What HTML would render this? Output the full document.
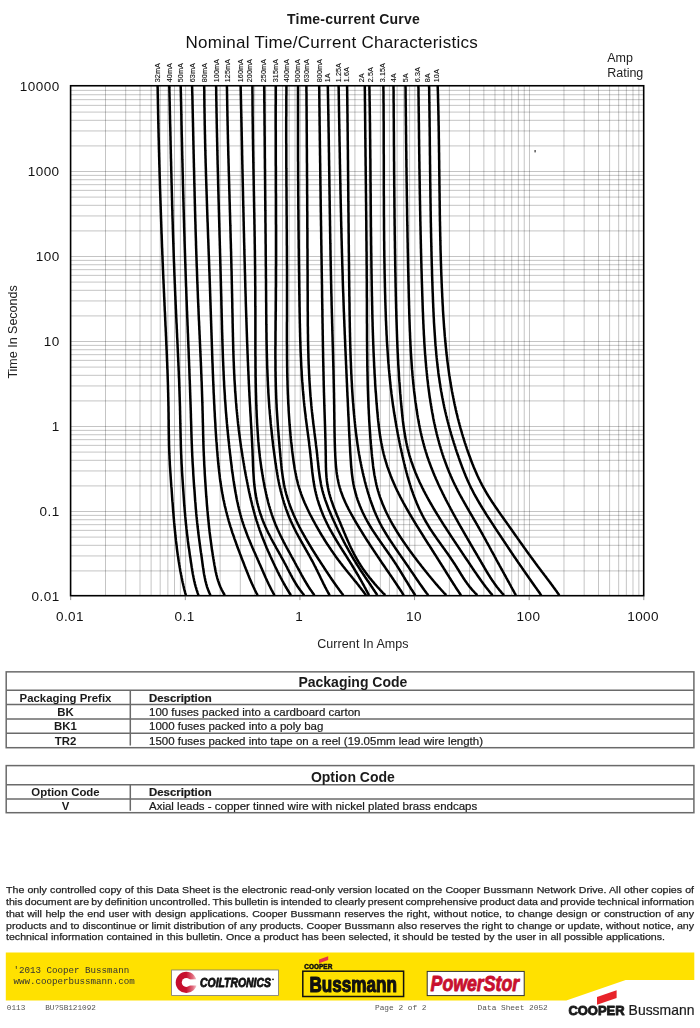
<!DOCTYPE html>
<html><head><meta charset="utf-8"><title>Time-current Curve</title>
<style>
html,body{margin:0;padding:0;background:#fff;}
body{width:700px;height:1028px;position:relative;overflow:hidden;font-family:"Liberation Sans",sans-serif;color:#231f20;}
.abs{position:absolute;}
.tbl{position:absolute;left:5.45px;width:689.3px;border:1.5px solid transparent;box-sizing:border-box;}
.tbl .row{position:absolute;left:0;right:0;border-top:1.5px solid #6e6969;}
.tbl .vd{position:absolute;left:122.5px;width:1.4px;background:#6e6969;}
.tt{position:absolute;left:5.6px;right:0;text-align:center;font-weight:bold;font-size:14px;line-height:16px;white-space:nowrap;color:#231815;}
.c1{position:absolute;left:-1.5px;width:121px;text-align:center;font-weight:bold;font-size:10.5px;line-height:12px;white-space:nowrap;transform:scaleX(1.085);transform-origin:50% 50%;color:#231815;}
.c2{position:absolute;left:142.9px;font-size:10.7px;line-height:12px;white-space:nowrap;transform:scaleX(1.075);transform-origin:0 50%;color:#231815;-webkit-text-stroke:0.2px #231815;}
.c2b{font-weight:bold;font-size:10.5px;transform:scaleX(1.085);}
.para{position:absolute;left:5.9px;width:640px;top:884px;font-size:9.8px;line-height:11.84px;color:#231f20;transform:scaleX(1.083);transform-origin:0 0;-webkit-text-stroke:0.25px #231f20;}
.para div{white-space:nowrap;}
.mono{font-family:"Liberation Mono",monospace;white-space:nowrap;position:absolute;}
.gs{filter:grayscale(1);}

</style></head><body>
<div style="filter:grayscale(1)">
<svg width="700" height="660" viewBox="0 0 700 660" style="position:absolute;left:0;top:0">
<path d="M105.50,85.75V595.7 M125.69,85.75V595.7 M140.01,85.75V595.7 M151.12,85.75V595.7 M160.19,85.75V595.7 M167.87,85.75V595.7 M174.51,85.75V595.7 M180.38,85.75V595.7 M185.62,85.75V595.7 M220.12,85.75V595.7 M240.31,85.75V595.7 M254.63,85.75V595.7 M265.74,85.75V595.7 M274.81,85.75V595.7 M282.49,85.75V595.7 M289.13,85.75V595.7 M295.00,85.75V595.7 M300.24,85.75V595.7 M334.74,85.75V595.7 M354.93,85.75V595.7 M369.25,85.75V595.7 M380.36,85.75V595.7 M389.43,85.75V595.7 M397.11,85.75V595.7 M403.75,85.75V595.7 M409.62,85.75V595.7 M414.86,85.75V595.7 M449.36,85.75V595.7 M469.55,85.75V595.7 M483.87,85.75V595.7 M494.98,85.75V595.7 M504.05,85.75V595.7 M511.73,85.75V595.7 M518.37,85.75V595.7 M524.24,85.75V595.7 M529.48,85.75V595.7 M563.98,85.75V595.7 M584.17,85.75V595.7 M598.49,85.75V595.7 M609.60,85.75V595.7 M618.67,85.75V595.7 M626.35,85.75V595.7 M632.99,85.75V595.7 M638.86,85.75V595.7 M70.6,570.91H643.7 M70.6,555.94H643.7 M70.6,545.32H643.7 M70.6,537.09H643.7 M70.6,530.36H643.7 M70.6,524.67H643.7 M70.6,519.74H643.7 M70.6,515.39H643.7 M70.6,511.50H643.7 M70.6,485.91H643.7 M70.6,470.94H643.7 M70.6,460.32H643.7 M70.6,452.09H643.7 M70.6,445.36H643.7 M70.6,439.67H643.7 M70.6,434.74H643.7 M70.6,430.39H643.7 M70.6,426.50H643.7 M70.6,400.91H643.7 M70.6,385.94H643.7 M70.6,375.32H643.7 M70.6,367.09H643.7 M70.6,360.36H643.7 M70.6,354.67H643.7 M70.6,349.74H643.7 M70.6,345.39H643.7 M70.6,341.50H643.7 M70.6,315.91H643.7 M70.6,300.94H643.7 M70.6,290.32H643.7 M70.6,282.09H643.7 M70.6,275.36H643.7 M70.6,269.67H643.7 M70.6,264.74H643.7 M70.6,260.39H643.7 M70.6,256.50H643.7 M70.6,230.91H643.7 M70.6,215.94H643.7 M70.6,205.32H643.7 M70.6,197.09H643.7 M70.6,190.36H643.7 M70.6,184.67H643.7 M70.6,179.74H643.7 M70.6,175.39H643.7 M70.6,171.50H643.7 M70.6,145.91H643.7 M70.6,130.94H643.7 M70.6,120.32H643.7 M70.6,112.09H643.7 M70.6,105.36H643.7 M70.6,99.67H643.7 M70.6,94.74H643.7 M70.6,90.39H643.7" stroke="#000" stroke-opacity="0.23" stroke-width="1" fill="none"/>
<path d="M70.70,596.4v3.7 M185.32,596.4v3.7 M299.94,596.4v3.7 M414.56,596.4v3.7 M529.18,596.4v3.7 M643.80,596.4v3.7" stroke="#888" stroke-width="0.9" fill="none"/>
<g stroke="#000" stroke-width="2.5" fill="none" stroke-linejoin="round">
<path d="M157.6,85.8 L157.6,87.2 L157.7,88.8 L157.7,90.2 L157.7,91.8 L157.7,93.2 L157.8,94.8 L157.8,96.2 L157.8,97.8 L157.9,99.2 L157.9,100.8 L157.9,102.2 L157.9,103.8 L158.0,105.2 L158.0,106.8 L158.0,108.2 L158.1,109.8 L158.1,111.2 L158.1,112.8 L158.1,114.2 L158.2,115.8 L158.2,117.2 L158.2,118.8 L158.3,120.2 L158.3,121.8 L158.3,123.2 L158.4,124.8 L158.4,126.2 L158.4,127.8 L158.5,129.2 L158.5,130.8 L158.5,132.2 L158.6,133.8 L158.6,135.2 L158.6,136.8 L158.7,138.2 L158.7,139.8 L158.8,141.2 L158.8,142.8 L158.8,144.2 L158.9,145.8 L158.9,147.2 L158.9,148.8 L159.0,150.2 L159.0,151.8 L159.1,153.2 L159.1,154.8 L159.1,156.2 L159.2,157.8 L159.2,159.2 L159.3,160.8 L159.3,162.2 L159.3,163.8 L159.4,165.2 L159.4,166.8 L159.5,168.2 L159.5,169.8 L159.5,171.2 L159.6,172.8 L159.6,174.2 L159.7,175.8 L159.7,177.2 L159.8,178.8 L159.8,180.2 L159.9,181.8 L159.9,183.2 L159.9,184.8 L160.0,186.2 L160.0,187.8 L160.1,189.2 L160.1,190.8 L160.2,192.2 L160.2,193.8 L160.3,195.2 L160.3,196.8 L160.4,198.2 L160.4,199.8 L160.5,201.2 L160.5,202.8 L160.6,204.2 L160.6,205.8 L160.7,207.2 L160.7,208.8 L160.8,210.2 L160.8,211.8 L160.9,213.2 L160.9,214.8 L161.0,216.2 L161.0,217.8 L161.1,219.2 L161.1,220.8 L161.2,222.2 L161.2,223.8 L161.3,225.2 L161.3,226.8 L161.4,228.2 L161.4,229.8 L161.5,231.2 L161.5,232.8 L161.6,234.2 L161.7,235.8 L161.7,237.2 L161.8,238.8 L161.8,240.2 L161.9,241.8 L161.9,243.2 L162.0,244.8 L162.0,246.2 L162.1,247.8 L162.2,249.2 L162.2,250.8 L162.3,252.2 L162.3,253.8 L162.4,255.2 L162.5,256.8 L162.5,258.2 L162.6,259.8 L162.6,261.2 L162.7,262.8 L162.8,264.2 L162.8,265.8 L162.9,267.2 L162.9,268.8 L163.0,270.2 L163.1,271.8 L163.1,273.2 L163.2,274.8 L163.3,276.2 L163.3,277.8 L163.4,279.2 L163.5,280.8 L163.5,282.2 L163.6,283.8 L163.7,285.2 L163.7,286.8 L163.8,288.2 L163.9,289.8 L163.9,291.2 L164.0,292.8 L164.1,294.2 L164.1,295.8 L164.2,297.2 L164.3,298.8 L164.3,300.2 L164.4,301.8 L164.5,303.2 L164.5,304.8 L164.6,306.2 L164.7,307.8 L164.7,309.2 L164.8,310.8 L164.9,312.2 L165.0,313.8 L165.0,315.2 L165.1,316.8 L165.2,318.2 L165.2,319.8 L165.3,321.2 L165.4,322.8 L165.4,324.2 L165.5,325.8 L165.6,327.2 L165.7,328.8 L165.7,330.2 L165.8,331.8 L165.9,333.2 L165.9,334.8 L166.0,336.2 L166.1,337.8 L166.1,339.2 L166.2,340.8 L166.3,342.2 L166.3,343.8 L166.4,345.2 L166.5,346.8 L166.5,348.2 L166.6,349.8 L166.7,351.2 L166.7,352.8 L166.8,354.2 L166.9,355.8 L166.9,357.2 L167.0,358.8 L167.0,360.2 L167.1,361.8 L167.2,363.2 L167.2,364.8 L167.3,366.2 L167.3,367.8 L167.4,369.2 L167.5,370.8 L167.5,372.2 L167.6,373.8 L167.6,375.2 L167.7,376.8 L167.7,378.2 L167.8,379.8 L167.8,381.2 L167.9,382.8 L167.9,384.2 L168.0,385.8 L168.0,387.2 L168.0,388.8 L168.1,390.2 L168.1,391.8 L168.2,393.2 L168.2,394.8 L168.2,396.2 L168.3,397.8 L168.3,399.2 L168.3,400.8 L168.4,402.2 L168.4,403.8 L168.4,405.2 L168.5,406.8 L168.5,408.2 L168.5,409.8 L168.5,411.2 L168.6,412.8 L168.6,414.2 L168.6,415.8 L168.6,417.2 L168.6,418.8 L168.7,420.2 L168.7,421.8 L168.7,423.2 L168.7,424.8 L168.7,426.2 L168.7,427.8 L168.8,429.2 L168.8,430.8 L168.8,432.2 L168.8,433.8 L168.9,435.2 L168.9,436.8 L168.9,438.2 L168.9,439.8 L169.0,441.2 L169.0,442.8 L169.0,444.2 L169.1,445.8 L169.1,447.2 L169.2,448.8 L169.2,450.2 L169.3,451.8 L169.3,453.2 L169.4,454.8 L169.5,456.2 L169.5,457.8 L169.6,459.2 L169.7,460.8 L169.8,462.2 L169.8,463.8 L169.9,465.2 L170.0,466.8 L170.1,468.2 L170.2,469.8 L170.3,471.2 L170.4,472.8 L170.5,474.2 L170.6,475.8 L170.7,477.2 L170.8,478.8 L170.9,480.2 L171.0,481.8 L171.1,483.2 L171.2,484.8 L171.3,486.2 L171.5,487.8 L171.6,489.2 L171.7,490.8 L171.8,492.2 L171.9,493.8 L172.0,495.2 L172.1,496.8 L172.2,498.2 L172.3,499.8 L172.4,501.2 L172.6,502.8 L172.7,504.2 L172.8,505.8 L172.9,507.2 L173.0,508.8 L173.1,510.2 L173.2,511.8 L173.4,513.2 L173.5,514.8 L173.6,516.2 L173.7,517.8 L173.9,519.2 L174.0,520.8 L174.1,522.2 L174.3,523.8 L174.4,525.2 L174.5,526.8 L174.7,528.2 L174.8,529.8 L175.0,531.2 L175.1,532.8 L175.3,534.2 L175.4,535.8 L175.6,537.2 L175.8,538.8 L175.9,540.2 L176.1,541.8 L176.3,543.2 L176.5,544.8 L176.7,546.2 L176.8,547.8 L177.0,549.2 L177.2,550.8 L177.4,552.2 L177.6,553.8 L177.8,555.2 L178.1,556.8 L178.3,558.2 L178.5,559.8 L178.7,561.2 L179.0,562.8 L179.2,564.2 L179.5,565.8 L179.7,567.2 L180.0,568.8 L180.2,570.2 L180.5,571.8 L180.8,573.2 L181.1,574.8 L181.4,576.2 L181.7,577.8 L182.0,579.2 L182.3,580.8 L182.6,582.2 L183.0,583.8 L183.3,585.2 L183.7,586.8 L184.0,588.2 L184.4,589.8 L184.8,591.2 L185.2,592.8 L185.6,594.2 L185.9,595.2"/>
<path d="M169.3,85.8 L169.3,87.2 L169.4,88.8 L169.4,90.2 L169.4,91.8 L169.5,93.2 L169.5,94.8 L169.5,96.2 L169.6,97.8 L169.6,99.2 L169.6,100.8 L169.7,102.2 L169.7,103.8 L169.7,105.2 L169.8,106.8 L169.8,108.2 L169.8,109.8 L169.9,111.2 L169.9,112.8 L169.9,114.2 L170.0,115.8 L170.0,117.2 L170.0,118.8 L170.1,120.2 L170.1,121.8 L170.1,123.2 L170.2,124.8 L170.2,126.2 L170.3,127.8 L170.3,129.2 L170.3,130.8 L170.4,132.2 L170.4,133.8 L170.4,135.2 L170.5,136.8 L170.5,138.2 L170.5,139.8 L170.6,141.2 L170.6,142.8 L170.6,144.2 L170.7,145.8 L170.7,147.2 L170.7,148.8 L170.8,150.2 L170.8,151.8 L170.8,153.2 L170.9,154.8 L170.9,156.2 L170.9,157.8 L171.0,159.2 L171.0,160.8 L171.1,162.2 L171.1,163.8 L171.1,165.2 L171.2,166.8 L171.2,168.2 L171.2,169.8 L171.3,171.2 L171.3,172.8 L171.4,174.2 L171.4,175.8 L171.4,177.2 L171.5,178.8 L171.5,180.2 L171.5,181.8 L171.6,183.2 L171.6,184.8 L171.7,186.2 L171.7,187.8 L171.7,189.2 L171.8,190.8 L171.8,192.2 L171.9,193.8 L171.9,195.2 L171.9,196.8 L172.0,198.2 L172.0,199.8 L172.1,201.2 L172.1,202.8 L172.1,204.2 L172.2,205.8 L172.2,207.2 L172.3,208.8 L172.3,210.2 L172.4,211.8 L172.4,213.2 L172.4,214.8 L172.5,216.2 L172.5,217.8 L172.6,219.2 L172.6,220.8 L172.7,222.2 L172.7,223.8 L172.8,225.2 L172.8,226.8 L172.8,228.2 L172.9,229.8 L172.9,231.2 L173.0,232.8 L173.0,234.2 L173.1,235.8 L173.1,237.2 L173.2,238.8 L173.2,240.2 L173.3,241.8 L173.3,243.2 L173.4,244.8 L173.4,246.2 L173.5,247.8 L173.5,249.2 L173.6,250.8 L173.6,252.2 L173.7,253.8 L173.7,255.2 L173.8,256.8 L173.8,258.2 L173.9,259.8 L173.9,261.2 L174.0,262.8 L174.1,264.2 L174.1,265.8 L174.2,267.2 L174.2,268.8 L174.3,270.2 L174.3,271.8 L174.4,273.2 L174.4,274.8 L174.5,276.2 L174.6,277.8 L174.6,279.2 L174.7,280.8 L174.7,282.2 L174.8,283.8 L174.9,285.2 L174.9,286.8 L175.0,288.2 L175.0,289.8 L175.1,291.2 L175.2,292.8 L175.2,294.2 L175.3,295.8 L175.4,297.2 L175.4,298.8 L175.5,300.2 L175.6,301.8 L175.6,303.2 L175.7,304.8 L175.8,306.2 L175.8,307.8 L175.9,309.2 L176.0,310.8 L176.0,312.2 L176.1,313.8 L176.2,315.2 L176.2,316.8 L176.3,318.2 L176.4,319.8 L176.4,321.2 L176.5,322.8 L176.6,324.2 L176.7,325.8 L176.7,327.2 L176.8,328.8 L176.9,330.2 L176.9,331.8 L177.0,333.2 L177.1,334.8 L177.1,336.2 L177.2,337.8 L177.3,339.2 L177.4,340.8 L177.4,342.2 L177.5,343.8 L177.6,345.2 L177.6,346.8 L177.7,348.2 L177.8,349.8 L177.8,351.2 L177.9,352.8 L178.0,354.2 L178.0,355.8 L178.1,357.2 L178.2,358.8 L178.2,360.2 L178.3,361.8 L178.4,363.2 L178.4,364.8 L178.5,366.2 L178.6,367.8 L178.6,369.2 L178.7,370.8 L178.8,372.2 L178.8,373.8 L178.9,375.2 L178.9,376.8 L179.0,378.2 L179.1,379.8 L179.1,381.2 L179.2,382.8 L179.2,384.2 L179.3,385.8 L179.3,387.2 L179.4,388.8 L179.4,390.2 L179.5,391.8 L179.5,393.2 L179.6,394.8 L179.6,396.2 L179.7,397.8 L179.7,399.2 L179.8,400.8 L179.8,402.2 L179.9,403.8 L179.9,405.2 L180.0,406.8 L180.0,408.2 L180.0,409.8 L180.1,411.2 L180.1,412.8 L180.1,414.2 L180.2,415.8 L180.2,417.2 L180.2,418.8 L180.3,420.2 L180.3,421.8 L180.3,423.2 L180.4,424.8 L180.4,426.2 L180.4,427.8 L180.5,429.2 L180.5,430.8 L180.5,432.2 L180.6,433.8 L180.6,435.2 L180.6,436.8 L180.7,438.2 L180.7,439.8 L180.8,441.2 L180.8,442.8 L180.8,444.2 L180.9,445.8 L180.9,447.2 L181.0,448.8 L181.0,450.2 L181.1,451.8 L181.1,453.2 L181.2,454.8 L181.3,456.2 L181.3,457.8 L181.4,459.2 L181.5,460.8 L181.5,462.2 L181.6,463.8 L181.7,465.2 L181.8,466.8 L181.9,468.2 L181.9,469.8 L182.0,471.2 L182.1,472.8 L182.2,474.2 L182.3,475.8 L182.4,477.2 L182.5,478.8 L182.6,480.2 L182.7,481.8 L182.8,483.2 L182.9,484.8 L183.0,486.2 L183.1,487.8 L183.2,489.2 L183.3,490.8 L183.4,492.2 L183.5,493.8 L183.6,495.2 L183.7,496.8 L183.8,498.2 L183.9,499.8 L184.0,501.2 L184.1,502.8 L184.2,504.2 L184.3,505.8 L184.5,507.2 L184.6,508.8 L184.7,510.2 L184.8,511.8 L185.0,513.2 L185.1,514.8 L185.2,516.2 L185.4,517.8 L185.5,519.2 L185.6,520.8 L185.8,522.2 L185.9,523.8 L186.1,525.2 L186.3,526.8 L186.4,528.2 L186.6,529.8 L186.8,531.2 L186.9,532.8 L187.1,534.2 L187.3,535.8 L187.5,537.2 L187.7,538.8 L187.8,540.2 L188.0,541.8 L188.2,543.2 L188.4,544.8 L188.6,546.2 L188.8,547.8 L189.1,549.2 L189.3,550.8 L189.5,552.2 L189.7,553.8 L189.9,555.2 L190.1,556.8 L190.4,558.2 L190.6,559.8 L190.8,561.2 L191.0,562.8 L191.3,564.2 L191.5,565.8 L191.7,567.2 L192.0,568.8 L192.2,570.2 L192.5,571.8 L192.7,573.2 L193.0,574.8 L193.3,576.2 L193.6,577.8 L193.9,579.2 L194.2,580.8 L194.6,582.2 L194.9,583.8 L195.3,585.2 L195.7,586.8 L196.2,588.2 L196.6,589.8 L197.1,591.2 L197.6,592.8 L198.1,594.2 L198.5,595.2"/>
<path d="M180.7,85.8 L180.7,87.2 L180.8,88.8 L180.8,90.2 L180.8,91.8 L180.9,93.2 L180.9,94.8 L180.9,96.2 L181.0,97.8 L181.0,99.2 L181.0,100.8 L181.1,102.2 L181.1,103.8 L181.1,105.2 L181.2,106.8 L181.2,108.2 L181.2,109.8 L181.3,111.2 L181.3,112.8 L181.3,114.2 L181.4,115.8 L181.4,117.2 L181.4,118.8 L181.4,120.2 L181.5,121.8 L181.5,123.2 L181.5,124.8 L181.6,126.2 L181.6,127.8 L181.6,129.2 L181.7,130.8 L181.7,132.2 L181.7,133.8 L181.8,135.2 L181.8,136.8 L181.9,138.2 L181.9,139.8 L181.9,141.2 L182.0,142.8 L182.0,144.2 L182.0,145.8 L182.1,147.2 L182.1,148.8 L182.1,150.2 L182.2,151.8 L182.2,153.2 L182.2,154.8 L182.3,156.2 L182.3,157.8 L182.3,159.2 L182.4,160.8 L182.4,162.2 L182.5,163.8 L182.5,165.2 L182.5,166.8 L182.6,168.2 L182.6,169.8 L182.6,171.2 L182.7,172.8 L182.7,174.2 L182.8,175.8 L182.8,177.2 L182.8,178.8 L182.9,180.2 L182.9,181.8 L182.9,183.2 L183.0,184.8 L183.0,186.2 L183.1,187.8 L183.1,189.2 L183.1,190.8 L183.2,192.2 L183.2,193.8 L183.3,195.2 L183.3,196.8 L183.3,198.2 L183.4,199.8 L183.4,201.2 L183.5,202.8 L183.5,204.2 L183.5,205.8 L183.6,207.2 L183.6,208.8 L183.7,210.2 L183.7,211.8 L183.8,213.2 L183.8,214.8 L183.8,216.2 L183.9,217.8 L183.9,219.2 L184.0,220.8 L184.0,222.2 L184.1,223.8 L184.1,225.2 L184.1,226.8 L184.2,228.2 L184.2,229.8 L184.3,231.2 L184.3,232.8 L184.4,234.2 L184.4,235.8 L184.5,237.2 L184.5,238.8 L184.5,240.2 L184.6,241.8 L184.6,243.2 L184.7,244.8 L184.7,246.2 L184.8,247.8 L184.8,249.2 L184.9,250.8 L184.9,252.2 L185.0,253.8 L185.0,255.2 L185.1,256.8 L185.1,258.2 L185.2,259.8 L185.2,261.2 L185.3,262.8 L185.3,264.2 L185.4,265.8 L185.4,267.2 L185.5,268.8 L185.5,270.2 L185.6,271.8 L185.6,273.2 L185.7,274.8 L185.7,276.2 L185.8,277.8 L185.8,279.2 L185.9,280.8 L185.9,282.2 L186.0,283.8 L186.0,285.2 L186.1,286.8 L186.2,288.2 L186.2,289.8 L186.3,291.2 L186.3,292.8 L186.4,294.2 L186.4,295.8 L186.5,297.2 L186.5,298.8 L186.6,300.2 L186.7,301.8 L186.7,303.2 L186.8,304.8 L186.8,306.2 L186.9,307.8 L186.9,309.2 L187.0,310.8 L187.1,312.2 L187.1,313.8 L187.2,315.2 L187.2,316.8 L187.3,318.2 L187.4,319.8 L187.4,321.2 L187.5,322.8 L187.5,324.2 L187.6,325.8 L187.7,327.2 L187.7,328.8 L187.8,330.2 L187.8,331.8 L187.9,333.2 L188.0,334.8 L188.0,336.2 L188.1,337.8 L188.1,339.2 L188.2,340.8 L188.3,342.2 L188.3,343.8 L188.4,345.2 L188.4,346.8 L188.5,348.2 L188.6,349.8 L188.6,351.2 L188.7,352.8 L188.7,354.2 L188.8,355.8 L188.8,357.2 L188.9,358.8 L189.0,360.2 L189.0,361.8 L189.1,363.2 L189.1,364.8 L189.2,366.2 L189.3,367.8 L189.3,369.2 L189.4,370.8 L189.4,372.2 L189.5,373.8 L189.5,375.2 L189.6,376.8 L189.6,378.2 L189.7,379.8 L189.8,381.2 L189.8,382.8 L189.9,384.2 L189.9,385.8 L190.0,387.2 L190.0,388.8 L190.1,390.2 L190.1,391.8 L190.2,393.2 L190.2,394.8 L190.3,396.2 L190.3,397.8 L190.4,399.2 L190.4,400.8 L190.5,402.2 L190.5,403.8 L190.6,405.2 L190.6,406.8 L190.7,408.2 L190.7,409.8 L190.8,411.2 L190.8,412.8 L190.9,414.2 L190.9,415.8 L190.9,417.2 L191.0,418.8 L191.0,420.2 L191.1,421.8 L191.1,423.2 L191.2,424.8 L191.2,426.2 L191.3,427.8 L191.3,429.2 L191.3,430.8 L191.4,432.2 L191.4,433.8 L191.5,435.2 L191.5,436.8 L191.6,438.2 L191.6,439.8 L191.7,441.2 L191.7,442.8 L191.8,444.2 L191.9,445.8 L191.9,447.2 L192.0,448.8 L192.0,450.2 L192.1,451.8 L192.2,453.2 L192.2,454.8 L192.3,456.2 L192.4,457.8 L192.5,459.2 L192.5,460.8 L192.6,462.2 L192.7,463.8 L192.8,465.2 L192.9,466.8 L193.0,468.2 L193.1,469.8 L193.2,471.2 L193.2,472.8 L193.3,474.2 L193.4,475.8 L193.5,477.2 L193.6,478.8 L193.7,480.2 L193.8,481.8 L193.9,483.2 L194.0,484.8 L194.1,486.2 L194.2,487.8 L194.4,489.2 L194.5,490.8 L194.6,492.2 L194.7,493.8 L194.8,495.2 L194.9,496.8 L195.0,498.2 L195.1,499.8 L195.2,501.2 L195.4,502.8 L195.5,504.2 L195.6,505.8 L195.7,507.2 L195.8,508.8 L196.0,510.2 L196.1,511.8 L196.2,513.2 L196.4,514.8 L196.5,516.2 L196.7,517.8 L196.8,519.2 L197.0,520.8 L197.1,522.2 L197.3,523.8 L197.5,525.2 L197.6,526.8 L197.8,528.2 L198.0,529.8 L198.2,531.2 L198.3,532.8 L198.5,534.2 L198.7,535.8 L198.9,537.2 L199.1,538.8 L199.3,540.2 L199.5,541.8 L199.7,543.2 L199.9,544.8 L200.1,546.2 L200.3,547.8 L200.5,549.2 L200.7,550.8 L200.9,552.2 L201.2,553.8 L201.4,555.2 L201.6,556.8 L201.8,558.2 L202.0,559.8 L202.2,561.2 L202.4,562.8 L202.6,564.2 L202.8,565.8 L203.0,567.2 L203.3,568.8 L203.5,570.2 L203.7,571.8 L203.9,573.2 L204.2,574.8 L204.5,576.2 L204.8,577.8 L205.1,579.2 L205.4,580.8 L205.8,582.2 L206.2,583.8 L206.6,585.2 L207.0,586.8 L207.5,588.2 L208.1,589.8 L208.7,591.2 L209.3,592.8 L210.0,594.2 L210.4,595.2"/>
<path d="M192.1,85.8 L192.1,87.2 L192.2,88.8 L192.2,90.2 L192.2,91.8 L192.3,93.2 L192.3,94.8 L192.4,96.2 L192.4,97.8 L192.4,99.2 L192.5,100.8 L192.5,102.2 L192.5,103.8 L192.6,105.2 L192.6,106.8 L192.6,108.2 L192.7,109.8 L192.7,111.2 L192.7,112.8 L192.8,114.2 L192.8,115.8 L192.8,117.2 L192.9,118.8 L192.9,120.2 L192.9,121.8 L193.0,123.2 L193.0,124.8 L193.0,126.2 L193.1,127.8 L193.1,129.2 L193.1,130.8 L193.2,132.2 L193.2,133.8 L193.2,135.2 L193.3,136.8 L193.3,138.2 L193.3,139.8 L193.4,141.2 L193.4,142.8 L193.4,144.2 L193.5,145.8 L193.5,147.2 L193.5,148.8 L193.6,150.2 L193.6,151.8 L193.6,153.2 L193.7,154.8 L193.7,156.2 L193.7,157.8 L193.8,159.2 L193.8,160.8 L193.8,162.2 L193.9,163.8 L193.9,165.2 L193.9,166.8 L194.0,168.2 L194.0,169.8 L194.1,171.2 L194.1,172.8 L194.1,174.2 L194.2,175.8 L194.2,177.2 L194.2,178.8 L194.3,180.2 L194.3,181.8 L194.3,183.2 L194.4,184.8 L194.4,186.2 L194.5,187.8 L194.5,189.2 L194.5,190.8 L194.6,192.2 L194.6,193.8 L194.6,195.2 L194.7,196.8 L194.7,198.2 L194.8,199.8 L194.8,201.2 L194.8,202.8 L194.9,204.2 L194.9,205.8 L195.0,207.2 L195.0,208.8 L195.0,210.2 L195.1,211.8 L195.1,213.2 L195.2,214.8 L195.2,216.2 L195.2,217.8 L195.3,219.2 L195.3,220.8 L195.4,222.2 L195.4,223.8 L195.5,225.2 L195.5,226.8 L195.5,228.2 L195.6,229.8 L195.6,231.2 L195.7,232.8 L195.7,234.2 L195.8,235.8 L195.8,237.2 L195.9,238.8 L195.9,240.2 L196.0,241.8 L196.0,243.2 L196.0,244.8 L196.1,246.2 L196.1,247.8 L196.2,249.2 L196.2,250.8 L196.3,252.2 L196.3,253.8 L196.4,255.2 L196.4,256.8 L196.5,258.2 L196.5,259.8 L196.6,261.2 L196.6,262.8 L196.7,264.2 L196.7,265.8 L196.8,267.2 L196.9,268.8 L196.9,270.2 L197.0,271.8 L197.0,273.2 L197.1,274.8 L197.1,276.2 L197.2,277.8 L197.2,279.2 L197.3,280.8 L197.3,282.2 L197.4,283.8 L197.5,285.2 L197.5,286.8 L197.6,288.2 L197.6,289.8 L197.7,291.2 L197.8,292.8 L197.8,294.2 L197.9,295.8 L197.9,297.2 L198.0,298.8 L198.1,300.2 L198.1,301.8 L198.2,303.2 L198.3,304.8 L198.3,306.2 L198.4,307.8 L198.5,309.2 L198.5,310.8 L198.6,312.2 L198.6,313.8 L198.7,315.2 L198.8,316.8 L198.8,318.2 L198.9,319.8 L199.0,321.2 L199.1,322.8 L199.1,324.2 L199.2,325.8 L199.3,327.2 L199.3,328.8 L199.4,330.2 L199.5,331.8 L199.5,333.2 L199.6,334.8 L199.7,336.2 L199.7,337.8 L199.8,339.2 L199.9,340.8 L199.9,342.2 L200.0,343.8 L200.1,345.2 L200.1,346.8 L200.2,348.2 L200.3,349.8 L200.3,351.2 L200.4,352.8 L200.5,354.2 L200.5,355.8 L200.6,357.2 L200.7,358.8 L200.7,360.2 L200.8,361.8 L200.9,363.2 L200.9,364.8 L201.0,366.2 L201.1,367.8 L201.1,369.2 L201.2,370.8 L201.2,372.2 L201.3,373.8 L201.4,375.2 L201.4,376.8 L201.5,378.2 L201.5,379.8 L201.6,381.2 L201.7,382.8 L201.7,384.2 L201.8,385.8 L201.8,387.2 L201.9,388.8 L201.9,390.2 L202.0,391.8 L202.0,393.2 L202.1,394.8 L202.1,396.2 L202.2,397.8 L202.2,399.2 L202.3,400.8 L202.3,402.2 L202.4,403.8 L202.4,405.2 L202.5,406.8 L202.5,408.2 L202.5,409.8 L202.6,411.2 L202.6,412.8 L202.7,414.2 L202.7,415.8 L202.7,417.2 L202.8,418.8 L202.8,420.2 L202.8,421.8 L202.9,423.2 L202.9,424.8 L203.0,426.2 L203.0,427.8 L203.0,429.2 L203.1,430.8 L203.1,432.2 L203.1,433.8 L203.2,435.2 L203.2,436.8 L203.3,438.2 L203.3,439.8 L203.3,441.2 L203.4,442.8 L203.4,444.2 L203.5,445.8 L203.5,447.2 L203.6,448.8 L203.6,450.2 L203.7,451.8 L203.8,453.2 L203.8,454.8 L203.9,456.2 L204.0,457.8 L204.0,459.2 L204.1,460.8 L204.2,462.2 L204.2,463.8 L204.3,465.2 L204.4,466.8 L204.5,468.2 L204.6,469.8 L204.7,471.2 L204.7,472.8 L204.8,474.2 L204.9,475.8 L205.0,477.2 L205.1,478.8 L205.2,480.2 L205.3,481.8 L205.4,483.2 L205.5,484.8 L205.6,486.2 L205.7,487.8 L205.8,489.2 L205.9,490.8 L206.0,492.2 L206.1,493.8 L206.2,495.2 L206.3,496.8 L206.5,498.2 L206.6,499.8 L206.7,501.2 L206.8,502.8 L206.9,504.2 L207.0,505.8 L207.2,507.2 L207.3,508.8 L207.4,510.2 L207.6,511.8 L207.7,513.2 L207.8,514.8 L208.0,516.2 L208.1,517.8 L208.3,519.2 L208.4,520.8 L208.6,522.2 L208.7,523.8 L208.9,525.2 L209.0,526.8 L209.2,528.2 L209.4,529.8 L209.5,531.2 L209.7,532.8 L209.9,534.2 L210.1,535.8 L210.3,537.2 L210.5,538.8 L210.7,540.2 L210.9,541.8 L211.1,543.2 L211.3,544.8 L211.5,546.2 L211.7,547.8 L211.9,549.2 L212.1,550.8 L212.4,552.2 L212.6,553.8 L212.8,555.2 L213.1,556.8 L213.3,558.2 L213.6,559.8 L213.8,561.2 L214.1,562.8 L214.3,564.2 L214.6,565.8 L214.9,567.2 L215.1,568.8 L215.4,570.2 L215.7,571.8 L216.1,573.2 L216.4,574.8 L216.8,576.2 L217.2,577.8 L217.6,579.2 L218.1,580.8 L218.6,582.2 L219.1,583.8 L219.7,585.2 L220.3,586.8 L221.0,588.2 L221.7,589.8 L222.5,591.2 L223.3,592.8 L224.2,594.2 L224.8,595.2"/>
<path d="M204.2,85.8 L204.2,87.2 L204.2,88.8 L204.3,90.2 L204.3,91.8 L204.3,93.2 L204.3,94.8 L204.3,96.2 L204.3,97.8 L204.3,99.2 L204.4,100.8 L204.4,102.2 L204.4,103.8 L204.4,105.2 L204.4,106.8 L204.5,108.2 L204.5,109.8 L204.5,111.2 L204.5,112.8 L204.6,114.2 L204.6,115.8 L204.6,117.2 L204.6,118.8 L204.7,120.2 L204.7,121.8 L204.7,123.2 L204.7,124.8 L204.8,126.2 L204.8,127.8 L204.8,129.2 L204.9,130.8 L204.9,132.2 L204.9,133.8 L205.0,135.2 L205.0,136.8 L205.0,138.2 L205.1,139.8 L205.1,141.2 L205.1,142.8 L205.2,144.2 L205.2,145.8 L205.2,147.2 L205.3,148.8 L205.3,150.2 L205.4,151.8 L205.4,153.2 L205.4,154.8 L205.5,156.2 L205.5,157.8 L205.6,159.2 L205.6,160.8 L205.6,162.2 L205.7,163.8 L205.7,165.2 L205.8,166.8 L205.8,168.2 L205.9,169.8 L205.9,171.2 L205.9,172.8 L206.0,174.2 L206.0,175.8 L206.1,177.2 L206.1,178.8 L206.2,180.2 L206.2,181.8 L206.3,183.2 L206.3,184.8 L206.4,186.2 L206.4,187.8 L206.5,189.2 L206.5,190.8 L206.6,192.2 L206.6,193.8 L206.7,195.2 L206.7,196.8 L206.8,198.2 L206.8,199.8 L206.9,201.2 L206.9,202.8 L207.0,204.2 L207.0,205.8 L207.1,207.2 L207.1,208.8 L207.2,210.2 L207.2,211.8 L207.3,213.2 L207.3,214.8 L207.4,216.2 L207.4,217.8 L207.5,219.2 L207.5,220.8 L207.6,222.2 L207.7,223.8 L207.7,225.2 L207.8,226.8 L207.8,228.2 L207.9,229.8 L207.9,231.2 L208.0,232.8 L208.0,234.2 L208.1,235.8 L208.1,237.2 L208.2,238.8 L208.3,240.2 L208.3,241.8 L208.4,243.2 L208.4,244.8 L208.5,246.2 L208.5,247.8 L208.6,249.2 L208.6,250.8 L208.7,252.2 L208.7,253.8 L208.8,255.2 L208.9,256.8 L208.9,258.2 L209.0,259.8 L209.0,261.2 L209.1,262.8 L209.1,264.2 L209.2,265.8 L209.2,267.2 L209.3,268.8 L209.3,270.2 L209.4,271.8 L209.5,273.2 L209.5,274.8 L209.6,276.2 L209.6,277.8 L209.7,279.2 L209.7,280.8 L209.8,282.2 L209.8,283.8 L209.9,285.2 L209.9,286.8 L210.0,288.2 L210.0,289.8 L210.1,291.2 L210.1,292.8 L210.2,294.2 L210.2,295.8 L210.3,297.2 L210.3,298.8 L210.4,300.2 L210.4,301.8 L210.5,303.2 L210.5,304.8 L210.6,306.2 L210.6,307.8 L210.7,309.2 L210.7,310.8 L210.8,312.2 L210.8,313.8 L210.9,315.2 L210.9,316.8 L211.0,318.2 L211.0,319.8 L211.1,321.2 L211.1,322.8 L211.2,324.2 L211.2,325.8 L211.3,327.2 L211.3,328.8 L211.4,330.2 L211.4,331.8 L211.5,333.2 L211.5,334.8 L211.6,336.2 L211.6,337.8 L211.7,339.2 L211.7,340.8 L211.8,342.2 L211.8,343.8 L211.9,345.2 L211.9,346.8 L212.0,348.2 L212.0,349.8 L212.1,351.2 L212.1,352.8 L212.2,354.2 L212.2,355.8 L212.3,357.2 L212.3,358.8 L212.4,360.2 L212.4,361.8 L212.5,363.2 L212.6,364.8 L212.6,366.2 L212.7,367.8 L212.7,369.2 L212.8,370.8 L212.8,372.2 L212.9,373.8 L213.0,375.2 L213.0,376.8 L213.1,378.2 L213.1,379.8 L213.2,381.2 L213.3,382.8 L213.3,384.2 L213.4,385.8 L213.5,387.2 L213.5,388.8 L213.6,390.2 L213.6,391.8 L213.7,393.2 L213.8,394.8 L213.9,396.2 L213.9,397.8 L214.0,399.2 L214.1,400.8 L214.1,402.2 L214.2,403.8 L214.3,405.2 L214.4,406.8 L214.4,408.2 L214.5,409.8 L214.6,411.2 L214.7,412.8 L214.8,414.2 L214.8,415.8 L214.9,417.2 L215.0,418.8 L215.1,420.2 L215.2,421.8 L215.3,423.2 L215.4,424.8 L215.4,426.2 L215.5,427.8 L215.6,429.2 L215.7,430.8 L215.8,432.2 L215.9,433.8 L216.0,435.2 L216.1,436.8 L216.2,438.2 L216.3,439.8 L216.4,441.2 L216.6,442.8 L216.7,444.2 L216.8,445.8 L216.9,447.2 L217.0,448.8 L217.1,450.2 L217.3,451.8 L217.4,453.2 L217.5,454.8 L217.6,456.2 L217.8,457.8 L217.9,459.2 L218.0,460.8 L218.2,462.2 L218.3,463.8 L218.5,465.2 L218.6,466.8 L218.8,468.2 L219.0,469.8 L219.1,471.2 L219.3,472.8 L219.5,474.2 L219.7,475.8 L219.8,477.2 L220.0,478.8 L220.2,480.2 L220.4,481.8 L220.7,483.2 L220.9,484.8 L221.1,486.2 L221.4,487.8 L221.6,489.2 L221.8,490.8 L222.1,492.2 L222.4,493.8 L222.7,495.2 L222.9,496.8 L223.2,498.2 L223.5,499.8 L223.9,501.2 L224.2,502.8 L224.5,504.2 L224.8,505.8 L225.2,507.2 L225.6,508.8 L225.9,510.2 L226.3,511.8 L226.7,513.2 L227.1,514.8 L227.5,516.2 L227.9,517.8 L228.3,519.2 L228.7,520.8 L229.1,522.2 L229.6,523.8 L230.0,525.2 L230.5,526.8 L231.0,528.2 L231.5,529.8 L231.9,531.2 L232.4,532.8 L232.9,534.2 L233.5,535.8 L234.0,537.2 L234.5,538.8 L235.0,540.2 L235.6,541.8 L236.1,543.2 L236.6,544.8 L237.2,546.2 L237.7,547.8 L238.3,549.2 L238.9,550.8 L239.4,552.2 L240.0,553.8 L240.6,555.2 L241.1,556.8 L241.7,558.2 L242.3,559.8 L242.9,561.2 L243.5,562.8 L244.0,564.2 L244.6,565.8 L245.2,567.2 L245.8,568.8 L246.4,570.2 L247.0,571.8 L247.6,573.2 L248.2,574.8 L248.8,576.2 L249.4,577.8 L250.0,579.2 L250.7,580.8 L251.3,582.2 L252.0,583.8 L252.7,585.2 L253.4,586.8 L254.1,588.2 L254.8,589.8 L255.5,591.2 L256.3,592.8 L257.1,594.2 L257.6,595.2"/>
<path d="M216.1,85.8 L216.1,87.2 L216.2,88.8 L216.2,90.2 L216.2,91.8 L216.2,93.2 L216.2,94.8 L216.3,96.2 L216.3,97.8 L216.3,99.2 L216.3,100.8 L216.4,102.2 L216.4,103.8 L216.4,105.2 L216.4,106.8 L216.5,108.2 L216.5,109.8 L216.5,111.2 L216.5,112.8 L216.6,114.2 L216.6,115.8 L216.6,117.2 L216.7,118.8 L216.7,120.2 L216.7,121.8 L216.7,123.2 L216.8,124.8 L216.8,126.2 L216.8,127.8 L216.9,129.2 L216.9,130.8 L216.9,132.2 L217.0,133.8 L217.0,135.2 L217.0,136.8 L217.1,138.2 L217.1,139.8 L217.1,141.2 L217.2,142.8 L217.2,144.2 L217.2,145.8 L217.3,147.2 L217.3,148.8 L217.3,150.2 L217.4,151.8 L217.4,153.2 L217.4,154.8 L217.5,156.2 L217.5,157.8 L217.5,159.2 L217.6,160.8 L217.6,162.2 L217.6,163.8 L217.7,165.2 L217.7,166.8 L217.8,168.2 L217.8,169.8 L217.8,171.2 L217.9,172.8 L217.9,174.2 L218.0,175.8 L218.0,177.2 L218.0,178.8 L218.1,180.2 L218.1,181.8 L218.1,183.2 L218.2,184.8 L218.2,186.2 L218.3,187.8 L218.3,189.2 L218.3,190.8 L218.4,192.2 L218.4,193.8 L218.5,195.2 L218.5,196.8 L218.5,198.2 L218.6,199.8 L218.6,201.2 L218.7,202.8 L218.7,204.2 L218.8,205.8 L218.8,207.2 L218.8,208.8 L218.9,210.2 L218.9,211.8 L219.0,213.2 L219.0,214.8 L219.0,216.2 L219.1,217.8 L219.1,219.2 L219.2,220.8 L219.2,222.2 L219.3,223.8 L219.3,225.2 L219.3,226.8 L219.4,228.2 L219.4,229.8 L219.5,231.2 L219.5,232.8 L219.5,234.2 L219.6,235.8 L219.6,237.2 L219.7,238.8 L219.7,240.2 L219.8,241.8 L219.8,243.2 L219.8,244.8 L219.9,246.2 L219.9,247.8 L220.0,249.2 L220.0,250.8 L220.0,252.2 L220.1,253.8 L220.1,255.2 L220.2,256.8 L220.2,258.2 L220.3,259.8 L220.3,261.2 L220.3,262.8 L220.4,264.2 L220.4,265.8 L220.5,267.2 L220.5,268.8 L220.5,270.2 L220.6,271.8 L220.6,273.2 L220.7,274.8 L220.7,276.2 L220.7,277.8 L220.8,279.2 L220.8,280.8 L220.9,282.2 L220.9,283.8 L220.9,285.2 L221.0,286.8 L221.0,288.2 L221.1,289.8 L221.1,291.2 L221.1,292.8 L221.2,294.2 L221.2,295.8 L221.3,297.2 L221.3,298.8 L221.3,300.2 L221.4,301.8 L221.4,303.2 L221.4,304.8 L221.5,306.2 L221.5,307.8 L221.6,309.2 L221.6,310.8 L221.6,312.2 L221.7,313.8 L221.7,315.2 L221.7,316.8 L221.8,318.2 L221.8,319.8 L221.9,321.2 L221.9,322.8 L221.9,324.2 L222.0,325.8 L222.0,327.2 L222.0,328.8 L222.1,330.2 L222.1,331.8 L222.2,333.2 L222.2,334.8 L222.3,336.2 L222.3,337.8 L222.3,339.2 L222.4,340.8 L222.4,342.2 L222.5,343.8 L222.5,345.2 L222.6,346.8 L222.6,348.2 L222.7,349.8 L222.7,351.2 L222.8,352.8 L222.8,354.2 L222.9,355.8 L222.9,357.2 L223.0,358.8 L223.0,360.2 L223.1,361.8 L223.2,363.2 L223.2,364.8 L223.3,366.2 L223.4,367.8 L223.4,369.2 L223.5,370.8 L223.6,372.2 L223.6,373.8 L223.7,375.2 L223.8,376.8 L223.8,378.2 L223.9,379.8 L224.0,381.2 L224.1,382.8 L224.1,384.2 L224.2,385.8 L224.3,387.2 L224.4,388.8 L224.5,390.2 L224.6,391.8 L224.7,393.2 L224.8,394.8 L224.9,396.2 L224.9,397.8 L225.0,399.2 L225.1,400.8 L225.3,402.2 L225.4,403.8 L225.5,405.2 L225.6,406.8 L225.7,408.2 L225.8,409.8 L225.9,411.2 L226.0,412.8 L226.2,414.2 L226.3,415.8 L226.4,417.2 L226.5,418.8 L226.7,420.2 L226.8,421.8 L226.9,423.2 L227.1,424.8 L227.2,426.2 L227.3,427.8 L227.5,429.2 L227.6,430.8 L227.8,432.2 L227.9,433.8 L228.1,435.2 L228.2,436.8 L228.4,438.2 L228.5,439.8 L228.7,441.2 L228.9,442.8 L229.0,444.2 L229.2,445.8 L229.3,447.2 L229.5,448.8 L229.7,450.2 L229.8,451.8 L230.0,453.2 L230.2,454.8 L230.4,456.2 L230.5,457.8 L230.7,459.2 L230.9,460.8 L231.1,462.2 L231.3,463.8 L231.5,465.2 L231.7,466.8 L231.8,468.2 L232.0,469.8 L232.2,471.2 L232.4,472.8 L232.7,474.2 L232.9,475.8 L233.1,477.2 L233.3,478.8 L233.5,480.2 L233.8,481.8 L234.0,483.2 L234.2,484.8 L234.5,486.2 L234.7,487.8 L235.0,489.2 L235.2,490.8 L235.5,492.2 L235.8,493.8 L236.1,495.2 L236.3,496.8 L236.6,498.2 L236.9,499.8 L237.2,501.2 L237.6,502.8 L237.9,504.2 L238.2,505.8 L238.6,507.2 L238.9,508.8 L239.3,510.2 L239.7,511.8 L240.1,513.2 L240.5,514.8 L240.9,516.2 L241.3,517.8 L241.8,519.2 L242.2,520.8 L242.7,522.2 L243.2,523.8 L243.7,525.2 L244.2,526.8 L244.7,528.2 L245.3,529.8 L245.8,531.2 L246.4,532.8 L246.9,534.2 L247.5,535.8 L248.1,537.2 L248.7,538.8 L249.4,540.2 L250.0,541.8 L250.6,543.2 L251.2,544.8 L251.9,546.2 L252.5,547.8 L253.2,549.2 L253.8,550.8 L254.5,552.2 L255.2,553.8 L255.8,555.2 L256.5,556.8 L257.2,558.2 L257.8,559.8 L258.5,561.2 L259.1,562.8 L259.8,564.2 L260.5,565.8 L261.1,567.2 L261.8,568.8 L262.4,570.2 L263.1,571.8 L263.7,573.2 L264.4,574.8 L265.0,576.2 L265.7,577.8 L266.4,579.2 L267.1,580.8 L267.8,582.2 L268.5,583.8 L269.2,585.2 L270.0,586.8 L270.7,588.2 L271.5,589.8 L272.3,591.2 L273.1,592.8 L273.9,594.2 L274.5,595.2"/>
<path d="M226.9,85.8 L226.9,87.2 L227.0,88.8 L227.0,90.2 L227.0,91.8 L227.0,93.2 L227.1,94.8 L227.1,96.2 L227.1,97.8 L227.1,99.2 L227.2,100.8 L227.2,102.2 L227.2,103.8 L227.2,105.2 L227.3,106.8 L227.3,108.2 L227.3,109.8 L227.4,111.2 L227.4,112.8 L227.4,114.2 L227.4,115.8 L227.5,117.2 L227.5,118.8 L227.5,120.2 L227.6,121.8 L227.6,123.2 L227.6,124.8 L227.7,126.2 L227.7,127.8 L227.7,129.2 L227.8,130.8 L227.8,132.2 L227.8,133.8 L227.9,135.2 L227.9,136.8 L227.9,138.2 L228.0,139.8 L228.0,141.2 L228.0,142.8 L228.1,144.2 L228.1,145.8 L228.2,147.2 L228.2,148.8 L228.2,150.2 L228.3,151.8 L228.3,153.2 L228.3,154.8 L228.4,156.2 L228.4,157.8 L228.5,159.2 L228.5,160.8 L228.5,162.2 L228.6,163.8 L228.6,165.2 L228.7,166.8 L228.7,168.2 L228.7,169.8 L228.8,171.2 L228.8,172.8 L228.9,174.2 L228.9,175.8 L229.0,177.2 L229.0,178.8 L229.0,180.2 L229.1,181.8 L229.1,183.2 L229.2,184.8 L229.2,186.2 L229.2,187.8 L229.3,189.2 L229.3,190.8 L229.4,192.2 L229.4,193.8 L229.5,195.2 L229.5,196.8 L229.5,198.2 L229.6,199.8 L229.6,201.2 L229.7,202.8 L229.7,204.2 L229.8,205.8 L229.8,207.2 L229.8,208.8 L229.9,210.2 L229.9,211.8 L230.0,213.2 L230.0,214.8 L230.1,216.2 L230.1,217.8 L230.1,219.2 L230.2,220.8 L230.2,222.2 L230.3,223.8 L230.3,225.2 L230.4,226.8 L230.4,228.2 L230.4,229.8 L230.5,231.2 L230.5,232.8 L230.6,234.2 L230.6,235.8 L230.6,237.2 L230.7,238.8 L230.7,240.2 L230.8,241.8 L230.8,243.2 L230.9,244.8 L230.9,246.2 L230.9,247.8 L231.0,249.2 L231.0,250.8 L231.1,252.2 L231.1,253.8 L231.1,255.2 L231.2,256.8 L231.2,258.2 L231.3,259.8 L231.3,261.2 L231.3,262.8 L231.4,264.2 L231.4,265.8 L231.4,267.2 L231.5,268.8 L231.5,270.2 L231.6,271.8 L231.6,273.2 L231.6,274.8 L231.7,276.2 L231.7,277.8 L231.7,279.2 L231.8,280.8 L231.8,282.2 L231.8,283.8 L231.9,285.2 L231.9,286.8 L231.9,288.2 L232.0,289.8 L232.0,291.2 L232.0,292.8 L232.1,294.2 L232.1,295.8 L232.1,297.2 L232.2,298.8 L232.2,300.2 L232.2,301.8 L232.3,303.2 L232.3,304.8 L232.3,306.2 L232.3,307.8 L232.4,309.2 L232.4,310.8 L232.4,312.2 L232.5,313.8 L232.5,315.2 L232.5,316.8 L232.6,318.2 L232.6,319.8 L232.6,321.2 L232.6,322.8 L232.7,324.2 L232.7,325.8 L232.7,327.2 L232.8,328.8 L232.8,330.2 L232.8,331.8 L232.9,333.2 L232.9,334.8 L232.9,336.2 L233.0,337.8 L233.0,339.2 L233.0,340.8 L233.1,342.2 L233.1,343.8 L233.2,345.2 L233.2,346.8 L233.2,348.2 L233.3,349.8 L233.3,351.2 L233.4,352.8 L233.4,354.2 L233.5,355.8 L233.5,357.2 L233.6,358.8 L233.6,360.2 L233.7,361.8 L233.8,363.2 L233.8,364.8 L233.9,366.2 L233.9,367.8 L234.0,369.2 L234.1,370.8 L234.1,372.2 L234.2,373.8 L234.3,375.2 L234.4,376.8 L234.4,378.2 L234.5,379.8 L234.6,381.2 L234.7,382.8 L234.8,384.2 L234.9,385.8 L235.0,387.2 L235.1,388.8 L235.1,390.2 L235.2,391.8 L235.4,393.2 L235.5,394.8 L235.6,396.2 L235.7,397.8 L235.8,399.2 L235.9,400.8 L236.0,402.2 L236.2,403.8 L236.3,405.2 L236.4,406.8 L236.5,408.2 L236.7,409.8 L236.8,411.2 L237.0,412.8 L237.1,414.2 L237.3,415.8 L237.4,417.2 L237.6,418.8 L237.7,420.2 L237.9,421.8 L238.0,423.2 L238.2,424.8 L238.4,426.2 L238.6,427.8 L238.7,429.2 L238.9,430.8 L239.1,432.2 L239.3,433.8 L239.5,435.2 L239.7,436.8 L239.9,438.2 L240.1,439.8 L240.3,441.2 L240.5,442.8 L240.7,444.2 L240.9,445.8 L241.1,447.2 L241.4,448.8 L241.6,450.2 L241.8,451.8 L242.1,453.2 L242.3,454.8 L242.5,456.2 L242.8,457.8 L243.0,459.2 L243.3,460.8 L243.5,462.2 L243.8,463.8 L244.0,465.2 L244.3,466.8 L244.5,468.2 L244.8,469.8 L245.1,471.2 L245.3,472.8 L245.6,474.2 L245.9,475.8 L246.2,477.2 L246.5,478.8 L246.8,480.2 L247.1,481.8 L247.4,483.2 L247.7,484.8 L248.0,486.2 L248.3,487.8 L248.6,489.2 L248.9,490.8 L249.2,492.2 L249.6,493.8 L249.9,495.2 L250.2,496.8 L250.6,498.2 L250.9,499.8 L251.3,501.2 L251.7,502.8 L252.0,504.2 L252.4,505.8 L252.8,507.2 L253.2,508.8 L253.6,510.2 L254.0,511.8 L254.4,513.2 L254.8,514.8 L255.2,516.2 L255.7,517.8 L256.1,519.2 L256.6,520.8 L257.1,522.2 L257.6,523.8 L258.1,525.2 L258.6,526.8 L259.1,528.2 L259.6,529.8 L260.1,531.2 L260.7,532.8 L261.2,534.2 L261.8,535.8 L262.4,537.2 L263.0,538.8 L263.6,540.2 L264.2,541.8 L264.8,543.2 L265.4,544.8 L266.0,546.2 L266.6,547.8 L267.3,549.2 L267.9,550.8 L268.6,552.2 L269.3,553.8 L269.9,555.2 L270.6,556.8 L271.3,558.2 L272.0,559.8 L272.7,561.2 L273.4,562.8 L274.1,564.2 L274.8,565.8 L275.5,567.2 L276.3,568.8 L277.0,570.2 L277.7,571.8 L278.5,573.2 L279.2,574.8 L280.0,576.2 L280.8,577.8 L281.6,579.2 L282.4,580.8 L283.2,582.2 L284.0,583.8 L284.9,585.2 L285.7,586.8 L286.6,588.2 L287.5,589.8 L288.4,591.2 L289.3,592.8 L290.3,594.2 L290.9,595.2"/>
<path d="M240.6,85.8 L240.7,87.2 L240.7,88.8 L240.7,90.2 L240.8,91.8 L240.8,93.2 L240.8,94.8 L240.9,96.2 L240.9,97.8 L240.9,99.2 L241.0,100.8 L241.0,102.2 L241.0,103.8 L241.1,105.2 L241.1,106.8 L241.1,108.2 L241.2,109.8 L241.2,111.2 L241.2,112.8 L241.3,114.2 L241.3,115.8 L241.3,117.2 L241.4,118.8 L241.4,120.2 L241.4,121.8 L241.5,123.2 L241.5,124.8 L241.5,126.2 L241.6,127.8 L241.6,129.2 L241.6,130.8 L241.7,132.2 L241.7,133.8 L241.7,135.2 L241.8,136.8 L241.8,138.2 L241.8,139.8 L241.9,141.2 L241.9,142.8 L241.9,144.2 L242.0,145.8 L242.0,147.2 L242.0,148.8 L242.1,150.2 L242.1,151.8 L242.1,153.2 L242.1,154.8 L242.2,156.2 L242.2,157.8 L242.2,159.2 L242.3,160.8 L242.3,162.2 L242.3,163.8 L242.4,165.2 L242.4,166.8 L242.4,168.2 L242.5,169.8 L242.5,171.2 L242.5,172.8 L242.6,174.2 L242.6,175.8 L242.6,177.2 L242.7,178.8 L242.7,180.2 L242.7,181.8 L242.8,183.2 L242.8,184.8 L242.8,186.2 L242.9,187.8 L242.9,189.2 L242.9,190.8 L243.0,192.2 L243.0,193.8 L243.0,195.2 L243.1,196.8 L243.1,198.2 L243.1,199.8 L243.2,201.2 L243.2,202.8 L243.2,204.2 L243.3,205.8 L243.3,207.2 L243.4,208.8 L243.4,210.2 L243.4,211.8 L243.5,213.2 L243.5,214.8 L243.5,216.2 L243.6,217.8 L243.6,219.2 L243.6,220.8 L243.7,222.2 L243.7,223.8 L243.7,225.2 L243.8,226.8 L243.8,228.2 L243.8,229.8 L243.9,231.2 L243.9,232.8 L244.0,234.2 L244.0,235.8 L244.0,237.2 L244.1,238.8 L244.1,240.2 L244.1,241.8 L244.2,243.2 L244.2,244.8 L244.3,246.2 L244.3,247.8 L244.3,249.2 L244.4,250.8 L244.4,252.2 L244.4,253.8 L244.5,255.2 L244.5,256.8 L244.6,258.2 L244.6,259.8 L244.6,261.2 L244.7,262.8 L244.7,264.2 L244.8,265.8 L244.8,267.2 L244.8,268.8 L244.9,270.2 L244.9,271.8 L245.0,273.2 L245.0,274.8 L245.1,276.2 L245.1,277.8 L245.1,279.2 L245.2,280.8 L245.2,282.2 L245.3,283.8 L245.3,285.2 L245.3,286.8 L245.4,288.2 L245.4,289.8 L245.5,291.2 L245.5,292.8 L245.6,294.2 L245.6,295.8 L245.7,297.2 L245.7,298.8 L245.7,300.2 L245.8,301.8 L245.8,303.2 L245.9,304.8 L245.9,306.2 L246.0,307.8 L246.0,309.2 L246.1,310.8 L246.1,312.2 L246.2,313.8 L246.2,315.2 L246.3,316.8 L246.3,318.2 L246.4,319.8 L246.4,321.2 L246.5,322.8 L246.5,324.2 L246.6,325.8 L246.6,327.2 L246.7,328.8 L246.7,330.2 L246.8,331.8 L246.8,333.2 L246.9,334.8 L246.9,336.2 L247.0,337.8 L247.0,339.2 L247.1,340.8 L247.1,342.2 L247.2,343.8 L247.3,345.2 L247.3,346.8 L247.4,348.2 L247.4,349.8 L247.5,351.2 L247.5,352.8 L247.6,354.2 L247.7,355.8 L247.7,357.2 L247.8,358.8 L247.8,360.2 L247.9,361.8 L248.0,363.2 L248.0,364.8 L248.1,366.2 L248.2,367.8 L248.2,369.2 L248.3,370.8 L248.4,372.2 L248.4,373.8 L248.5,375.2 L248.6,376.8 L248.6,378.2 L248.7,379.8 L248.8,381.2 L248.8,382.8 L248.9,384.2 L249.0,385.8 L249.1,387.2 L249.1,388.8 L249.2,390.2 L249.3,391.8 L249.4,393.2 L249.4,394.8 L249.5,396.2 L249.6,397.8 L249.7,399.2 L249.7,400.8 L249.8,402.2 L249.9,403.8 L250.0,405.2 L250.1,406.8 L250.2,408.2 L250.2,409.8 L250.3,411.2 L250.4,412.8 L250.5,414.2 L250.6,415.8 L250.7,417.2 L250.8,418.8 L250.8,420.2 L250.9,421.8 L251.0,423.2 L251.1,424.8 L251.2,426.2 L251.3,427.8 L251.4,429.2 L251.5,430.8 L251.5,432.2 L251.6,433.8 L251.7,435.2 L251.8,436.8 L251.9,438.2 L251.9,439.8 L252.0,441.2 L252.1,442.8 L252.2,444.2 L252.2,445.8 L252.3,447.2 L252.4,448.8 L252.5,450.2 L252.5,451.8 L252.6,453.2 L252.6,454.8 L252.7,456.2 L252.8,457.8 L252.8,459.2 L252.9,460.8 L252.9,462.2 L253.0,463.8 L253.0,465.2 L253.1,466.8 L253.2,468.2 L253.2,469.8 L253.3,471.2 L253.4,472.8 L253.5,474.2 L253.6,475.8 L253.7,477.2 L253.8,478.8 L253.9,480.2 L254.0,481.8 L254.2,483.2 L254.3,484.8 L254.5,486.2 L254.7,487.8 L254.9,489.2 L255.1,490.8 L255.3,492.2 L255.5,493.8 L255.8,495.2 L256.1,496.8 L256.4,498.2 L256.7,499.8 L257.0,501.2 L257.3,502.8 L257.7,504.2 L258.1,505.8 L258.5,507.2 L258.9,508.8 L259.3,510.2 L259.8,511.8 L260.2,513.2 L260.7,514.8 L261.3,516.2 L261.8,517.8 L262.3,519.2 L262.9,520.8 L263.5,522.2 L264.1,523.8 L264.8,525.2 L265.4,526.8 L266.1,528.2 L266.8,529.8 L267.5,531.2 L268.2,532.8 L269.0,534.2 L269.8,535.8 L270.5,537.2 L271.3,538.8 L272.1,540.2 L272.9,541.8 L273.7,543.2 L274.6,544.8 L275.4,546.2 L276.2,547.8 L277.0,549.2 L277.9,550.8 L278.7,552.2 L279.6,553.8 L280.4,555.2 L281.2,556.8 L282.0,558.2 L282.9,559.8 L283.7,561.2 L284.5,562.8 L285.3,564.2 L286.1,565.8 L286.9,567.2 L287.6,568.8 L288.4,570.2 L289.2,571.8 L290.0,573.2 L290.8,574.8 L291.6,576.2 L292.4,577.8 L293.2,579.2 L294.1,580.8 L295.0,582.2 L295.9,583.8 L296.8,585.2 L297.8,586.8 L298.8,588.2 L299.9,589.8 L301.0,591.2 L302.2,592.8 L303.4,594.2 L304.2,595.2"/>
<path d="M252.4,85.8 L252.4,87.2 L252.4,88.8 L252.4,90.2 L252.4,91.8 L252.4,93.2 L252.5,94.8 L252.5,96.2 L252.5,97.8 L252.5,99.2 L252.5,100.8 L252.5,102.2 L252.5,103.8 L252.5,105.2 L252.6,106.8 L252.6,108.2 L252.6,109.8 L252.6,111.2 L252.6,112.8 L252.6,114.2 L252.6,115.8 L252.7,117.2 L252.7,118.8 L252.7,120.2 L252.7,121.8 L252.7,123.2 L252.8,124.8 L252.8,126.2 L252.8,127.8 L252.8,129.2 L252.8,130.8 L252.9,132.2 L252.9,133.8 L252.9,135.2 L252.9,136.8 L252.9,138.2 L253.0,139.8 L253.0,141.2 L253.0,142.8 L253.0,144.2 L253.1,145.8 L253.1,147.2 L253.1,148.8 L253.1,150.2 L253.2,151.8 L253.2,153.2 L253.2,154.8 L253.2,156.2 L253.3,157.8 L253.3,159.2 L253.3,160.8 L253.3,162.2 L253.4,163.8 L253.4,165.2 L253.4,166.8 L253.4,168.2 L253.5,169.8 L253.5,171.2 L253.5,172.8 L253.5,174.2 L253.6,175.8 L253.6,177.2 L253.6,178.8 L253.7,180.2 L253.7,181.8 L253.7,183.2 L253.7,184.8 L253.8,186.2 L253.8,187.8 L253.8,189.2 L253.8,190.8 L253.9,192.2 L253.9,193.8 L253.9,195.2 L254.0,196.8 L254.0,198.2 L254.0,199.8 L254.0,201.2 L254.1,202.8 L254.1,204.2 L254.1,205.8 L254.1,207.2 L254.2,208.8 L254.2,210.2 L254.2,211.8 L254.3,213.2 L254.3,214.8 L254.3,216.2 L254.3,217.8 L254.4,219.2 L254.4,220.8 L254.4,222.2 L254.4,223.8 L254.5,225.2 L254.5,226.8 L254.5,228.2 L254.5,229.8 L254.6,231.2 L254.6,232.8 L254.6,234.2 L254.6,235.8 L254.7,237.2 L254.7,238.8 L254.7,240.2 L254.7,241.8 L254.7,243.2 L254.8,244.8 L254.8,246.2 L254.8,247.8 L254.8,249.2 L254.9,250.8 L254.9,252.2 L254.9,253.8 L254.9,255.2 L254.9,256.8 L255.0,258.2 L255.0,259.8 L255.0,261.2 L255.0,262.8 L255.0,264.2 L255.1,265.8 L255.1,267.2 L255.1,268.8 L255.1,270.2 L255.1,271.8 L255.1,273.2 L255.1,274.8 L255.2,276.2 L255.2,277.8 L255.2,279.2 L255.2,280.8 L255.2,282.2 L255.2,283.8 L255.2,285.2 L255.3,286.8 L255.3,288.2 L255.3,289.8 L255.3,291.2 L255.3,292.8 L255.3,294.2 L255.3,295.8 L255.3,297.2 L255.3,298.8 L255.3,300.2 L255.3,301.8 L255.3,303.2 L255.3,304.8 L255.3,306.2 L255.4,307.8 L255.4,309.2 L255.4,310.8 L255.4,312.2 L255.4,313.8 L255.4,315.2 L255.4,316.8 L255.4,318.2 L255.4,319.8 L255.4,321.2 L255.4,322.8 L255.4,324.2 L255.4,325.8 L255.4,327.2 L255.4,328.8 L255.4,330.2 L255.4,331.8 L255.4,333.2 L255.4,334.8 L255.4,336.2 L255.4,337.8 L255.4,339.2 L255.4,340.8 L255.4,342.2 L255.4,343.8 L255.4,345.2 L255.4,346.8 L255.4,348.2 L255.4,349.8 L255.4,351.2 L255.4,352.8 L255.4,354.2 L255.4,355.8 L255.5,357.2 L255.5,358.8 L255.5,360.2 L255.5,361.8 L255.5,363.2 L255.5,364.8 L255.5,366.2 L255.5,367.8 L255.6,369.2 L255.6,370.8 L255.6,372.2 L255.6,373.8 L255.6,375.2 L255.6,376.8 L255.7,378.2 L255.7,379.8 L255.7,381.2 L255.7,382.8 L255.8,384.2 L255.8,385.8 L255.8,387.2 L255.9,388.8 L255.9,390.2 L255.9,391.8 L256.0,393.2 L256.0,394.8 L256.1,396.2 L256.1,397.8 L256.1,399.2 L256.2,400.8 L256.2,402.2 L256.3,403.8 L256.3,405.2 L256.4,406.8 L256.4,408.2 L256.5,409.8 L256.6,411.2 L256.6,412.8 L256.7,414.2 L256.7,415.8 L256.8,417.2 L256.9,418.8 L257.0,420.2 L257.0,421.8 L257.1,423.2 L257.2,424.8 L257.3,426.2 L257.4,427.8 L257.5,429.2 L257.6,430.8 L257.7,432.2 L257.8,433.8 L257.9,435.2 L258.0,436.8 L258.1,438.2 L258.2,439.8 L258.3,441.2 L258.5,442.8 L258.6,444.2 L258.7,445.8 L258.9,447.2 L259.0,448.8 L259.2,450.2 L259.3,451.8 L259.5,453.2 L259.7,454.8 L259.8,456.2 L260.0,457.8 L260.2,459.2 L260.4,460.8 L260.6,462.2 L260.8,463.8 L261.0,465.2 L261.2,466.8 L261.4,468.2 L261.6,469.8 L261.9,471.2 L262.1,472.8 L262.4,474.2 L262.6,475.8 L262.9,477.2 L263.1,478.8 L263.4,480.2 L263.7,481.8 L264.0,483.2 L264.2,484.8 L264.5,486.2 L264.8,487.8 L265.2,489.2 L265.5,490.8 L265.8,492.2 L266.1,493.8 L266.5,495.2 L266.8,496.8 L267.2,498.2 L267.6,499.8 L267.9,501.2 L268.3,502.8 L268.7,504.2 L269.1,505.8 L269.6,507.2 L270.0,508.8 L270.5,510.2 L270.9,511.8 L271.4,513.2 L271.9,514.8 L272.4,516.2 L272.9,517.8 L273.5,519.2 L274.1,520.8 L274.6,522.2 L275.2,523.8 L275.8,525.2 L276.5,526.8 L277.1,528.2 L277.8,529.8 L278.5,531.2 L279.2,532.8 L279.9,534.2 L280.6,535.8 L281.4,537.2 L282.1,538.8 L282.9,540.2 L283.6,541.8 L284.4,543.2 L285.2,544.8 L286.0,546.2 L286.8,547.8 L287.6,549.2 L288.4,550.8 L289.3,552.2 L290.1,553.8 L290.9,555.2 L291.7,556.8 L292.5,558.2 L293.4,559.8 L294.2,561.2 L295.0,562.8 L295.8,564.2 L296.6,565.8 L297.4,567.2 L298.2,568.8 L299.1,570.2 L299.9,571.8 L300.7,573.2 L301.5,574.8 L302.3,576.2 L303.2,577.8 L304.0,579.2 L304.9,580.8 L305.8,582.2 L306.7,583.8 L307.6,585.2 L308.6,586.8 L309.5,588.2 L310.5,589.8 L311.6,591.2 L312.6,592.8 L313.7,594.2 L314.4,595.2"/>
<path d="M264.2,85.8 L264.2,87.2 L264.2,88.8 L264.2,90.2 L264.3,91.8 L264.3,93.2 L264.3,94.8 L264.3,96.2 L264.3,97.8 L264.3,99.2 L264.3,100.8 L264.3,102.2 L264.4,103.8 L264.4,105.2 L264.4,106.8 L264.4,108.2 L264.4,109.8 L264.4,111.2 L264.4,112.8 L264.5,114.2 L264.5,115.8 L264.5,117.2 L264.5,118.8 L264.5,120.2 L264.5,121.8 L264.5,123.2 L264.5,124.8 L264.6,126.2 L264.6,127.8 L264.6,129.2 L264.6,130.8 L264.6,132.2 L264.6,133.8 L264.6,135.2 L264.7,136.8 L264.7,138.2 L264.7,139.8 L264.7,141.2 L264.7,142.8 L264.7,144.2 L264.7,145.8 L264.8,147.2 L264.8,148.8 L264.8,150.2 L264.8,151.8 L264.8,153.2 L264.8,154.8 L264.8,156.2 L264.8,157.8 L264.9,159.2 L264.9,160.8 L264.9,162.2 L264.9,163.8 L264.9,165.2 L264.9,166.8 L264.9,168.2 L265.0,169.8 L265.0,171.2 L265.0,172.8 L265.0,174.2 L265.0,175.8 L265.0,177.2 L265.0,178.8 L265.1,180.2 L265.1,181.8 L265.1,183.2 L265.1,184.8 L265.1,186.2 L265.1,187.8 L265.1,189.2 L265.2,190.8 L265.2,192.2 L265.2,193.8 L265.2,195.2 L265.2,196.8 L265.2,198.2 L265.2,199.8 L265.3,201.2 L265.3,202.8 L265.3,204.2 L265.3,205.8 L265.3,207.2 L265.3,208.8 L265.3,210.2 L265.4,211.8 L265.4,213.2 L265.4,214.8 L265.4,216.2 L265.4,217.8 L265.4,219.2 L265.4,220.8 L265.4,222.2 L265.5,223.8 L265.5,225.2 L265.5,226.8 L265.5,228.2 L265.5,229.8 L265.5,231.2 L265.5,232.8 L265.6,234.2 L265.6,235.8 L265.6,237.2 L265.6,238.8 L265.6,240.2 L265.6,241.8 L265.6,243.2 L265.7,244.8 L265.7,246.2 L265.7,247.8 L265.7,249.2 L265.7,250.8 L265.7,252.2 L265.7,253.8 L265.7,255.2 L265.8,256.8 L265.8,258.2 L265.8,259.8 L265.8,261.2 L265.8,262.8 L265.8,264.2 L265.8,265.8 L265.9,267.2 L265.9,268.8 L265.9,270.2 L265.9,271.8 L265.9,273.2 L265.9,274.8 L265.9,276.2 L265.9,277.8 L266.0,279.2 L266.0,280.8 L266.0,282.2 L266.0,283.8 L266.0,285.2 L266.0,286.8 L266.0,288.2 L266.0,289.8 L266.1,291.2 L266.1,292.8 L266.1,294.2 L266.1,295.8 L266.1,297.2 L266.1,298.8 L266.1,300.2 L266.1,301.8 L266.2,303.2 L266.2,304.8 L266.2,306.2 L266.2,307.8 L266.2,309.2 L266.2,310.8 L266.2,312.2 L266.2,313.8 L266.3,315.2 L266.3,316.8 L266.3,318.2 L266.3,319.8 L266.3,321.2 L266.3,322.8 L266.3,324.2 L266.4,325.8 L266.4,327.2 L266.4,328.8 L266.4,330.2 L266.4,331.8 L266.5,333.2 L266.5,334.8 L266.5,336.2 L266.5,337.8 L266.5,339.2 L266.6,340.8 L266.6,342.2 L266.6,343.8 L266.7,345.2 L266.7,346.8 L266.7,348.2 L266.7,349.8 L266.8,351.2 L266.8,352.8 L266.9,354.2 L266.9,355.8 L266.9,357.2 L267.0,358.8 L267.0,360.2 L267.1,361.8 L267.1,363.2 L267.1,364.8 L267.2,366.2 L267.2,367.8 L267.3,369.2 L267.4,370.8 L267.4,372.2 L267.5,373.8 L267.5,375.2 L267.6,376.8 L267.7,378.2 L267.7,379.8 L267.8,381.2 L267.9,382.8 L267.9,384.2 L268.0,385.8 L268.1,387.2 L268.2,388.8 L268.3,390.2 L268.3,391.8 L268.4,393.2 L268.5,394.8 L268.6,396.2 L268.7,397.8 L268.8,399.2 L268.9,400.8 L269.0,402.2 L269.1,403.8 L269.2,405.2 L269.3,406.8 L269.4,408.2 L269.6,409.8 L269.7,411.2 L269.8,412.8 L269.9,414.2 L270.1,415.8 L270.2,417.2 L270.3,418.8 L270.5,420.2 L270.6,421.8 L270.7,423.2 L270.9,424.8 L271.0,426.2 L271.2,427.8 L271.4,429.2 L271.5,430.8 L271.7,432.2 L271.8,433.8 L272.0,435.2 L272.2,436.8 L272.3,438.2 L272.5,439.8 L272.7,441.2 L272.9,442.8 L273.0,444.2 L273.2,445.8 L273.4,447.2 L273.6,448.8 L273.8,450.2 L274.0,451.8 L274.2,453.2 L274.4,454.8 L274.6,456.2 L274.8,457.8 L275.0,459.2 L275.2,460.8 L275.4,462.2 L275.6,463.8 L275.9,465.2 L276.1,466.8 L276.3,468.2 L276.6,469.8 L276.8,471.2 L277.1,472.8 L277.3,474.2 L277.6,475.8 L277.8,477.2 L278.1,478.8 L278.4,480.2 L278.7,481.8 L279.0,483.2 L279.3,484.8 L279.7,486.2 L280.0,487.8 L280.4,489.2 L280.7,490.8 L281.1,492.2 L281.5,493.8 L281.9,495.2 L282.3,496.8 L282.7,498.2 L283.1,499.8 L283.6,501.2 L284.0,502.8 L284.5,504.2 L285.0,505.8 L285.5,507.2 L286.0,508.8 L286.5,510.2 L287.1,511.8 L287.6,513.2 L288.2,514.8 L288.8,516.2 L289.4,517.8 L290.1,519.2 L290.7,520.8 L291.4,522.2 L292.1,523.8 L292.8,525.2 L293.5,526.8 L294.2,528.2 L295.0,529.8 L295.7,531.2 L296.5,532.8 L297.3,534.2 L298.1,535.8 L298.9,537.2 L299.8,538.8 L300.6,540.2 L301.4,541.8 L302.3,543.2 L303.1,544.8 L304.0,546.2 L304.8,547.8 L305.7,549.2 L306.5,550.8 L307.4,552.2 L308.2,553.8 L309.1,555.2 L309.9,556.8 L310.7,558.2 L311.5,559.8 L312.4,561.2 L313.2,562.8 L313.9,564.2 L314.7,565.8 L315.5,567.2 L316.2,568.8 L317.0,570.2 L317.7,571.8 L318.4,573.2 L319.2,574.8 L319.9,576.2 L320.6,577.8 L321.3,579.2 L322.1,580.8 L322.8,582.2 L323.5,583.8 L324.3,585.2 L325.0,586.8 L325.8,588.2 L326.6,589.8 L327.4,591.2 L328.2,592.8 L329.1,594.2 L329.6,595.2"/>
<path d="M275.8,85.8 L275.8,87.2 L275.8,88.8 L275.8,90.2 L275.8,91.8 L275.8,93.2 L275.8,94.8 L275.8,96.2 L275.8,97.8 L275.8,99.2 L275.8,100.8 L275.8,102.2 L275.8,103.8 L275.7,105.2 L275.7,106.8 L275.7,108.2 L275.7,109.8 L275.7,111.2 L275.7,112.8 L275.7,114.2 L275.7,115.8 L275.7,117.2 L275.7,118.8 L275.7,120.2 L275.7,121.8 L275.7,123.2 L275.7,124.8 L275.7,126.2 L275.7,127.8 L275.7,129.2 L275.8,130.8 L275.8,132.2 L275.8,133.8 L275.8,135.2 L275.8,136.8 L275.8,138.2 L275.8,139.8 L275.8,141.2 L275.8,142.8 L275.8,144.2 L275.8,145.8 L275.8,147.2 L275.8,148.8 L275.8,150.2 L275.8,151.8 L275.8,153.2 L275.8,154.8 L275.8,156.2 L275.8,157.8 L275.8,159.2 L275.8,160.8 L275.8,162.2 L275.8,163.8 L275.8,165.2 L275.9,166.8 L275.9,168.2 L275.9,169.8 L275.9,171.2 L275.9,172.8 L275.9,174.2 L275.9,175.8 L275.9,177.2 L275.9,178.8 L275.9,180.2 L275.9,181.8 L275.9,183.2 L275.9,184.8 L275.9,186.2 L275.9,187.8 L275.9,189.2 L275.9,190.8 L275.9,192.2 L276.0,193.8 L276.0,195.2 L276.0,196.8 L276.0,198.2 L276.0,199.8 L276.0,201.2 L276.0,202.8 L276.0,204.2 L276.0,205.8 L276.0,207.2 L276.0,208.8 L276.0,210.2 L276.0,211.8 L276.0,213.2 L276.0,214.8 L276.0,216.2 L276.0,217.8 L276.0,219.2 L276.0,220.8 L276.0,222.2 L276.0,223.8 L276.1,225.2 L276.1,226.8 L276.1,228.2 L276.1,229.8 L276.1,231.2 L276.1,232.8 L276.1,234.2 L276.1,235.8 L276.1,237.2 L276.1,238.8 L276.1,240.2 L276.1,241.8 L276.1,243.2 L276.1,244.8 L276.1,246.2 L276.1,247.8 L276.1,249.2 L276.1,250.8 L276.1,252.2 L276.1,253.8 L276.1,255.2 L276.1,256.8 L276.1,258.2 L276.1,259.8 L276.1,261.2 L276.1,262.8 L276.1,264.2 L276.1,265.8 L276.0,267.2 L276.0,268.8 L276.0,270.2 L276.0,271.8 L276.0,273.2 L276.0,274.8 L276.0,276.2 L276.0,277.8 L276.0,279.2 L276.0,280.8 L276.0,282.2 L276.0,283.8 L276.0,285.2 L276.0,286.8 L275.9,288.2 L275.9,289.8 L275.9,291.2 L275.9,292.8 L275.9,294.2 L275.9,295.8 L275.9,297.2 L275.9,298.8 L275.9,300.2 L275.8,301.8 L275.8,303.2 L275.8,304.8 L275.8,306.2 L275.8,307.8 L275.8,309.2 L275.8,310.8 L275.7,312.2 L275.7,313.8 L275.7,315.2 L275.7,316.8 L275.7,318.2 L275.7,319.8 L275.6,321.2 L275.6,322.8 L275.6,324.2 L275.6,325.8 L275.6,327.2 L275.6,328.8 L275.6,330.2 L275.5,331.8 L275.5,333.2 L275.5,334.8 L275.5,336.2 L275.5,337.8 L275.5,339.2 L275.5,340.8 L275.5,342.2 L275.5,343.8 L275.5,345.2 L275.4,346.8 L275.4,348.2 L275.4,349.8 L275.4,351.2 L275.4,352.8 L275.4,354.2 L275.4,355.8 L275.4,357.2 L275.4,358.8 L275.5,360.2 L275.5,361.8 L275.5,363.2 L275.5,364.8 L275.5,366.2 L275.5,367.8 L275.5,369.2 L275.5,370.8 L275.6,372.2 L275.6,373.8 L275.6,375.2 L275.6,376.8 L275.7,378.2 L275.7,379.8 L275.7,381.2 L275.8,382.8 L275.8,384.2 L275.8,385.8 L275.9,387.2 L275.9,388.8 L276.0,390.2 L276.0,391.8 L276.1,393.2 L276.1,394.8 L276.2,396.2 L276.2,397.8 L276.3,399.2 L276.4,400.8 L276.4,402.2 L276.5,403.8 L276.6,405.2 L276.6,406.8 L276.7,408.2 L276.8,409.8 L276.9,411.2 L277.0,412.8 L277.1,414.2 L277.2,415.8 L277.3,417.2 L277.4,418.8 L277.5,420.2 L277.6,421.8 L277.7,423.2 L277.8,424.8 L277.9,426.2 L278.0,427.8 L278.1,429.2 L278.2,430.8 L278.4,432.2 L278.5,433.8 L278.6,435.2 L278.7,436.8 L278.9,438.2 L279.0,439.8 L279.1,441.2 L279.2,442.8 L279.4,444.2 L279.5,445.8 L279.6,447.2 L279.8,448.8 L279.9,450.2 L280.0,451.8 L280.2,453.2 L280.3,454.8 L280.4,456.2 L280.6,457.8 L280.7,459.2 L280.9,460.8 L281.0,462.2 L281.2,463.8 L281.3,465.2 L281.5,466.8 L281.6,468.2 L281.8,469.8 L282.0,471.2 L282.2,472.8 L282.4,474.2 L282.6,475.8 L282.8,477.2 L283.0,478.8 L283.3,480.2 L283.5,481.8 L283.8,483.2 L284.1,484.8 L284.4,486.2 L284.7,487.8 L285.1,489.2 L285.4,490.8 L285.8,492.2 L286.2,493.8 L286.6,495.2 L287.1,496.8 L287.5,498.2 L288.0,499.8 L288.5,501.2 L289.0,502.8 L289.5,504.2 L290.0,505.8 L290.6,507.2 L291.2,508.8 L291.8,510.2 L292.4,511.8 L293.0,513.2 L293.6,514.8 L294.3,516.2 L295.0,517.8 L295.7,519.2 L296.4,520.8 L297.1,522.2 L297.8,523.8 L298.6,525.2 L299.3,526.8 L300.1,528.2 L300.9,529.8 L301.7,531.2 L302.5,532.8 L303.4,534.2 L304.2,535.8 L305.1,537.2 L305.9,538.8 L306.8,540.2 L307.7,541.8 L308.6,543.2 L309.5,544.8 L310.4,546.2 L311.3,547.8 L312.2,549.2 L313.2,550.8 L314.1,552.2 L315.1,553.8 L316.0,555.2 L317.0,556.8 L317.9,558.2 L318.9,559.8 L319.9,561.2 L320.8,562.8 L321.8,564.2 L322.8,565.8 L323.8,567.2 L324.7,568.8 L325.7,570.2 L326.7,571.8 L327.7,573.2 L328.7,574.8 L329.7,576.2 L330.7,577.8 L331.7,579.2 L332.8,580.8 L333.8,582.2 L334.9,583.8 L335.9,585.2 L337.0,586.8 L338.1,588.2 L339.2,589.8 L340.3,591.2 L341.4,592.8 L342.6,594.2 L343.3,595.2"/>
<path d="M286.4,85.8 L286.4,87.2 L286.4,88.8 L286.4,90.2 L286.4,91.8 L286.4,93.2 L286.4,94.8 L286.3,96.2 L286.3,97.8 L286.3,99.2 L286.3,100.8 L286.3,102.2 L286.3,103.8 L286.3,105.2 L286.3,106.8 L286.3,108.2 L286.3,109.8 L286.3,111.2 L286.3,112.8 L286.3,114.2 L286.3,115.8 L286.2,117.2 L286.2,118.8 L286.2,120.2 L286.2,121.8 L286.2,123.2 L286.2,124.8 L286.2,126.2 L286.2,127.8 L286.2,129.2 L286.2,130.8 L286.2,132.2 L286.2,133.8 L286.2,135.2 L286.2,136.8 L286.2,138.2 L286.2,139.8 L286.2,141.2 L286.2,142.8 L286.3,144.2 L286.3,145.8 L286.3,147.2 L286.3,148.8 L286.3,150.2 L286.3,151.8 L286.3,153.2 L286.3,154.8 L286.3,156.2 L286.3,157.8 L286.3,159.2 L286.3,160.8 L286.3,162.2 L286.3,163.8 L286.3,165.2 L286.3,166.8 L286.3,168.2 L286.4,169.8 L286.4,171.2 L286.4,172.8 L286.4,174.2 L286.4,175.8 L286.4,177.2 L286.4,178.8 L286.4,180.2 L286.4,181.8 L286.4,183.2 L286.4,184.8 L286.4,186.2 L286.5,187.8 L286.5,189.2 L286.5,190.8 L286.5,192.2 L286.5,193.8 L286.5,195.2 L286.5,196.8 L286.5,198.2 L286.5,199.8 L286.6,201.2 L286.6,202.8 L286.6,204.2 L286.6,205.8 L286.6,207.2 L286.6,208.8 L286.6,210.2 L286.6,211.8 L286.6,213.2 L286.6,214.8 L286.7,216.2 L286.7,217.8 L286.7,219.2 L286.7,220.8 L286.7,222.2 L286.7,223.8 L286.7,225.2 L286.7,226.8 L286.7,228.2 L286.8,229.8 L286.8,231.2 L286.8,232.8 L286.8,234.2 L286.8,235.8 L286.8,237.2 L286.8,238.8 L286.8,240.2 L286.8,241.8 L286.8,243.2 L286.8,244.8 L286.9,246.2 L286.9,247.8 L286.9,249.2 L286.9,250.8 L286.9,252.2 L286.9,253.8 L286.9,255.2 L286.9,256.8 L286.9,258.2 L286.9,259.8 L286.9,261.2 L286.9,262.8 L286.9,264.2 L287.0,265.8 L287.0,267.2 L287.0,268.8 L287.0,270.2 L287.0,271.8 L287.0,273.2 L287.0,274.8 L287.0,276.2 L287.0,277.8 L287.0,279.2 L287.0,280.8 L287.0,282.2 L287.0,283.8 L287.0,285.2 L287.0,286.8 L287.0,288.2 L287.0,289.8 L287.0,291.2 L287.0,292.8 L287.0,294.2 L287.0,295.8 L287.0,297.2 L287.0,298.8 L287.0,300.2 L287.0,301.8 L287.0,303.2 L287.0,304.8 L287.0,306.2 L287.0,307.8 L287.0,309.2 L287.0,310.8 L287.0,312.2 L287.0,313.8 L287.0,315.2 L287.0,316.8 L287.0,318.2 L287.0,319.8 L287.0,321.2 L286.9,322.8 L286.9,324.2 L286.9,325.8 L286.9,327.2 L286.9,328.8 L286.9,330.2 L286.9,331.8 L286.9,333.2 L286.9,334.8 L286.9,336.2 L286.9,337.8 L286.9,339.2 L286.9,340.8 L286.9,342.2 L286.9,343.8 L287.0,345.2 L287.0,346.8 L287.0,348.2 L287.0,349.8 L287.0,351.2 L287.0,352.8 L287.0,354.2 L287.0,355.8 L287.0,357.2 L287.0,358.8 L287.1,360.2 L287.1,361.8 L287.1,363.2 L287.1,364.8 L287.1,366.2 L287.2,367.8 L287.2,369.2 L287.2,370.8 L287.2,372.2 L287.3,373.8 L287.3,375.2 L287.3,376.8 L287.4,378.2 L287.4,379.8 L287.5,381.2 L287.5,382.8 L287.5,384.2 L287.6,385.8 L287.6,387.2 L287.7,388.8 L287.7,390.2 L287.8,391.8 L287.8,393.2 L287.9,394.8 L288.0,396.2 L288.0,397.8 L288.1,399.2 L288.2,400.8 L288.2,402.2 L288.3,403.8 L288.4,405.2 L288.5,406.8 L288.6,408.2 L288.6,409.8 L288.7,411.2 L288.8,412.8 L288.9,414.2 L289.0,415.8 L289.1,417.2 L289.2,418.8 L289.3,420.2 L289.4,421.8 L289.5,423.2 L289.6,424.8 L289.8,426.2 L289.9,427.8 L290.0,429.2 L290.1,430.8 L290.3,432.2 L290.4,433.8 L290.5,435.2 L290.7,436.8 L290.8,438.2 L291.0,439.8 L291.1,441.2 L291.3,442.8 L291.5,444.2 L291.6,445.8 L291.8,447.2 L292.0,448.8 L292.1,450.2 L292.3,451.8 L292.5,453.2 L292.7,454.8 L292.9,456.2 L293.1,457.8 L293.3,459.2 L293.5,460.8 L293.7,462.2 L293.9,463.8 L294.2,465.2 L294.4,466.8 L294.6,468.2 L294.9,469.8 L295.2,471.2 L295.5,472.8 L295.8,474.2 L296.1,475.8 L296.4,477.2 L296.7,478.8 L297.1,480.2 L297.5,481.8 L297.8,483.2 L298.2,484.8 L298.7,486.2 L299.1,487.8 L299.6,489.2 L300.1,490.8 L300.6,492.2 L301.1,493.8 L301.6,495.2 L302.2,496.8 L302.8,498.2 L303.4,499.8 L304.0,501.2 L304.6,502.8 L305.3,504.2 L306.0,505.8 L306.7,507.2 L307.4,508.8 L308.1,510.2 L308.8,511.8 L309.5,513.2 L310.3,514.8 L311.1,516.2 L311.9,517.8 L312.6,519.2 L313.5,520.8 L314.3,522.2 L315.1,523.8 L315.9,525.2 L316.8,526.8 L317.6,528.2 L318.5,529.8 L319.4,531.2 L320.2,532.8 L321.1,534.2 L322.0,535.8 L323.0,537.2 L323.9,538.8 L324.8,540.2 L325.8,541.8 L326.7,543.2 L327.7,544.8 L328.7,546.2 L329.7,547.8 L330.7,549.2 L331.7,550.8 L332.8,552.2 L333.8,553.8 L334.9,555.2 L335.9,556.8 L337.0,558.2 L338.1,559.8 L339.3,561.2 L340.4,562.8 L341.6,564.2 L342.7,565.8 L343.9,567.2 L345.1,568.8 L346.3,570.2 L347.5,571.8 L348.7,573.2 L350.0,574.8 L351.2,576.2 L352.4,577.8 L353.6,579.2 L354.8,580.8 L356.1,582.2 L357.3,583.8 L358.5,585.2 L359.6,586.8 L360.8,588.2 L361.9,589.8 L363.1,591.2 L364.2,592.8 L365.3,594.2 L366.0,595.2"/>
<path d="M298.0,85.8 L298.0,87.2 L298.0,88.8 L298.0,90.2 L298.0,91.8 L298.0,93.2 L298.0,94.8 L298.0,96.2 L298.0,97.8 L298.0,99.2 L298.0,100.8 L298.0,102.2 L298.0,103.8 L298.0,105.2 L298.0,106.8 L298.0,108.2 L298.0,109.8 L298.0,111.2 L298.0,112.8 L298.0,114.2 L298.0,115.8 L298.0,117.2 L298.0,118.8 L298.0,120.2 L298.0,121.8 L298.0,123.2 L298.0,124.8 L298.0,126.2 L298.0,127.8 L298.0,129.2 L298.0,130.8 L298.0,132.2 L298.0,133.8 L298.0,135.2 L298.0,136.8 L298.0,138.2 L298.0,139.8 L298.0,141.2 L298.0,142.8 L298.0,144.2 L298.0,145.8 L298.0,147.2 L298.0,148.8 L298.0,150.2 L298.0,151.8 L298.0,153.2 L298.0,154.8 L298.0,156.2 L298.0,157.8 L298.0,159.2 L298.0,160.8 L298.1,162.2 L298.1,163.8 L298.1,165.2 L298.1,166.8 L298.1,168.2 L298.1,169.8 L298.1,171.2 L298.1,172.8 L298.1,174.2 L298.1,175.8 L298.1,177.2 L298.1,178.8 L298.1,180.2 L298.2,181.8 L298.2,183.2 L298.2,184.8 L298.2,186.2 L298.2,187.8 L298.2,189.2 L298.2,190.8 L298.2,192.2 L298.2,193.8 L298.2,195.2 L298.3,196.8 L298.3,198.2 L298.3,199.8 L298.3,201.2 L298.3,202.8 L298.3,204.2 L298.3,205.8 L298.3,207.2 L298.3,208.8 L298.4,210.2 L298.4,211.8 L298.4,213.2 L298.4,214.8 L298.4,216.2 L298.4,217.8 L298.4,219.2 L298.5,220.8 L298.5,222.2 L298.5,223.8 L298.5,225.2 L298.5,226.8 L298.5,228.2 L298.5,229.8 L298.6,231.2 L298.6,232.8 L298.6,234.2 L298.6,235.8 L298.6,237.2 L298.6,238.8 L298.7,240.2 L298.7,241.8 L298.7,243.2 L298.7,244.8 L298.7,246.2 L298.7,247.8 L298.8,249.2 L298.8,250.8 L298.8,252.2 L298.8,253.8 L298.8,255.2 L298.8,256.8 L298.9,258.2 L298.9,259.8 L298.9,261.2 L298.9,262.8 L298.9,264.2 L299.0,265.8 L299.0,267.2 L299.0,268.8 L299.0,270.2 L299.0,271.8 L299.1,273.2 L299.1,274.8 L299.1,276.2 L299.1,277.8 L299.1,279.2 L299.2,280.8 L299.2,282.2 L299.2,283.8 L299.2,285.2 L299.2,286.8 L299.3,288.2 L299.3,289.8 L299.3,291.2 L299.3,292.8 L299.3,294.2 L299.4,295.8 L299.4,297.2 L299.4,298.8 L299.4,300.2 L299.5,301.8 L299.5,303.2 L299.5,304.8 L299.5,306.2 L299.6,307.8 L299.6,309.2 L299.6,310.8 L299.6,312.2 L299.7,313.8 L299.7,315.2 L299.7,316.8 L299.7,318.2 L299.8,319.8 L299.8,321.2 L299.8,322.8 L299.9,324.2 L299.9,325.8 L299.9,327.2 L300.0,328.8 L300.0,330.2 L300.0,331.8 L300.1,333.2 L300.1,334.8 L300.1,336.2 L300.2,337.8 L300.2,339.2 L300.3,340.8 L300.3,342.2 L300.4,343.8 L300.4,345.2 L300.5,346.8 L300.5,348.2 L300.6,349.8 L300.6,351.2 L300.7,352.8 L300.8,354.2 L300.8,355.8 L300.9,357.2 L301.0,358.8 L301.0,360.2 L301.1,361.8 L301.2,363.2 L301.2,364.8 L301.3,366.2 L301.4,367.8 L301.5,369.2 L301.6,370.8 L301.7,372.2 L301.7,373.8 L301.8,375.2 L301.9,376.8 L302.0,378.2 L302.1,379.8 L302.2,381.2 L302.4,382.8 L302.5,384.2 L302.6,385.8 L302.7,387.2 L302.8,388.8 L302.9,390.2 L303.1,391.8 L303.2,393.2 L303.3,394.8 L303.5,396.2 L303.6,397.8 L303.7,399.2 L303.9,400.8 L304.0,402.2 L304.2,403.8 L304.3,405.2 L304.5,406.8 L304.7,408.2 L304.8,409.8 L305.0,411.2 L305.2,412.8 L305.4,414.2 L305.6,415.8 L305.7,417.2 L305.9,418.8 L306.1,420.2 L306.3,421.8 L306.5,423.2 L306.7,424.8 L306.9,426.2 L307.1,427.8 L307.3,429.2 L307.5,430.8 L307.7,432.2 L307.9,433.8 L308.1,435.2 L308.3,436.8 L308.5,438.2 L308.7,439.8 L308.9,441.2 L309.1,442.8 L309.2,444.2 L309.4,445.8 L309.6,447.2 L309.8,448.8 L310.0,450.2 L310.1,451.8 L310.3,453.2 L310.5,454.8 L310.6,456.2 L310.8,457.8 L311.0,459.2 L311.1,460.8 L311.3,462.2 L311.4,463.8 L311.6,465.2 L311.7,466.8 L311.9,468.2 L312.1,469.8 L312.2,471.2 L312.4,472.8 L312.6,474.2 L312.8,475.8 L313.0,477.2 L313.2,478.8 L313.4,480.2 L313.6,481.8 L313.9,483.2 L314.1,484.8 L314.4,486.2 L314.7,487.8 L315.0,489.2 L315.3,490.8 L315.7,492.2 L316.0,493.8 L316.4,495.2 L316.8,496.8 L317.2,498.2 L317.6,499.8 L318.1,501.2 L318.6,502.8 L319.0,504.2 L319.6,505.8 L320.1,507.2 L320.6,508.8 L321.2,510.2 L321.8,511.8 L322.4,513.2 L323.0,514.8 L323.6,516.2 L324.3,517.8 L325.0,519.2 L325.7,520.8 L326.4,522.2 L327.1,523.8 L327.9,525.2 L328.6,526.8 L329.4,528.2 L330.2,529.8 L331.1,531.2 L331.9,532.8 L332.8,534.2 L333.6,535.8 L334.5,537.2 L335.4,538.8 L336.3,540.2 L337.2,541.8 L338.1,543.2 L339.1,544.8 L340.0,546.2 L340.9,547.8 L341.9,549.2 L342.8,550.8 L343.8,552.2 L344.7,553.8 L345.7,555.2 L346.7,556.8 L347.6,558.2 L348.5,559.8 L349.5,561.2 L350.4,562.8 L351.4,564.2 L352.3,565.8 L353.2,567.2 L354.1,568.8 L355.0,570.2 L355.9,571.8 L356.8,573.2 L357.7,574.8 L358.6,576.2 L359.4,577.8 L360.3,579.2 L361.2,580.8 L362.0,582.2 L362.8,583.8 L363.7,585.2 L364.5,586.8 L365.3,588.2 L366.1,589.8 L366.9,591.2 L367.7,592.8 L368.4,594.2 L369.0,595.2"/>
<path d="M306.4,85.8 L306.4,87.2 L306.4,88.8 L306.4,90.2 L306.4,91.8 L306.5,93.2 L306.5,94.8 L306.5,96.2 L306.5,97.8 L306.5,99.2 L306.5,100.8 L306.5,102.2 L306.5,103.8 L306.5,105.2 L306.6,106.8 L306.6,108.2 L306.6,109.8 L306.6,111.2 L306.6,112.8 L306.6,114.2 L306.6,115.8 L306.6,117.2 L306.6,118.8 L306.7,120.2 L306.7,121.8 L306.7,123.2 L306.7,124.8 L306.7,126.2 L306.7,127.8 L306.7,129.2 L306.7,130.8 L306.7,132.2 L306.8,133.8 L306.8,135.2 L306.8,136.8 L306.8,138.2 L306.8,139.8 L306.8,141.2 L306.8,142.8 L306.8,144.2 L306.8,145.8 L306.8,147.2 L306.9,148.8 L306.9,150.2 L306.9,151.8 L306.9,153.2 L306.9,154.8 L306.9,156.2 L306.9,157.8 L306.9,159.2 L306.9,160.8 L306.9,162.2 L307.0,163.8 L307.0,165.2 L307.0,166.8 L307.0,168.2 L307.0,169.8 L307.0,171.2 L307.0,172.8 L307.0,174.2 L307.0,175.8 L307.0,177.2 L307.1,178.8 L307.1,180.2 L307.1,181.8 L307.1,183.2 L307.1,184.8 L307.1,186.2 L307.1,187.8 L307.1,189.2 L307.1,190.8 L307.1,192.2 L307.1,193.8 L307.2,195.2 L307.2,196.8 L307.2,198.2 L307.2,199.8 L307.2,201.2 L307.2,202.8 L307.2,204.2 L307.2,205.8 L307.2,207.2 L307.2,208.8 L307.2,210.2 L307.3,211.8 L307.3,213.2 L307.3,214.8 L307.3,216.2 L307.3,217.8 L307.3,219.2 L307.3,220.8 L307.3,222.2 L307.3,223.8 L307.3,225.2 L307.3,226.8 L307.3,228.2 L307.4,229.8 L307.4,231.2 L307.4,232.8 L307.4,234.2 L307.4,235.8 L307.4,237.2 L307.4,238.8 L307.4,240.2 L307.4,241.8 L307.4,243.2 L307.4,244.8 L307.4,246.2 L307.4,247.8 L307.5,249.2 L307.5,250.8 L307.5,252.2 L307.5,253.8 L307.5,255.2 L307.5,256.8 L307.5,258.2 L307.5,259.8 L307.5,261.2 L307.5,262.8 L307.5,264.2 L307.5,265.8 L307.5,267.2 L307.5,268.8 L307.6,270.2 L307.6,271.8 L307.6,273.2 L307.6,274.8 L307.6,276.2 L307.6,277.8 L307.6,279.2 L307.6,280.8 L307.6,282.2 L307.6,283.8 L307.6,285.2 L307.6,286.8 L307.6,288.2 L307.6,289.8 L307.7,291.2 L307.7,292.8 L307.7,294.2 L307.7,295.8 L307.7,297.2 L307.7,298.8 L307.7,300.2 L307.7,301.8 L307.7,303.2 L307.7,304.8 L307.7,306.2 L307.7,307.8 L307.7,309.2 L307.7,310.8 L307.8,312.2 L307.8,313.8 L307.8,315.2 L307.8,316.8 L307.8,318.2 L307.8,319.8 L307.8,321.2 L307.8,322.8 L307.8,324.2 L307.8,325.8 L307.9,327.2 L307.9,328.8 L307.9,330.2 L307.9,331.8 L307.9,333.2 L308.0,334.8 L308.0,336.2 L308.0,337.8 L308.0,339.2 L308.0,340.8 L308.1,342.2 L308.1,343.8 L308.1,345.2 L308.2,346.8 L308.2,348.2 L308.2,349.8 L308.3,351.2 L308.3,352.8 L308.4,354.2 L308.4,355.8 L308.4,357.2 L308.5,358.8 L308.5,360.2 L308.6,361.8 L308.6,363.2 L308.7,364.8 L308.8,366.2 L308.8,367.8 L308.9,369.2 L309.0,370.8 L309.0,372.2 L309.1,373.8 L309.2,375.2 L309.3,376.8 L309.3,378.2 L309.4,379.8 L309.5,381.2 L309.6,382.8 L309.7,384.2 L309.8,385.8 L309.9,387.2 L310.0,388.8 L310.1,390.2 L310.2,391.8 L310.3,393.2 L310.4,394.8 L310.5,396.2 L310.7,397.8 L310.8,399.2 L310.9,400.8 L311.1,402.2 L311.2,403.8 L311.3,405.2 L311.5,406.8 L311.6,408.2 L311.8,409.8 L311.9,411.2 L312.1,412.8 L312.3,414.2 L312.4,415.8 L312.6,417.2 L312.8,418.8 L313.0,420.2 L313.1,421.8 L313.3,423.2 L313.5,424.8 L313.7,426.2 L313.9,427.8 L314.1,429.2 L314.3,430.8 L314.4,432.2 L314.6,433.8 L314.8,435.2 L315.0,436.8 L315.2,438.2 L315.4,439.8 L315.6,441.2 L315.8,442.8 L315.9,444.2 L316.1,445.8 L316.3,447.2 L316.5,448.8 L316.7,450.2 L316.8,451.8 L317.0,453.2 L317.2,454.8 L317.3,456.2 L317.5,457.8 L317.6,459.2 L317.8,460.8 L318.0,462.2 L318.1,463.8 L318.3,465.2 L318.4,466.8 L318.6,468.2 L318.8,469.8 L319.0,471.2 L319.2,472.8 L319.4,474.2 L319.6,475.8 L319.8,477.2 L320.0,478.8 L320.3,480.2 L320.6,481.8 L320.8,483.2 L321.1,484.8 L321.4,486.2 L321.8,487.8 L322.1,489.2 L322.5,490.8 L322.9,492.2 L323.3,493.8 L323.8,495.2 L324.2,496.8 L324.7,498.2 L325.2,499.8 L325.7,501.2 L326.3,502.8 L326.8,504.2 L327.4,505.8 L327.9,507.2 L328.5,508.8 L329.1,510.2 L329.8,511.8 L330.4,513.2 L331.0,514.8 L331.7,516.2 L332.3,517.8 L333.0,519.2 L333.7,520.8 L334.4,522.2 L335.1,523.8 L335.8,525.2 L336.5,526.8 L337.2,528.2 L337.9,529.8 L338.6,531.2 L339.4,532.8 L340.1,534.2 L340.9,535.8 L341.6,537.2 L342.4,538.8 L343.2,540.2 L343.9,541.8 L344.7,543.2 L345.5,544.8 L346.3,546.2 L347.2,547.8 L348.0,549.2 L348.8,550.8 L349.7,552.2 L350.5,553.8 L351.4,555.2 L352.3,556.8 L353.1,558.2 L354.0,559.8 L355.0,561.2 L355.9,562.8 L356.8,564.2 L357.8,565.8 L358.7,567.2 L359.7,568.8 L360.6,570.2 L361.6,571.8 L362.6,573.2 L363.6,574.8 L364.6,576.2 L365.6,577.8 L366.6,579.2 L367.6,580.8 L368.7,582.2 L369.7,583.8 L370.7,585.2 L371.7,586.8 L372.7,588.2 L373.7,589.8 L374.7,591.2 L375.7,592.8 L376.7,594.2 L377.3,595.2"/>
<path d="M319.2,85.8 L319.2,87.2 L319.2,88.8 L319.3,90.2 L319.3,91.8 L319.3,93.2 L319.3,94.8 L319.3,96.2 L319.3,97.8 L319.4,99.2 L319.4,100.8 L319.4,102.2 L319.4,103.8 L319.4,105.2 L319.4,106.8 L319.5,108.2 L319.5,109.8 L319.5,111.2 L319.5,112.8 L319.5,114.2 L319.5,115.8 L319.6,117.2 L319.6,118.8 L319.6,120.2 L319.6,121.8 L319.6,123.2 L319.6,124.8 L319.7,126.2 L319.7,127.8 L319.7,129.2 L319.7,130.8 L319.7,132.2 L319.8,133.8 L319.8,135.2 L319.8,136.8 L319.8,138.2 L319.8,139.8 L319.9,141.2 L319.9,142.8 L319.9,144.2 L319.9,145.8 L319.9,147.2 L320.0,148.8 L320.0,150.2 L320.0,151.8 L320.0,153.2 L320.0,154.8 L320.1,156.2 L320.1,157.8 L320.1,159.2 L320.1,160.8 L320.1,162.2 L320.2,163.8 L320.2,165.2 L320.2,166.8 L320.2,168.2 L320.2,169.8 L320.3,171.2 L320.3,172.8 L320.3,174.2 L320.3,175.8 L320.3,177.2 L320.4,178.8 L320.4,180.2 L320.4,181.8 L320.4,183.2 L320.4,184.8 L320.5,186.2 L320.5,187.8 L320.5,189.2 L320.5,190.8 L320.6,192.2 L320.6,193.8 L320.6,195.2 L320.6,196.8 L320.6,198.2 L320.7,199.8 L320.7,201.2 L320.7,202.8 L320.7,204.2 L320.7,205.8 L320.8,207.2 L320.8,208.8 L320.8,210.2 L320.8,211.8 L320.9,213.2 L320.9,214.8 L320.9,216.2 L320.9,217.8 L320.9,219.2 L321.0,220.8 L321.0,222.2 L321.0,223.8 L321.0,225.2 L321.1,226.8 L321.1,228.2 L321.1,229.8 L321.1,231.2 L321.2,232.8 L321.2,234.2 L321.2,235.8 L321.2,237.2 L321.2,238.8 L321.3,240.2 L321.3,241.8 L321.3,243.2 L321.3,244.8 L321.4,246.2 L321.4,247.8 L321.4,249.2 L321.4,250.8 L321.4,252.2 L321.5,253.8 L321.5,255.2 L321.5,256.8 L321.5,258.2 L321.6,259.8 L321.6,261.2 L321.6,262.8 L321.6,264.2 L321.7,265.8 L321.7,267.2 L321.7,268.8 L321.7,270.2 L321.7,271.8 L321.8,273.2 L321.8,274.8 L321.8,276.2 L321.8,277.8 L321.9,279.2 L321.9,280.8 L321.9,282.2 L321.9,283.8 L322.0,285.2 L322.0,286.8 L322.0,288.2 L322.0,289.8 L322.1,291.2 L322.1,292.8 L322.1,294.2 L322.1,295.8 L322.1,297.2 L322.2,298.8 L322.2,300.2 L322.2,301.8 L322.2,303.2 L322.3,304.8 L322.3,306.2 L322.3,307.8 L322.3,309.2 L322.4,310.8 L322.4,312.2 L322.4,313.8 L322.4,315.2 L322.4,316.8 L322.5,318.2 L322.5,319.8 L322.5,321.2 L322.5,322.8 L322.6,324.2 L322.6,325.8 L322.6,327.2 L322.6,328.8 L322.7,330.2 L322.7,331.8 L322.7,333.2 L322.7,334.8 L322.8,336.2 L322.8,337.8 L322.8,339.2 L322.8,340.8 L322.9,342.2 L322.9,343.8 L322.9,345.2 L322.9,346.8 L323.0,348.2 L323.0,349.8 L323.0,351.2 L323.1,352.8 L323.1,354.2 L323.1,355.8 L323.1,357.2 L323.2,358.8 L323.2,360.2 L323.2,361.8 L323.3,363.2 L323.3,364.8 L323.3,366.2 L323.4,367.8 L323.4,369.2 L323.4,370.8 L323.5,372.2 L323.5,373.8 L323.5,375.2 L323.6,376.8 L323.6,378.2 L323.6,379.8 L323.7,381.2 L323.7,382.8 L323.7,384.2 L323.8,385.8 L323.8,387.2 L323.9,388.8 L323.9,390.2 L323.9,391.8 L324.0,393.2 L324.0,394.8 L324.1,396.2 L324.1,397.8 L324.2,399.2 L324.2,400.8 L324.2,402.2 L324.3,403.8 L324.3,405.2 L324.4,406.8 L324.4,408.2 L324.5,409.8 L324.5,411.2 L324.6,412.8 L324.6,414.2 L324.7,415.8 L324.7,417.2 L324.8,418.8 L324.8,420.2 L324.9,421.8 L324.9,423.2 L325.0,424.8 L325.0,426.2 L325.1,427.8 L325.1,429.2 L325.2,430.8 L325.2,432.2 L325.3,433.8 L325.3,435.2 L325.3,436.8 L325.4,438.2 L325.4,439.8 L325.5,441.2 L325.5,442.8 L325.5,444.2 L325.6,445.8 L325.6,447.2 L325.6,448.8 L325.7,450.2 L325.7,451.8 L325.7,453.2 L325.7,454.8 L325.8,456.2 L325.8,457.8 L325.8,459.2 L325.8,460.8 L325.8,462.2 L325.9,463.8 L325.9,465.2 L325.9,466.8 L326.0,468.2 L326.0,469.8 L326.1,471.2 L326.2,472.8 L326.3,474.2 L326.4,475.8 L326.5,477.2 L326.7,478.8 L326.8,480.2 L327.0,481.8 L327.2,483.2 L327.4,484.8 L327.7,486.2 L328.0,487.8 L328.3,489.2 L328.6,490.8 L329.0,492.2 L329.3,493.8 L329.8,495.2 L330.2,496.8 L330.7,498.2 L331.1,499.8 L331.6,501.2 L332.2,502.8 L332.7,504.2 L333.2,505.8 L333.8,507.2 L334.4,508.8 L335.0,510.2 L335.6,511.8 L336.2,513.2 L336.8,514.8 L337.4,516.2 L338.1,517.8 L338.7,519.2 L339.3,520.8 L340.0,522.2 L340.6,523.8 L341.2,525.2 L341.8,526.8 L342.5,528.2 L343.1,529.8 L343.7,531.2 L344.3,532.8 L345.0,534.2 L345.6,535.8 L346.2,537.2 L346.9,538.8 L347.5,540.2 L348.2,541.8 L348.9,543.2 L349.5,544.8 L350.2,546.2 L350.9,547.8 L351.7,549.2 L352.4,550.8 L353.2,552.2 L353.9,553.8 L354.7,555.2 L355.5,556.8 L356.4,558.2 L357.2,559.8 L358.1,561.2 L359.0,562.8 L360.0,564.2 L360.9,565.8 L361.9,567.2 L362.9,568.8 L364.0,570.2 L365.1,571.8 L366.2,573.2 L367.3,574.8 L368.5,576.2 L369.6,577.8 L370.9,579.2 L372.1,580.8 L373.4,582.2 L374.6,583.8 L375.9,585.2 L377.3,586.8 L378.6,588.2 L380.0,589.8 L381.4,591.2 L382.8,592.8 L384.3,594.2 L385.2,595.2"/>
<path d="M327.8,85.8 L327.8,87.2 L327.9,88.8 L327.9,90.2 L327.9,91.8 L327.9,93.2 L328.0,94.8 L328.0,96.2 L328.0,97.8 L328.1,99.2 L328.1,100.8 L328.1,102.2 L328.1,103.8 L328.2,105.2 L328.2,106.8 L328.2,108.2 L328.3,109.8 L328.3,111.2 L328.3,112.8 L328.3,114.2 L328.4,115.8 L328.4,117.2 L328.4,118.8 L328.4,120.2 L328.5,121.8 L328.5,123.2 L328.5,124.8 L328.5,126.2 L328.6,127.8 L328.6,129.2 L328.6,130.8 L328.6,132.2 L328.7,133.8 L328.7,135.2 L328.7,136.8 L328.7,138.2 L328.8,139.8 L328.8,141.2 L328.8,142.8 L328.8,144.2 L328.8,145.8 L328.9,147.2 L328.9,148.8 L328.9,150.2 L328.9,151.8 L329.0,153.2 L329.0,154.8 L329.0,156.2 L329.0,157.8 L329.0,159.2 L329.1,160.8 L329.1,162.2 L329.1,163.8 L329.1,165.2 L329.2,166.8 L329.2,168.2 L329.2,169.8 L329.2,171.2 L329.2,172.8 L329.3,174.2 L329.3,175.8 L329.3,177.2 L329.3,178.8 L329.4,180.2 L329.4,181.8 L329.4,183.2 L329.4,184.8 L329.4,186.2 L329.5,187.8 L329.5,189.2 L329.5,190.8 L329.5,192.2 L329.5,193.8 L329.6,195.2 L329.6,196.8 L329.6,198.2 L329.6,199.8 L329.7,201.2 L329.7,202.8 L329.7,204.2 L329.7,205.8 L329.7,207.2 L329.8,208.8 L329.8,210.2 L329.8,211.8 L329.8,213.2 L329.9,214.8 L329.9,216.2 L329.9,217.8 L329.9,219.2 L330.0,220.8 L330.0,222.2 L330.0,223.8 L330.0,225.2 L330.1,226.8 L330.1,228.2 L330.1,229.8 L330.1,231.2 L330.1,232.8 L330.2,234.2 L330.2,235.8 L330.2,237.2 L330.2,238.8 L330.3,240.2 L330.3,241.8 L330.3,243.2 L330.4,244.8 L330.4,246.2 L330.4,247.8 L330.4,249.2 L330.5,250.8 L330.5,252.2 L330.5,253.8 L330.5,255.2 L330.6,256.8 L330.6,258.2 L330.6,259.8 L330.7,261.2 L330.7,262.8 L330.7,264.2 L330.7,265.8 L330.8,267.2 L330.8,268.8 L330.8,270.2 L330.9,271.8 L330.9,273.2 L330.9,274.8 L331.0,276.2 L331.0,277.8 L331.0,279.2 L331.1,280.8 L331.1,282.2 L331.1,283.8 L331.2,285.2 L331.2,286.8 L331.2,288.2 L331.3,289.8 L331.3,291.2 L331.3,292.8 L331.4,294.2 L331.4,295.8 L331.5,297.2 L331.5,298.8 L331.5,300.2 L331.6,301.8 L331.6,303.2 L331.6,304.8 L331.7,306.2 L331.7,307.8 L331.8,309.2 L331.8,310.8 L331.8,312.2 L331.9,313.8 L331.9,315.2 L332.0,316.8 L332.0,318.2 L332.1,319.8 L332.1,321.2 L332.1,322.8 L332.2,324.2 L332.2,325.8 L332.3,327.2 L332.3,328.8 L332.3,330.2 L332.4,331.8 L332.4,333.2 L332.5,334.8 L332.5,336.2 L332.6,337.8 L332.6,339.2 L332.6,340.8 L332.7,342.2 L332.7,343.8 L332.8,345.2 L332.8,346.8 L332.9,348.2 L332.9,349.8 L332.9,351.2 L333.0,352.8 L333.0,354.2 L333.1,355.8 L333.1,357.2 L333.1,358.8 L333.2,360.2 L333.2,361.8 L333.3,363.2 L333.3,364.8 L333.3,366.2 L333.4,367.8 L333.4,369.2 L333.5,370.8 L333.5,372.2 L333.5,373.8 L333.6,375.2 L333.6,376.8 L333.6,378.2 L333.7,379.8 L333.7,381.2 L333.7,382.8 L333.8,384.2 L333.8,385.8 L333.8,387.2 L333.9,388.8 L333.9,390.2 L333.9,391.8 L334.0,393.2 L334.0,394.8 L334.0,396.2 L334.0,397.8 L334.1,399.2 L334.1,400.8 L334.1,402.2 L334.1,403.8 L334.2,405.2 L334.2,406.8 L334.2,408.2 L334.2,409.8 L334.2,411.2 L334.3,412.8 L334.3,414.2 L334.3,415.8 L334.3,417.2 L334.3,418.8 L334.4,420.2 L334.4,421.8 L334.4,423.2 L334.4,424.8 L334.4,426.2 L334.5,427.8 L334.5,429.2 L334.5,430.8 L334.5,432.2 L334.6,433.8 L334.6,435.2 L334.6,436.8 L334.7,438.2 L334.7,439.8 L334.7,441.2 L334.8,442.8 L334.8,444.2 L334.9,445.8 L334.9,447.2 L335.0,448.8 L335.0,450.2 L335.1,451.8 L335.2,453.2 L335.2,454.8 L335.3,456.2 L335.4,457.8 L335.5,459.2 L335.6,460.8 L335.7,462.2 L335.8,463.8 L335.9,465.2 L336.0,466.8 L336.2,468.2 L336.4,469.8 L336.5,471.2 L336.7,472.8 L336.9,474.2 L337.2,475.8 L337.4,477.2 L337.7,478.8 L338.0,480.2 L338.3,481.8 L338.6,483.2 L339.0,484.8 L339.4,486.2 L339.8,487.8 L340.3,489.2 L340.7,490.8 L341.2,492.2 L341.8,493.8 L342.3,495.2 L342.9,496.8 L343.5,498.2 L344.2,499.8 L344.8,501.2 L345.5,502.8 L346.2,504.2 L346.9,505.8 L347.7,507.2 L348.4,508.8 L349.2,510.2 L350.0,511.8 L350.8,513.2 L351.6,514.8 L352.5,516.2 L353.3,517.8 L354.2,519.2 L355.0,520.8 L355.9,522.2 L356.8,523.8 L357.7,525.2 L358.6,526.8 L359.5,528.2 L360.4,529.8 L361.4,531.2 L362.3,532.8 L363.2,534.2 L364.2,535.8 L365.1,537.2 L366.1,538.8 L367.0,540.2 L368.0,541.8 L369.0,543.2 L369.9,544.8 L370.9,546.2 L371.9,547.8 L372.9,549.2 L373.9,550.8 L374.9,552.2 L375.9,553.8 L376.9,555.2 L377.9,556.8 L378.9,558.2 L379.9,559.8 L380.9,561.2 L381.9,562.8 L382.9,564.2 L384.0,565.8 L385.0,567.2 L386.0,568.8 L387.0,570.2 L388.1,571.8 L389.1,573.2 L390.1,574.8 L391.2,576.2 L392.2,577.8 L393.2,579.2 L394.2,580.8 L395.2,582.2 L396.2,583.8 L397.2,585.2 L398.2,586.8 L399.2,588.2 L400.2,589.8 L401.2,591.2 L402.2,592.8 L403.1,594.2 L403.8,595.2"/>
<path d="M338.6,85.8 L338.6,87.2 L338.7,88.8 L338.7,90.2 L338.7,91.8 L338.7,93.2 L338.8,94.8 L338.8,96.2 L338.8,97.8 L338.8,99.2 L338.9,100.8 L338.9,102.2 L338.9,103.8 L338.9,105.2 L339.0,106.8 L339.0,108.2 L339.0,109.8 L339.0,111.2 L339.1,112.8 L339.1,114.2 L339.1,115.8 L339.1,117.2 L339.2,118.8 L339.2,120.2 L339.2,121.8 L339.2,123.2 L339.3,124.8 L339.3,126.2 L339.3,127.8 L339.3,129.2 L339.4,130.8 L339.4,132.2 L339.4,133.8 L339.4,135.2 L339.5,136.8 L339.5,138.2 L339.5,139.8 L339.5,141.2 L339.6,142.8 L339.6,144.2 L339.6,145.8 L339.7,147.2 L339.7,148.8 L339.7,150.2 L339.7,151.8 L339.8,153.2 L339.8,154.8 L339.8,156.2 L339.8,157.8 L339.9,159.2 L339.9,160.8 L339.9,162.2 L339.9,163.8 L340.0,165.2 L340.0,166.8 L340.0,168.2 L340.1,169.8 L340.1,171.2 L340.1,172.8 L340.1,174.2 L340.2,175.8 L340.2,177.2 L340.2,178.8 L340.3,180.2 L340.3,181.8 L340.3,183.2 L340.4,184.8 L340.4,186.2 L340.4,187.8 L340.4,189.2 L340.5,190.8 L340.5,192.2 L340.5,193.8 L340.6,195.2 L340.6,196.8 L340.6,198.2 L340.7,199.8 L340.7,201.2 L340.7,202.8 L340.8,204.2 L340.8,205.8 L340.8,207.2 L340.9,208.8 L340.9,210.2 L340.9,211.8 L341.0,213.2 L341.0,214.8 L341.0,216.2 L341.1,217.8 L341.1,219.2 L341.1,220.8 L341.2,222.2 L341.2,223.8 L341.2,225.2 L341.3,226.8 L341.3,228.2 L341.4,229.8 L341.4,231.2 L341.4,232.8 L341.5,234.2 L341.5,235.8 L341.5,237.2 L341.6,238.8 L341.6,240.2 L341.7,241.8 L341.7,243.2 L341.7,244.8 L341.8,246.2 L341.8,247.8 L341.9,249.2 L341.9,250.8 L341.9,252.2 L342.0,253.8 L342.0,255.2 L342.1,256.8 L342.1,258.2 L342.2,259.8 L342.2,261.2 L342.2,262.8 L342.3,264.2 L342.3,265.8 L342.4,267.2 L342.4,268.8 L342.5,270.2 L342.5,271.8 L342.6,273.2 L342.6,274.8 L342.7,276.2 L342.7,277.8 L342.7,279.2 L342.8,280.8 L342.8,282.2 L342.9,283.8 L342.9,285.2 L343.0,286.8 L343.0,288.2 L343.1,289.8 L343.1,291.2 L343.2,292.8 L343.3,294.2 L343.3,295.8 L343.4,297.2 L343.4,298.8 L343.5,300.2 L343.5,301.8 L343.6,303.2 L343.6,304.8 L343.7,306.2 L343.7,307.8 L343.8,309.2 L343.8,310.8 L343.9,312.2 L344.0,313.8 L344.0,315.2 L344.1,316.8 L344.1,318.2 L344.2,319.8 L344.3,321.2 L344.3,322.8 L344.4,324.2 L344.4,325.8 L344.5,327.2 L344.6,328.8 L344.6,330.2 L344.7,331.8 L344.7,333.2 L344.8,334.8 L344.9,336.2 L344.9,337.8 L345.0,339.2 L345.1,340.8 L345.1,342.2 L345.2,343.8 L345.2,345.2 L345.3,346.8 L345.4,348.2 L345.4,349.8 L345.5,351.2 L345.6,352.8 L345.6,354.2 L345.7,355.8 L345.8,357.2 L345.8,358.8 L345.9,360.2 L346.0,361.8 L346.0,363.2 L346.1,364.8 L346.2,366.2 L346.2,367.8 L346.3,369.2 L346.4,370.8 L346.4,372.2 L346.5,373.8 L346.6,375.2 L346.6,376.8 L346.7,378.2 L346.8,379.8 L346.8,381.2 L346.9,382.8 L347.0,384.2 L347.0,385.8 L347.1,387.2 L347.2,388.8 L347.2,390.2 L347.3,391.8 L347.4,393.2 L347.4,394.8 L347.5,396.2 L347.6,397.8 L347.7,399.2 L347.7,400.8 L347.8,402.2 L347.9,403.8 L347.9,405.2 L348.0,406.8 L348.1,408.2 L348.1,409.8 L348.2,411.2 L348.3,412.8 L348.3,414.2 L348.4,415.8 L348.5,417.2 L348.6,418.8 L348.6,420.2 L348.7,421.8 L348.8,423.2 L348.8,424.8 L348.9,426.2 L349.0,427.8 L349.0,429.2 L349.1,430.8 L349.2,432.2 L349.3,433.8 L349.3,435.2 L349.4,436.8 L349.5,438.2 L349.6,439.8 L349.7,441.2 L349.7,442.8 L349.8,444.2 L349.9,445.8 L350.0,447.2 L350.1,448.8 L350.1,450.2 L350.2,451.8 L350.3,453.2 L350.4,454.8 L350.5,456.2 L350.6,457.8 L350.7,459.2 L350.8,460.8 L350.9,462.2 L351.0,463.8 L351.1,465.2 L351.2,466.8 L351.4,468.2 L351.5,469.8 L351.7,471.2 L351.8,472.8 L352.0,474.2 L352.2,475.8 L352.4,477.2 L352.6,478.8 L352.8,480.2 L353.1,481.8 L353.3,483.2 L353.6,484.8 L353.9,486.2 L354.2,487.8 L354.6,489.2 L355.0,490.8 L355.3,492.2 L355.8,493.8 L356.2,495.2 L356.6,496.8 L357.1,498.2 L357.6,499.8 L358.1,501.2 L358.7,502.8 L359.3,504.2 L359.8,505.8 L360.5,507.2 L361.1,508.8 L361.8,510.2 L362.4,511.8 L363.1,513.2 L363.9,514.8 L364.6,516.2 L365.4,517.8 L366.2,519.2 L367.0,520.8 L367.8,522.2 L368.7,523.8 L369.6,525.2 L370.5,526.8 L371.4,528.2 L372.3,529.8 L373.3,531.2 L374.3,532.8 L375.3,534.2 L376.3,535.8 L377.3,537.2 L378.3,538.8 L379.4,540.2 L380.4,541.8 L381.5,543.2 L382.5,544.8 L383.6,546.2 L384.6,547.8 L385.7,549.2 L386.8,550.8 L387.8,552.2 L388.9,553.8 L389.9,555.2 L391.0,556.8 L392.0,558.2 L393.0,559.8 L394.0,561.2 L395.0,562.8 L396.0,564.2 L397.0,565.8 L397.9,567.2 L398.9,568.8 L399.8,570.2 L400.7,571.8 L401.6,573.2 L402.5,574.8 L403.4,576.2 L404.3,577.8 L405.2,579.2 L406.1,580.8 L407.1,582.2 L408.0,583.8 L408.9,585.2 L409.8,586.8 L410.7,588.2 L411.7,589.8 L412.7,591.2 L413.6,592.8 L414.6,594.2 L415.3,595.2"/>
<path d="M347.1,85.8 L347.1,87.2 L347.1,88.8 L347.2,90.2 L347.2,91.8 L347.2,93.2 L347.2,94.8 L347.2,96.2 L347.3,97.8 L347.3,99.2 L347.3,100.8 L347.3,102.2 L347.3,103.8 L347.3,105.2 L347.4,106.8 L347.4,108.2 L347.4,109.8 L347.4,111.2 L347.4,112.8 L347.5,114.2 L347.5,115.8 L347.5,117.2 L347.5,118.8 L347.5,120.2 L347.5,121.8 L347.6,123.2 L347.6,124.8 L347.6,126.2 L347.6,127.8 L347.6,129.2 L347.6,130.8 L347.7,132.2 L347.7,133.8 L347.7,135.2 L347.7,136.8 L347.7,138.2 L347.7,139.8 L347.8,141.2 L347.8,142.8 L347.8,144.2 L347.8,145.8 L347.8,147.2 L347.8,148.8 L347.9,150.2 L347.9,151.8 L347.9,153.2 L347.9,154.8 L347.9,156.2 L347.9,157.8 L347.9,159.2 L348.0,160.8 L348.0,162.2 L348.0,163.8 L348.0,165.2 L348.0,166.8 L348.0,168.2 L348.0,169.8 L348.1,171.2 L348.1,172.8 L348.1,174.2 L348.1,175.8 L348.1,177.2 L348.1,178.8 L348.1,180.2 L348.2,181.8 L348.2,183.2 L348.2,184.8 L348.2,186.2 L348.2,187.8 L348.2,189.2 L348.2,190.8 L348.3,192.2 L348.3,193.8 L348.3,195.2 L348.3,196.8 L348.3,198.2 L348.3,199.8 L348.3,201.2 L348.4,202.8 L348.4,204.2 L348.4,205.8 L348.4,207.2 L348.4,208.8 L348.4,210.2 L348.4,211.8 L348.5,213.2 L348.5,214.8 L348.5,216.2 L348.5,217.8 L348.5,219.2 L348.5,220.8 L348.5,222.2 L348.6,223.8 L348.6,225.2 L348.6,226.8 L348.6,228.2 L348.6,229.8 L348.6,231.2 L348.6,232.8 L348.7,234.2 L348.7,235.8 L348.7,237.2 L348.7,238.8 L348.7,240.2 L348.7,241.8 L348.7,243.2 L348.8,244.8 L348.8,246.2 L348.8,247.8 L348.8,249.2 L348.8,250.8 L348.8,252.2 L348.9,253.8 L348.9,255.2 L348.9,256.8 L348.9,258.2 L348.9,259.8 L348.9,261.2 L349.0,262.8 L349.0,264.2 L349.0,265.8 L349.0,267.2 L349.0,268.8 L349.0,270.2 L349.1,271.8 L349.1,273.2 L349.1,274.8 L349.1,276.2 L349.1,277.8 L349.1,279.2 L349.2,280.8 L349.2,282.2 L349.2,283.8 L349.2,285.2 L349.2,286.8 L349.3,288.2 L349.3,289.8 L349.3,291.2 L349.3,292.8 L349.3,294.2 L349.3,295.8 L349.4,297.2 L349.4,298.8 L349.4,300.2 L349.4,301.8 L349.5,303.2 L349.5,304.8 L349.5,306.2 L349.5,307.8 L349.5,309.2 L349.6,310.8 L349.6,312.2 L349.6,313.8 L349.6,315.2 L349.7,316.8 L349.7,318.2 L349.7,319.8 L349.7,321.2 L349.8,322.8 L349.8,324.2 L349.8,325.8 L349.8,327.2 L349.9,328.8 L349.9,330.2 L349.9,331.8 L350.0,333.2 L350.0,334.8 L350.0,336.2 L350.1,337.8 L350.1,339.2 L350.1,340.8 L350.2,342.2 L350.2,343.8 L350.3,345.2 L350.3,346.8 L350.3,348.2 L350.4,349.8 L350.4,351.2 L350.5,352.8 L350.5,354.2 L350.6,355.8 L350.6,357.2 L350.7,358.8 L350.7,360.2 L350.8,361.8 L350.9,363.2 L350.9,364.8 L351.0,366.2 L351.0,367.8 L351.1,369.2 L351.2,370.8 L351.2,372.2 L351.3,373.8 L351.4,375.2 L351.5,376.8 L351.5,378.2 L351.6,379.8 L351.7,381.2 L351.8,382.8 L351.9,384.2 L351.9,385.8 L352.0,387.2 L352.1,388.8 L352.2,390.2 L352.3,391.8 L352.4,393.2 L352.5,394.8 L352.6,396.2 L352.7,397.8 L352.8,399.2 L352.9,400.8 L353.0,402.2 L353.2,403.8 L353.3,405.2 L353.4,406.8 L353.5,408.2 L353.6,409.8 L353.8,411.2 L353.9,412.8 L354.0,414.2 L354.2,415.8 L354.3,417.2 L354.5,418.8 L354.6,420.2 L354.8,421.8 L354.9,423.2 L355.1,424.8 L355.2,426.2 L355.4,427.8 L355.6,429.2 L355.7,430.8 L355.9,432.2 L356.1,433.8 L356.3,435.2 L356.5,436.8 L356.7,438.2 L356.9,439.8 L357.1,441.2 L357.3,442.8 L357.5,444.2 L357.7,445.8 L358.0,447.2 L358.2,448.8 L358.4,450.2 L358.7,451.8 L358.9,453.2 L359.2,454.8 L359.5,456.2 L359.7,457.8 L360.0,459.2 L360.3,460.8 L360.6,462.2 L360.9,463.8 L361.2,465.2 L361.5,466.8 L361.8,468.2 L362.2,469.8 L362.5,471.2 L362.8,472.8 L363.2,474.2 L363.5,475.8 L363.9,477.2 L364.3,478.8 L364.6,480.2 L365.0,481.8 L365.4,483.2 L365.8,484.8 L366.2,486.2 L366.6,487.8 L367.1,489.2 L367.5,490.8 L367.9,492.2 L368.4,493.8 L368.9,495.2 L369.3,496.8 L369.8,498.2 L370.3,499.8 L370.8,501.2 L371.3,502.8 L371.9,504.2 L372.4,505.8 L373.0,507.2 L373.5,508.8 L374.1,510.2 L374.7,511.8 L375.4,513.2 L376.0,514.8 L376.7,516.2 L377.4,517.8 L378.1,519.2 L378.8,520.8 L379.5,522.2 L380.3,523.8 L381.1,525.2 L381.9,526.8 L382.7,528.2 L383.6,529.8 L384.5,531.2 L385.4,532.8 L386.3,534.2 L387.2,535.8 L388.2,537.2 L389.1,538.8 L390.1,540.2 L391.1,541.8 L392.1,543.2 L393.1,544.8 L394.1,546.2 L395.1,547.8 L396.1,549.2 L397.2,550.8 L398.2,552.2 L399.2,553.8 L400.3,555.2 L401.3,556.8 L402.4,558.2 L403.4,559.8 L404.5,561.2 L405.5,562.8 L406.5,564.2 L407.6,565.8 L408.6,567.2 L409.6,568.8 L410.6,570.2 L411.6,571.8 L412.7,573.2 L413.7,574.8 L414.7,576.2 L415.7,577.8 L416.7,579.2 L417.8,580.8 L418.8,582.2 L419.8,583.8 L420.9,585.2 L422.0,586.8 L423.0,588.2 L424.1,589.8 L425.2,591.2 L426.3,592.8 L427.5,594.2 L428.2,595.2"/>
<path d="M364.8,85.8 L364.8,87.2 L364.8,88.8 L364.8,90.2 L364.9,91.8 L364.9,93.2 L364.9,94.8 L364.9,96.2 L364.9,97.8 L364.9,99.2 L364.9,100.8 L365.0,102.2 L365.0,103.8 L365.0,105.2 L365.0,106.8 L365.0,108.2 L365.0,109.8 L365.0,111.2 L365.1,112.8 L365.1,114.2 L365.1,115.8 L365.1,117.2 L365.1,118.8 L365.1,120.2 L365.2,121.8 L365.2,123.2 L365.2,124.8 L365.2,126.2 L365.2,127.8 L365.2,129.2 L365.3,130.8 L365.3,132.2 L365.3,133.8 L365.3,135.2 L365.3,136.8 L365.3,138.2 L365.4,139.8 L365.4,141.2 L365.4,142.8 L365.4,144.2 L365.4,145.8 L365.4,147.2 L365.5,148.8 L365.5,150.2 L365.5,151.8 L365.5,153.2 L365.5,154.8 L365.5,156.2 L365.6,157.8 L365.6,159.2 L365.6,160.8 L365.6,162.2 L365.6,163.8 L365.6,165.2 L365.7,166.8 L365.7,168.2 L365.7,169.8 L365.7,171.2 L365.7,172.8 L365.7,174.2 L365.8,175.8 L365.8,177.2 L365.8,178.8 L365.8,180.2 L365.8,181.8 L365.8,183.2 L365.9,184.8 L365.9,186.2 L365.9,187.8 L365.9,189.2 L365.9,190.8 L365.9,192.2 L366.0,193.8 L366.0,195.2 L366.0,196.8 L366.0,198.2 L366.0,199.8 L366.0,201.2 L366.1,202.8 L366.1,204.2 L366.1,205.8 L366.1,207.2 L366.1,208.8 L366.1,210.2 L366.2,211.8 L366.2,213.2 L366.2,214.8 L366.2,216.2 L366.2,217.8 L366.2,219.2 L366.3,220.8 L366.3,222.2 L366.3,223.8 L366.3,225.2 L366.3,226.8 L366.3,228.2 L366.3,229.8 L366.4,231.2 L366.4,232.8 L366.4,234.2 L366.4,235.8 L366.4,237.2 L366.4,238.8 L366.4,240.2 L366.5,241.8 L366.5,243.2 L366.5,244.8 L366.5,246.2 L366.5,247.8 L366.5,249.2 L366.5,250.8 L366.6,252.2 L366.6,253.8 L366.6,255.2 L366.6,256.8 L366.6,258.2 L366.6,259.8 L366.6,261.2 L366.6,262.8 L366.6,264.2 L366.7,265.8 L366.7,267.2 L366.7,268.8 L366.7,270.2 L366.7,271.8 L366.7,273.2 L366.7,274.8 L366.7,276.2 L366.7,277.8 L366.8,279.2 L366.8,280.8 L366.8,282.2 L366.8,283.8 L366.8,285.2 L366.8,286.8 L366.8,288.2 L366.8,289.8 L366.8,291.2 L366.8,292.8 L366.8,294.2 L366.8,295.8 L366.8,297.2 L366.9,298.8 L366.9,300.2 L366.9,301.8 L366.9,303.2 L366.9,304.8 L366.9,306.2 L366.9,307.8 L366.9,309.2 L366.9,310.8 L366.9,312.2 L366.9,313.8 L366.9,315.2 L366.9,316.8 L366.9,318.2 L366.9,319.8 L366.9,321.2 L366.9,322.8 L367.0,324.2 L367.0,325.8 L367.0,327.2 L367.0,328.8 L367.0,330.2 L367.0,331.8 L367.0,333.2 L367.0,334.8 L367.0,336.2 L367.0,337.8 L367.0,339.2 L367.0,340.8 L367.1,342.2 L367.1,343.8 L367.1,345.2 L367.1,346.8 L367.1,348.2 L367.1,349.8 L367.1,351.2 L367.2,352.8 L367.2,354.2 L367.2,355.8 L367.2,357.2 L367.2,358.8 L367.3,360.2 L367.3,361.8 L367.3,363.2 L367.3,364.8 L367.3,366.2 L367.4,367.8 L367.4,369.2 L367.4,370.8 L367.5,372.2 L367.5,373.8 L367.5,375.2 L367.6,376.8 L367.6,378.2 L367.6,379.8 L367.7,381.2 L367.7,382.8 L367.7,384.2 L367.8,385.8 L367.8,387.2 L367.9,388.8 L367.9,390.2 L368.0,391.8 L368.0,393.2 L368.1,394.8 L368.1,396.2 L368.2,397.8 L368.2,399.2 L368.3,400.8 L368.4,402.2 L368.4,403.8 L368.5,405.2 L368.5,406.8 L368.6,408.2 L368.7,409.8 L368.8,411.2 L368.8,412.8 L368.9,414.2 L369.0,415.8 L369.1,417.2 L369.1,418.8 L369.2,420.2 L369.3,421.8 L369.4,423.2 L369.5,424.8 L369.6,426.2 L369.7,427.8 L369.8,429.2 L369.9,430.8 L370.0,432.2 L370.1,433.8 L370.2,435.2 L370.3,436.8 L370.4,438.2 L370.6,439.8 L370.7,441.2 L370.8,442.8 L370.9,444.2 L371.1,445.8 L371.2,447.2 L371.3,448.8 L371.5,450.2 L371.6,451.8 L371.7,453.2 L371.9,454.8 L372.0,456.2 L372.2,457.8 L372.4,459.2 L372.5,460.8 L372.7,462.2 L372.9,463.8 L373.0,465.2 L373.2,466.8 L373.4,468.2 L373.6,469.8 L373.9,471.2 L374.1,472.8 L374.3,474.2 L374.6,475.8 L374.9,477.2 L375.2,478.8 L375.5,480.2 L375.8,481.8 L376.1,483.2 L376.4,484.8 L376.8,486.2 L377.2,487.8 L377.6,489.2 L378.0,490.8 L378.5,492.2 L378.9,493.8 L379.4,495.2 L379.9,496.8 L380.4,498.2 L381.0,499.8 L381.6,501.2 L382.1,502.8 L382.7,504.2 L383.4,505.8 L384.0,507.2 L384.7,508.8 L385.3,510.2 L386.0,511.8 L386.7,513.2 L387.5,514.8 L388.2,516.2 L389.0,517.8 L389.8,519.2 L390.6,520.8 L391.4,522.2 L392.2,523.8 L393.1,525.2 L394.0,526.8 L394.9,528.2 L395.8,529.8 L396.7,531.2 L397.6,532.8 L398.6,534.2 L399.5,535.8 L400.5,537.2 L401.5,538.8 L402.5,540.2 L403.5,541.8 L404.6,543.2 L405.6,544.8 L406.7,546.2 L407.7,547.8 L408.8,549.2 L409.9,550.8 L411.0,552.2 L412.1,553.8 L413.2,555.2 L414.3,556.8 L415.5,558.2 L416.6,559.8 L417.7,561.2 L418.9,562.8 L420.1,564.2 L421.2,565.8 L422.4,567.2 L423.6,568.8 L424.8,570.2 L426.0,571.8 L427.2,573.2 L428.4,574.8 L429.6,576.2 L430.9,577.8 L432.1,579.2 L433.4,580.8 L434.6,582.2 L435.9,583.8 L437.2,585.2 L438.5,586.8 L439.8,588.2 L441.2,589.8 L442.5,591.2 L443.9,592.8 L445.3,594.2 L446.2,595.2"/>
<path d="M369.4,85.8 L369.4,87.2 L369.4,88.8 L369.5,90.2 L369.5,91.8 L369.5,93.2 L369.5,94.8 L369.6,96.2 L369.6,97.8 L369.6,99.2 L369.6,100.8 L369.7,102.2 L369.7,103.8 L369.7,105.2 L369.7,106.8 L369.8,108.2 L369.8,109.8 L369.8,111.2 L369.8,112.8 L369.8,114.2 L369.9,115.8 L369.9,117.2 L369.9,118.8 L369.9,120.2 L369.9,121.8 L370.0,123.2 L370.0,124.8 L370.0,126.2 L370.0,127.8 L370.0,129.2 L370.1,130.8 L370.1,132.2 L370.1,133.8 L370.1,135.2 L370.1,136.8 L370.1,138.2 L370.2,139.8 L370.2,141.2 L370.2,142.8 L370.2,144.2 L370.2,145.8 L370.2,147.2 L370.2,148.8 L370.3,150.2 L370.3,151.8 L370.3,153.2 L370.3,154.8 L370.3,156.2 L370.3,157.8 L370.4,159.2 L370.4,160.8 L370.4,162.2 L370.4,163.8 L370.4,165.2 L370.4,166.8 L370.4,168.2 L370.4,169.8 L370.5,171.2 L370.5,172.8 L370.5,174.2 L370.5,175.8 L370.5,177.2 L370.5,178.8 L370.5,180.2 L370.5,181.8 L370.6,183.2 L370.6,184.8 L370.6,186.2 L370.6,187.8 L370.6,189.2 L370.6,190.8 L370.6,192.2 L370.7,193.8 L370.7,195.2 L370.7,196.8 L370.7,198.2 L370.7,199.8 L370.7,201.2 L370.7,202.8 L370.7,204.2 L370.8,205.8 L370.8,207.2 L370.8,208.8 L370.8,210.2 L370.8,211.8 L370.8,213.2 L370.8,214.8 L370.8,216.2 L370.9,217.8 L370.9,219.2 L370.9,220.8 L370.9,222.2 L370.9,223.8 L370.9,225.2 L370.9,226.8 L371.0,228.2 L371.0,229.8 L371.0,231.2 L371.0,232.8 L371.0,234.2 L371.0,235.8 L371.1,237.2 L371.1,238.8 L371.1,240.2 L371.1,241.8 L371.1,243.2 L371.1,244.8 L371.2,246.2 L371.2,247.8 L371.2,249.2 L371.2,250.8 L371.2,252.2 L371.3,253.8 L371.3,255.2 L371.3,256.8 L371.3,258.2 L371.3,259.8 L371.4,261.2 L371.4,262.8 L371.4,264.2 L371.4,265.8 L371.4,267.2 L371.5,268.8 L371.5,270.2 L371.5,271.8 L371.5,273.2 L371.6,274.8 L371.6,276.2 L371.6,277.8 L371.6,279.2 L371.7,280.8 L371.7,282.2 L371.7,283.8 L371.7,285.2 L371.8,286.8 L371.8,288.2 L371.8,289.8 L371.8,291.2 L371.9,292.8 L371.9,294.2 L371.9,295.8 L372.0,297.2 L372.0,298.8 L372.0,300.2 L372.1,301.8 L372.1,303.2 L372.1,304.8 L372.2,306.2 L372.2,307.8 L372.2,309.2 L372.3,310.8 L372.3,312.2 L372.3,313.8 L372.4,315.2 L372.4,316.8 L372.4,318.2 L372.5,319.8 L372.5,321.2 L372.6,322.8 L372.6,324.2 L372.6,325.8 L372.7,327.2 L372.7,328.8 L372.8,330.2 L372.8,331.8 L372.9,333.2 L372.9,334.8 L373.0,336.2 L373.0,337.8 L373.1,339.2 L373.1,340.8 L373.2,342.2 L373.2,343.8 L373.3,345.2 L373.4,346.8 L373.4,348.2 L373.5,349.8 L373.5,351.2 L373.6,352.8 L373.7,354.2 L373.7,355.8 L373.8,357.2 L373.9,358.8 L373.9,360.2 L374.0,361.8 L374.1,363.2 L374.1,364.8 L374.2,366.2 L374.3,367.8 L374.4,369.2 L374.5,370.8 L374.5,372.2 L374.6,373.8 L374.7,375.2 L374.8,376.8 L374.9,378.2 L375.0,379.8 L375.1,381.2 L375.1,382.8 L375.2,384.2 L375.3,385.8 L375.4,387.2 L375.5,388.8 L375.6,390.2 L375.7,391.8 L375.9,393.2 L376.0,394.8 L376.1,396.2 L376.2,397.8 L376.3,399.2 L376.4,400.8 L376.5,402.2 L376.6,403.8 L376.8,405.2 L376.9,406.8 L377.0,408.2 L377.1,409.8 L377.3,411.2 L377.4,412.8 L377.6,414.2 L377.7,415.8 L377.8,417.2 L378.0,418.8 L378.1,420.2 L378.3,421.8 L378.5,423.2 L378.6,424.8 L378.8,426.2 L379.0,427.8 L379.2,429.2 L379.4,430.8 L379.6,432.2 L379.8,433.8 L380.0,435.2 L380.2,436.8 L380.5,438.2 L380.7,439.8 L381.0,441.2 L381.3,442.8 L381.6,444.2 L381.9,445.8 L382.2,447.2 L382.5,448.8 L382.8,450.2 L383.2,451.8 L383.5,453.2 L383.9,454.8 L384.3,456.2 L384.7,457.8 L385.1,459.2 L385.6,460.8 L386.0,462.2 L386.5,463.8 L386.9,465.2 L387.4,466.8 L387.9,468.2 L388.5,469.8 L389.0,471.2 L389.6,472.8 L390.1,474.2 L390.7,475.8 L391.3,477.2 L391.9,478.8 L392.5,480.2 L393.2,481.8 L393.8,483.2 L394.5,484.8 L395.1,486.2 L395.8,487.8 L396.5,489.2 L397.2,490.8 L398.0,492.2 L398.7,493.8 L399.5,495.2 L400.2,496.8 L401.0,498.2 L401.8,499.8 L402.6,501.2 L403.4,502.8 L404.2,504.2 L405.1,505.8 L405.9,507.2 L406.7,508.8 L407.6,510.2 L408.5,511.8 L409.3,513.2 L410.2,514.8 L411.1,516.2 L412.0,517.8 L412.9,519.2 L413.8,520.8 L414.7,522.2 L415.6,523.8 L416.5,525.2 L417.5,526.8 L418.4,528.2 L419.3,529.8 L420.3,531.2 L421.2,532.8 L422.2,534.2 L423.1,535.8 L424.0,537.2 L425.0,538.8 L425.9,540.2 L426.9,541.8 L427.8,543.2 L428.8,544.8 L429.8,546.2 L430.7,547.8 L431.7,549.2 L432.6,550.8 L433.6,552.2 L434.5,553.8 L435.5,555.2 L436.5,556.8 L437.4,558.2 L438.4,559.8 L439.3,561.2 L440.2,562.8 L441.2,564.2 L442.1,565.8 L443.1,567.2 L444.0,568.8 L445.0,570.2 L445.9,571.8 L446.8,573.2 L447.8,574.8 L448.7,576.2 L449.6,577.8 L450.6,579.2 L451.5,580.8 L452.5,582.2 L453.4,583.8 L454.4,585.2 L455.4,586.8 L456.3,588.2 L457.3,589.8 L458.3,591.2 L459.3,592.8 L460.3,594.2 L461.0,595.2"/>
<path d="M383.4,85.8 L383.4,87.2 L383.4,88.8 L383.4,90.2 L383.5,91.8 L383.5,93.2 L383.5,94.8 L383.5,96.2 L383.5,97.8 L383.5,99.2 L383.5,100.8 L383.5,102.2 L383.6,103.8 L383.6,105.2 L383.6,106.8 L383.6,108.2 L383.6,109.8 L383.6,111.2 L383.6,112.8 L383.6,114.2 L383.6,115.8 L383.6,117.2 L383.6,118.8 L383.6,120.2 L383.7,121.8 L383.7,123.2 L383.7,124.8 L383.7,126.2 L383.7,127.8 L383.7,129.2 L383.7,130.8 L383.7,132.2 L383.7,133.8 L383.7,135.2 L383.7,136.8 L383.7,138.2 L383.7,139.8 L383.7,141.2 L383.7,142.8 L383.7,144.2 L383.7,145.8 L383.7,147.2 L383.7,148.8 L383.7,150.2 L383.7,151.8 L383.7,153.2 L383.8,154.8 L383.8,156.2 L383.8,157.8 L383.8,159.2 L383.8,160.8 L383.8,162.2 L383.8,163.8 L383.8,165.2 L383.8,166.8 L383.8,168.2 L383.8,169.8 L383.8,171.2 L383.8,172.8 L383.8,174.2 L383.8,175.8 L383.8,177.2 L383.8,178.8 L383.8,180.2 L383.8,181.8 L383.8,183.2 L383.8,184.8 L383.8,186.2 L383.8,187.8 L383.8,189.2 L383.8,190.8 L383.8,192.2 L383.8,193.8 L383.8,195.2 L383.9,196.8 L383.9,198.2 L383.9,199.8 L383.9,201.2 L383.9,202.8 L383.9,204.2 L383.9,205.8 L383.9,207.2 L383.9,208.8 L383.9,210.2 L383.9,211.8 L383.9,213.2 L383.9,214.8 L383.9,216.2 L384.0,217.8 L384.0,219.2 L384.0,220.8 L384.0,222.2 L384.0,223.8 L384.0,225.2 L384.0,226.8 L384.0,228.2 L384.0,229.8 L384.1,231.2 L384.1,232.8 L384.1,234.2 L384.1,235.8 L384.1,237.2 L384.1,238.8 L384.1,240.2 L384.2,241.8 L384.2,243.2 L384.2,244.8 L384.2,246.2 L384.2,247.8 L384.2,249.2 L384.3,250.8 L384.3,252.2 L384.3,253.8 L384.3,255.2 L384.3,256.8 L384.4,258.2 L384.4,259.8 L384.4,261.2 L384.4,262.8 L384.5,264.2 L384.5,265.8 L384.5,267.2 L384.5,268.8 L384.6,270.2 L384.6,271.8 L384.6,273.2 L384.7,274.8 L384.7,276.2 L384.7,277.8 L384.8,279.2 L384.8,280.8 L384.8,282.2 L384.9,283.8 L384.9,285.2 L384.9,286.8 L385.0,288.2 L385.0,289.8 L385.0,291.2 L385.1,292.8 L385.1,294.2 L385.2,295.8 L385.2,297.2 L385.2,298.8 L385.3,300.2 L385.3,301.8 L385.4,303.2 L385.4,304.8 L385.5,306.2 L385.5,307.8 L385.6,309.2 L385.6,310.8 L385.7,312.2 L385.7,313.8 L385.8,315.2 L385.8,316.8 L385.9,318.2 L385.9,319.8 L386.0,321.2 L386.1,322.8 L386.1,324.2 L386.2,325.8 L386.3,327.2 L386.3,328.8 L386.4,330.2 L386.5,331.8 L386.5,333.2 L386.6,334.8 L386.7,336.2 L386.8,337.8 L386.8,339.2 L386.9,340.8 L387.0,342.2 L387.1,343.8 L387.2,345.2 L387.3,346.8 L387.4,348.2 L387.5,349.8 L387.6,351.2 L387.7,352.8 L387.8,354.2 L387.9,355.8 L388.0,357.2 L388.1,358.8 L388.2,360.2 L388.3,361.8 L388.4,363.2 L388.6,364.8 L388.7,366.2 L388.8,367.8 L388.9,369.2 L389.1,370.8 L389.2,372.2 L389.4,373.8 L389.5,375.2 L389.6,376.8 L389.8,378.2 L389.9,379.8 L390.1,381.2 L390.2,382.8 L390.4,384.2 L390.6,385.8 L390.7,387.2 L390.9,388.8 L391.1,390.2 L391.3,391.8 L391.4,393.2 L391.6,394.8 L391.8,396.2 L392.0,397.8 L392.2,399.2 L392.4,400.8 L392.6,402.2 L392.8,403.8 L393.0,405.2 L393.2,406.8 L393.5,408.2 L393.7,409.8 L393.9,411.2 L394.1,412.8 L394.4,414.2 L394.6,415.8 L394.9,417.2 L395.1,418.8 L395.4,420.2 L395.6,421.8 L395.9,423.2 L396.1,424.8 L396.4,426.2 L396.7,427.8 L397.0,429.2 L397.2,430.8 L397.5,432.2 L397.8,433.8 L398.1,435.2 L398.4,436.8 L398.7,438.2 L399.0,439.8 L399.3,441.2 L399.6,442.8 L399.9,444.2 L400.2,445.8 L400.5,447.2 L400.9,448.8 L401.2,450.2 L401.5,451.8 L401.9,453.2 L402.2,454.8 L402.5,456.2 L402.9,457.8 L403.2,459.2 L403.6,460.8 L403.9,462.2 L404.3,463.8 L404.7,465.2 L405.0,466.8 L405.4,468.2 L405.8,469.8 L406.2,471.2 L406.6,472.8 L407.0,474.2 L407.4,475.8 L407.8,477.2 L408.3,478.8 L408.7,480.2 L409.2,481.8 L409.6,483.2 L410.1,484.8 L410.6,486.2 L411.0,487.8 L411.5,489.2 L412.0,490.8 L412.6,492.2 L413.1,493.8 L413.6,495.2 L414.2,496.8 L414.8,498.2 L415.4,499.8 L416.0,501.2 L416.6,502.8 L417.2,504.2 L417.9,505.8 L418.5,507.2 L419.2,508.8 L419.9,510.2 L420.6,511.8 L421.4,513.2 L422.1,514.8 L422.9,516.2 L423.7,517.8 L424.5,519.2 L425.3,520.8 L426.2,522.2 L427.1,523.8 L428.0,525.2 L428.9,526.8 L429.8,528.2 L430.8,529.8 L431.8,531.2 L432.8,532.8 L433.8,534.2 L434.9,535.8 L435.9,537.2 L436.9,538.8 L438.0,540.2 L439.1,541.8 L440.2,543.2 L441.2,544.8 L442.3,546.2 L443.4,547.8 L444.5,549.2 L445.5,550.8 L446.6,552.2 L447.7,553.8 L448.7,555.2 L449.8,556.8 L450.8,558.2 L451.8,559.8 L452.8,561.2 L453.8,562.8 L454.8,564.2 L455.8,565.8 L456.7,567.2 L457.6,568.8 L458.6,570.2 L459.5,571.8 L460.4,573.2 L461.3,574.8 L462.3,576.2 L463.2,577.8 L464.2,579.2 L465.2,580.8 L466.3,582.2 L467.3,583.8 L468.5,585.2 L469.6,586.8 L470.9,588.2 L472.1,589.8 L473.5,591.2 L474.9,592.8 L476.3,594.2 L477.3,595.2"/>
<path d="M393.5,85.8 L393.5,87.2 L393.5,88.8 L393.6,90.2 L393.6,91.8 L393.6,93.2 L393.6,94.8 L393.6,96.2 L393.6,97.8 L393.6,99.2 L393.6,100.8 L393.6,102.2 L393.7,103.8 L393.7,105.2 L393.7,106.8 L393.7,108.2 L393.7,109.8 L393.7,111.2 L393.7,112.8 L393.7,114.2 L393.7,115.8 L393.7,117.2 L393.8,118.8 L393.8,120.2 L393.8,121.8 L393.8,123.2 L393.8,124.8 L393.8,126.2 L393.8,127.8 L393.8,129.2 L393.8,130.8 L393.9,132.2 L393.9,133.8 L393.9,135.2 L393.9,136.8 L393.9,138.2 L393.9,139.8 L393.9,141.2 L393.9,142.8 L393.9,144.2 L393.9,145.8 L394.0,147.2 L394.0,148.8 L394.0,150.2 L394.0,151.8 L394.0,153.2 L394.0,154.8 L394.0,156.2 L394.0,157.8 L394.0,159.2 L394.0,160.8 L394.1,162.2 L394.1,163.8 L394.1,165.2 L394.1,166.8 L394.1,168.2 L394.1,169.8 L394.1,171.2 L394.1,172.8 L394.1,174.2 L394.2,175.8 L394.2,177.2 L394.2,178.8 L394.2,180.2 L394.2,181.8 L394.2,183.2 L394.2,184.8 L394.2,186.2 L394.3,187.8 L394.3,189.2 L394.3,190.8 L394.3,192.2 L394.3,193.8 L394.3,195.2 L394.3,196.8 L394.4,198.2 L394.4,199.8 L394.4,201.2 L394.4,202.8 L394.4,204.2 L394.4,205.8 L394.4,207.2 L394.5,208.8 L394.5,210.2 L394.5,211.8 L394.5,213.2 L394.5,214.8 L394.5,216.2 L394.5,217.8 L394.6,219.2 L394.6,220.8 L394.6,222.2 L394.6,223.8 L394.6,225.2 L394.7,226.8 L394.7,228.2 L394.7,229.8 L394.7,231.2 L394.7,232.8 L394.7,234.2 L394.8,235.8 L394.8,237.2 L394.8,238.8 L394.8,240.2 L394.9,241.8 L394.9,243.2 L394.9,244.8 L394.9,246.2 L394.9,247.8 L395.0,249.2 L395.0,250.8 L395.0,252.2 L395.0,253.8 L395.1,255.2 L395.1,256.8 L395.1,258.2 L395.1,259.8 L395.2,261.2 L395.2,262.8 L395.2,264.2 L395.2,265.8 L395.3,267.2 L395.3,268.8 L395.3,270.2 L395.3,271.8 L395.4,273.2 L395.4,274.8 L395.4,276.2 L395.5,277.8 L395.5,279.2 L395.5,280.8 L395.5,282.2 L395.6,283.8 L395.6,285.2 L395.6,286.8 L395.7,288.2 L395.7,289.8 L395.7,291.2 L395.8,292.8 L395.8,294.2 L395.8,295.8 L395.9,297.2 L395.9,298.8 L395.9,300.2 L396.0,301.8 L396.0,303.2 L396.1,304.8 L396.1,306.2 L396.1,307.8 L396.2,309.2 L396.2,310.8 L396.3,312.2 L396.3,313.8 L396.3,315.2 L396.4,316.8 L396.4,318.2 L396.5,319.8 L396.5,321.2 L396.6,322.8 L396.6,324.2 L396.7,325.8 L396.7,327.2 L396.8,328.8 L396.8,330.2 L396.9,331.8 L396.9,333.2 L397.0,334.8 L397.0,336.2 L397.1,337.8 L397.1,339.2 L397.2,340.8 L397.3,342.2 L397.3,343.8 L397.4,345.2 L397.4,346.8 L397.5,348.2 L397.6,349.8 L397.6,351.2 L397.7,352.8 L397.8,354.2 L397.9,355.8 L397.9,357.2 L398.0,358.8 L398.1,360.2 L398.2,361.8 L398.2,363.2 L398.3,364.8 L398.4,366.2 L398.5,367.8 L398.6,369.2 L398.7,370.8 L398.8,372.2 L398.9,373.8 L398.9,375.2 L399.0,376.8 L399.1,378.2 L399.2,379.8 L399.3,381.2 L399.5,382.8 L399.6,384.2 L399.7,385.8 L399.8,387.2 L399.9,388.8 L400.0,390.2 L400.1,391.8 L400.2,393.2 L400.4,394.8 L400.5,396.2 L400.6,397.8 L400.7,399.2 L400.9,400.8 L401.0,402.2 L401.1,403.8 L401.3,405.2 L401.4,406.8 L401.6,408.2 L401.7,409.8 L401.9,411.2 L402.0,412.8 L402.2,414.2 L402.3,415.8 L402.5,417.2 L402.7,418.8 L402.8,420.2 L403.0,421.8 L403.2,423.2 L403.4,424.8 L403.6,426.2 L403.8,427.8 L404.0,429.2 L404.2,430.8 L404.5,432.2 L404.7,433.8 L405.0,435.2 L405.2,436.8 L405.5,438.2 L405.8,439.8 L406.1,441.2 L406.4,442.8 L406.7,444.2 L407.0,445.8 L407.4,447.2 L407.7,448.8 L408.1,450.2 L408.5,451.8 L408.9,453.2 L409.3,454.8 L409.7,456.2 L410.2,457.8 L410.7,459.2 L411.1,460.8 L411.6,462.2 L412.2,463.8 L412.7,465.2 L413.2,466.8 L413.8,468.2 L414.4,469.8 L414.9,471.2 L415.5,472.8 L416.2,474.2 L416.8,475.8 L417.4,477.2 L418.1,478.8 L418.8,480.2 L419.4,481.8 L420.1,483.2 L420.9,484.8 L421.6,486.2 L422.3,487.8 L423.1,489.2 L423.8,490.8 L424.6,492.2 L425.4,493.8 L426.2,495.2 L427.0,496.8 L427.8,498.2 L428.6,499.8 L429.5,501.2 L430.3,502.8 L431.2,504.2 L432.1,505.8 L432.9,507.2 L433.8,508.8 L434.7,510.2 L435.6,511.8 L436.5,513.2 L437.4,514.8 L438.4,516.2 L439.3,517.8 L440.2,519.2 L441.2,520.8 L442.1,522.2 L443.1,523.8 L444.0,525.2 L445.0,526.8 L446.0,528.2 L446.9,529.8 L447.9,531.2 L448.9,532.8 L449.9,534.2 L450.8,535.8 L451.8,537.2 L452.8,538.8 L453.8,540.2 L454.8,541.8 L455.8,543.2 L456.8,544.8 L457.8,546.2 L458.8,547.8 L459.8,549.2 L460.8,550.8 L461.8,552.2 L462.8,553.8 L463.8,555.2 L464.8,556.8 L465.8,558.2 L466.9,559.8 L467.9,561.2 L468.9,562.8 L469.9,564.2 L470.9,565.8 L471.9,567.2 L472.9,568.8 L473.9,570.2 L474.9,571.8 L476.0,573.2 L477.0,574.8 L478.0,576.2 L479.1,577.8 L480.1,579.2 L481.2,580.8 L482.3,582.2 L483.4,583.8 L484.5,585.2 L485.6,586.8 L486.8,588.2 L488.0,589.8 L489.2,591.2 L490.4,592.8 L491.7,594.2 L492.5,595.2"/>
<path d="M405.5,85.8 L405.5,87.2 L405.6,88.8 L405.6,90.2 L405.6,91.8 L405.6,93.2 L405.6,94.8 L405.6,96.2 L405.6,97.8 L405.7,99.2 L405.7,100.8 L405.7,102.2 L405.7,103.8 L405.7,105.2 L405.7,106.8 L405.8,108.2 L405.8,109.8 L405.8,111.2 L405.8,112.8 L405.8,114.2 L405.8,115.8 L405.9,117.2 L405.9,118.8 L405.9,120.2 L405.9,121.8 L405.9,123.2 L405.9,124.8 L406.0,126.2 L406.0,127.8 L406.0,129.2 L406.0,130.8 L406.0,132.2 L406.0,133.8 L406.1,135.2 L406.1,136.8 L406.1,138.2 L406.1,139.8 L406.1,141.2 L406.1,142.8 L406.2,144.2 L406.2,145.8 L406.2,147.2 L406.2,148.8 L406.2,150.2 L406.3,151.8 L406.3,153.2 L406.3,154.8 L406.3,156.2 L406.3,157.8 L406.3,159.2 L406.4,160.8 L406.4,162.2 L406.4,163.8 L406.4,165.2 L406.4,166.8 L406.5,168.2 L406.5,169.8 L406.5,171.2 L406.5,172.8 L406.5,174.2 L406.6,175.8 L406.6,177.2 L406.6,178.8 L406.6,180.2 L406.6,181.8 L406.7,183.2 L406.7,184.8 L406.7,186.2 L406.7,187.8 L406.8,189.2 L406.8,190.8 L406.8,192.2 L406.8,193.8 L406.8,195.2 L406.9,196.8 L406.9,198.2 L406.9,199.8 L406.9,201.2 L407.0,202.8 L407.0,204.2 L407.0,205.8 L407.0,207.2 L407.1,208.8 L407.1,210.2 L407.1,211.8 L407.1,213.2 L407.1,214.8 L407.2,216.2 L407.2,217.8 L407.2,219.2 L407.2,220.8 L407.3,222.2 L407.3,223.8 L407.3,225.2 L407.4,226.8 L407.4,228.2 L407.4,229.8 L407.4,231.2 L407.5,232.8 L407.5,234.2 L407.5,235.8 L407.5,237.2 L407.6,238.8 L407.6,240.2 L407.6,241.8 L407.7,243.2 L407.7,244.8 L407.7,246.2 L407.7,247.8 L407.8,249.2 L407.8,250.8 L407.8,252.2 L407.9,253.8 L407.9,255.2 L407.9,256.8 L408.0,258.2 L408.0,259.8 L408.0,261.2 L408.0,262.8 L408.1,264.2 L408.1,265.8 L408.1,267.2 L408.2,268.8 L408.2,270.2 L408.2,271.8 L408.3,273.2 L408.3,274.8 L408.3,276.2 L408.4,277.8 L408.4,279.2 L408.4,280.8 L408.5,282.2 L408.5,283.8 L408.6,285.2 L408.6,286.8 L408.6,288.2 L408.7,289.8 L408.7,291.2 L408.7,292.8 L408.8,294.2 L408.8,295.8 L408.8,297.2 L408.9,298.8 L408.9,300.2 L409.0,301.8 L409.0,303.2 L409.0,304.8 L409.1,306.2 L409.1,307.8 L409.2,309.2 L409.2,310.8 L409.2,312.2 L409.3,313.8 L409.3,315.2 L409.4,316.8 L409.4,318.2 L409.5,319.8 L409.5,321.2 L409.6,322.8 L409.6,324.2 L409.7,325.8 L409.7,327.2 L409.8,328.8 L409.8,330.2 L409.9,331.8 L410.0,333.2 L410.0,334.8 L410.1,336.2 L410.1,337.8 L410.2,339.2 L410.3,340.8 L410.4,342.2 L410.4,343.8 L410.5,345.2 L410.6,346.8 L410.7,348.2 L410.7,349.8 L410.8,351.2 L410.9,352.8 L411.0,354.2 L411.1,355.8 L411.2,357.2 L411.3,358.8 L411.4,360.2 L411.5,361.8 L411.6,363.2 L411.7,364.8 L411.8,366.2 L411.9,367.8 L412.0,369.2 L412.2,370.8 L412.3,372.2 L412.4,373.8 L412.5,375.2 L412.7,376.8 L412.8,378.2 L413.0,379.8 L413.1,381.2 L413.2,382.8 L413.4,384.2 L413.6,385.8 L413.7,387.2 L413.9,388.8 L414.0,390.2 L414.2,391.8 L414.4,393.2 L414.6,394.8 L414.8,396.2 L415.0,397.8 L415.1,399.2 L415.3,400.8 L415.5,402.2 L415.8,403.8 L416.0,405.2 L416.2,406.8 L416.4,408.2 L416.6,409.8 L416.9,411.2 L417.1,412.8 L417.3,414.2 L417.6,415.8 L417.8,417.2 L418.1,418.8 L418.4,420.2 L418.6,421.8 L418.9,423.2 L419.2,424.8 L419.5,426.2 L419.8,427.8 L420.1,429.2 L420.4,430.8 L420.7,432.2 L421.1,433.8 L421.4,435.2 L421.8,436.8 L422.1,438.2 L422.5,439.8 L422.9,441.2 L423.3,442.8 L423.7,444.2 L424.1,445.8 L424.5,447.2 L424.9,448.8 L425.4,450.2 L425.8,451.8 L426.3,453.2 L426.8,454.8 L427.2,456.2 L427.7,457.8 L428.3,459.2 L428.8,460.8 L429.3,462.2 L429.9,463.8 L430.4,465.2 L431.0,466.8 L431.6,468.2 L432.2,469.8 L432.8,471.2 L433.4,472.8 L434.0,474.2 L434.6,475.8 L435.3,477.2 L435.9,478.8 L436.6,480.2 L437.3,481.8 L437.9,483.2 L438.6,484.8 L439.3,486.2 L440.0,487.8 L440.7,489.2 L441.5,490.8 L442.2,492.2 L442.9,493.8 L443.7,495.2 L444.4,496.8 L445.2,498.2 L445.9,499.8 L446.7,501.2 L447.5,502.8 L448.3,504.2 L449.1,505.8 L449.9,507.2 L450.7,508.8 L451.5,510.2 L452.3,511.8 L453.1,513.2 L453.9,514.8 L454.8,516.2 L455.6,517.8 L456.4,519.2 L457.3,520.8 L458.1,522.2 L458.9,523.8 L459.8,525.2 L460.6,526.8 L461.5,528.2 L462.4,529.8 L463.2,531.2 L464.1,532.8 L464.9,534.2 L465.8,535.8 L466.7,537.2 L467.5,538.8 L468.4,540.2 L469.3,541.8 L470.2,543.2 L471.0,544.8 L471.9,546.2 L472.8,547.8 L473.6,549.2 L474.5,550.8 L475.4,552.2 L476.3,553.8 L477.2,555.2 L478.0,556.8 L478.9,558.2 L479.8,559.8 L480.7,561.2 L481.5,562.8 L482.4,564.2 L483.3,565.8 L484.2,567.2 L485.0,568.8 L485.9,570.2 L486.8,571.8 L487.7,573.2 L488.7,574.8 L489.6,576.2 L490.5,577.8 L491.5,579.2 L492.5,580.8 L493.6,582.2 L494.6,583.8 L495.7,585.2 L496.8,586.8 L498.0,588.2 L499.2,589.8 L500.5,591.2 L501.7,592.8 L503.1,594.2 L504.0,595.2"/>
<path d="M418.4,85.8 L418.4,87.2 L418.5,88.8 L418.5,90.2 L418.5,91.8 L418.5,93.2 L418.5,94.8 L418.5,96.2 L418.6,97.8 L418.6,99.2 L418.6,100.8 L418.6,102.2 L418.6,103.8 L418.6,105.2 L418.7,106.8 L418.7,108.2 L418.7,109.8 L418.7,111.2 L418.7,112.8 L418.8,114.2 L418.8,115.8 L418.8,117.2 L418.8,118.8 L418.8,120.2 L418.8,121.8 L418.9,123.2 L418.9,124.8 L418.9,126.2 L418.9,127.8 L418.9,129.2 L419.0,130.8 L419.0,132.2 L419.0,133.8 L419.0,135.2 L419.0,136.8 L419.0,138.2 L419.1,139.8 L419.1,141.2 L419.1,142.8 L419.1,144.2 L419.1,145.8 L419.2,147.2 L419.2,148.8 L419.2,150.2 L419.2,151.8 L419.2,153.2 L419.3,154.8 L419.3,156.2 L419.3,157.8 L419.3,159.2 L419.3,160.8 L419.4,162.2 L419.4,163.8 L419.4,165.2 L419.4,166.8 L419.4,168.2 L419.5,169.8 L419.5,171.2 L419.5,172.8 L419.5,174.2 L419.6,175.8 L419.6,177.2 L419.6,178.8 L419.6,180.2 L419.7,181.8 L419.7,183.2 L419.7,184.8 L419.7,186.2 L419.7,187.8 L419.8,189.2 L419.8,190.8 L419.8,192.2 L419.8,193.8 L419.9,195.2 L419.9,196.8 L419.9,198.2 L419.9,199.8 L420.0,201.2 L420.0,202.8 L420.0,204.2 L420.1,205.8 L420.1,207.2 L420.1,208.8 L420.1,210.2 L420.2,211.8 L420.2,213.2 L420.2,214.8 L420.3,216.2 L420.3,217.8 L420.3,219.2 L420.3,220.8 L420.4,222.2 L420.4,223.8 L420.4,225.2 L420.5,226.8 L420.5,228.2 L420.5,229.8 L420.6,231.2 L420.6,232.8 L420.6,234.2 L420.7,235.8 L420.7,237.2 L420.7,238.8 L420.8,240.2 L420.8,241.8 L420.8,243.2 L420.9,244.8 L420.9,246.2 L420.9,247.8 L421.0,249.2 L421.0,250.8 L421.0,252.2 L421.1,253.8 L421.1,255.2 L421.2,256.8 L421.2,258.2 L421.2,259.8 L421.3,261.2 L421.3,262.8 L421.4,264.2 L421.4,265.8 L421.4,267.2 L421.5,268.8 L421.5,270.2 L421.6,271.8 L421.6,273.2 L421.7,274.8 L421.7,276.2 L421.7,277.8 L421.8,279.2 L421.8,280.8 L421.9,282.2 L421.9,283.8 L422.0,285.2 L422.0,286.8 L422.1,288.2 L422.1,289.8 L422.2,291.2 L422.2,292.8 L422.3,294.2 L422.3,295.8 L422.4,297.2 L422.4,298.8 L422.5,300.2 L422.5,301.8 L422.6,303.2 L422.6,304.8 L422.7,306.2 L422.7,307.8 L422.8,309.2 L422.8,310.8 L422.9,312.2 L423.0,313.8 L423.0,315.2 L423.1,316.8 L423.1,318.2 L423.2,319.8 L423.3,321.2 L423.3,322.8 L423.4,324.2 L423.5,325.8 L423.5,327.2 L423.6,328.8 L423.7,330.2 L423.8,331.8 L423.8,333.2 L423.9,334.8 L424.0,336.2 L424.1,337.8 L424.2,339.2 L424.2,340.8 L424.3,342.2 L424.4,343.8 L424.5,345.2 L424.6,346.8 L424.7,348.2 L424.8,349.8 L424.9,351.2 L425.0,352.8 L425.1,354.2 L425.3,355.8 L425.4,357.2 L425.5,358.8 L425.6,360.2 L425.7,361.8 L425.9,363.2 L426.0,364.8 L426.1,366.2 L426.3,367.8 L426.4,369.2 L426.6,370.8 L426.7,372.2 L426.9,373.8 L427.0,375.2 L427.2,376.8 L427.3,378.2 L427.5,379.8 L427.7,381.2 L427.9,382.8 L428.0,384.2 L428.2,385.8 L428.4,387.2 L428.6,388.8 L428.8,390.2 L429.0,391.8 L429.2,393.2 L429.4,394.8 L429.6,396.2 L429.8,397.8 L430.1,399.2 L430.3,400.8 L430.5,402.2 L430.8,403.8 L431.0,405.2 L431.3,406.8 L431.5,408.2 L431.8,409.8 L432.0,411.2 L432.3,412.8 L432.6,414.2 L432.9,415.8 L433.1,417.2 L433.4,418.8 L433.7,420.2 L434.0,421.8 L434.3,423.2 L434.7,424.8 L435.0,426.2 L435.3,427.8 L435.7,429.2 L436.0,430.8 L436.4,432.2 L436.7,433.8 L437.1,435.2 L437.5,436.8 L437.9,438.2 L438.3,439.8 L438.7,441.2 L439.1,442.8 L439.5,444.2 L439.9,445.8 L440.4,447.2 L440.8,448.8 L441.3,450.2 L441.7,451.8 L442.2,453.2 L442.7,454.8 L443.2,456.2 L443.7,457.8 L444.2,459.2 L444.8,460.8 L445.3,462.2 L445.9,463.8 L446.4,465.2 L447.0,466.8 L447.6,468.2 L448.2,469.8 L448.8,471.2 L449.4,472.8 L450.1,474.2 L450.7,475.8 L451.4,477.2 L452.0,478.8 L452.7,480.2 L453.4,481.8 L454.1,483.2 L454.8,484.8 L455.6,486.2 L456.3,487.8 L457.1,489.2 L457.8,490.8 L458.6,492.2 L459.4,493.8 L460.2,495.2 L461.0,496.8 L461.9,498.2 L462.7,499.8 L463.5,501.2 L464.4,502.8 L465.2,504.2 L466.1,505.8 L466.9,507.2 L467.8,508.8 L468.7,510.2 L469.5,511.8 L470.4,513.2 L471.3,514.8 L472.2,516.2 L473.0,517.8 L473.9,519.2 L474.8,520.8 L475.7,522.2 L476.5,523.8 L477.4,525.2 L478.2,526.8 L479.1,528.2 L479.9,529.8 L480.8,531.2 L481.6,532.8 L482.5,534.2 L483.3,535.8 L484.1,537.2 L485.0,538.8 L485.8,540.2 L486.6,541.8 L487.4,543.2 L488.3,544.8 L489.1,546.2 L489.9,547.8 L490.7,549.2 L491.5,550.8 L492.3,552.2 L493.2,553.8 L494.0,555.2 L494.8,556.8 L495.6,558.2 L496.4,559.8 L497.2,561.2 L498.0,562.8 L498.9,564.2 L499.7,565.8 L500.5,567.2 L501.3,568.8 L502.2,570.2 L503.0,571.8 L503.8,573.2 L504.6,574.8 L505.5,576.2 L506.3,577.8 L507.1,579.2 L507.9,580.8 L508.8,582.2 L509.6,583.8 L510.4,585.2 L511.2,586.8 L512.0,588.2 L512.8,589.8 L513.7,591.2 L514.5,592.8 L515.3,594.2 L515.8,595.2"/>
<path d="M429.1,85.8 L429.1,87.2 L429.2,88.8 L429.2,90.2 L429.2,91.8 L429.2,93.2 L429.2,94.8 L429.3,96.2 L429.3,97.8 L429.3,99.2 L429.3,100.8 L429.3,102.2 L429.4,103.8 L429.4,105.2 L429.4,106.8 L429.4,108.2 L429.4,109.8 L429.5,111.2 L429.5,112.8 L429.5,114.2 L429.5,115.8 L429.5,117.2 L429.6,118.8 L429.6,120.2 L429.6,121.8 L429.6,123.2 L429.6,124.8 L429.6,126.2 L429.7,127.8 L429.7,129.2 L429.7,130.8 L429.7,132.2 L429.7,133.8 L429.7,135.2 L429.8,136.8 L429.8,138.2 L429.8,139.8 L429.8,141.2 L429.8,142.8 L429.8,144.2 L429.8,145.8 L429.9,147.2 L429.9,148.8 L429.9,150.2 L429.9,151.8 L429.9,153.2 L429.9,154.8 L430.0,156.2 L430.0,157.8 L430.0,159.2 L430.0,160.8 L430.0,162.2 L430.0,163.8 L430.1,165.2 L430.1,166.8 L430.1,168.2 L430.1,169.8 L430.1,171.2 L430.1,172.8 L430.2,174.2 L430.2,175.8 L430.2,177.2 L430.2,178.8 L430.2,180.2 L430.2,181.8 L430.3,183.2 L430.3,184.8 L430.3,186.2 L430.3,187.8 L430.3,189.2 L430.4,190.8 L430.4,192.2 L430.4,193.8 L430.4,195.2 L430.4,196.8 L430.5,198.2 L430.5,199.8 L430.5,201.2 L430.5,202.8 L430.6,204.2 L430.6,205.8 L430.6,207.2 L430.6,208.8 L430.6,210.2 L430.7,211.8 L430.7,213.2 L430.7,214.8 L430.7,216.2 L430.8,217.8 L430.8,219.2 L430.8,220.8 L430.8,222.2 L430.9,223.8 L430.9,225.2 L430.9,226.8 L431.0,228.2 L431.0,229.8 L431.0,231.2 L431.0,232.8 L431.1,234.2 L431.1,235.8 L431.1,237.2 L431.2,238.8 L431.2,240.2 L431.2,241.8 L431.3,243.2 L431.3,244.8 L431.3,246.2 L431.4,247.8 L431.4,249.2 L431.4,250.8 L431.5,252.2 L431.5,253.8 L431.5,255.2 L431.6,256.8 L431.6,258.2 L431.7,259.8 L431.7,261.2 L431.7,262.8 L431.8,264.2 L431.8,265.8 L431.9,267.2 L431.9,268.8 L432.0,270.2 L432.0,271.8 L432.0,273.2 L432.1,274.8 L432.1,276.2 L432.2,277.8 L432.2,279.2 L432.3,280.8 L432.3,282.2 L432.4,283.8 L432.4,285.2 L432.5,286.8 L432.5,288.2 L432.6,289.8 L432.6,291.2 L432.7,292.8 L432.8,294.2 L432.8,295.8 L432.9,297.2 L432.9,298.8 L433.0,300.2 L433.0,301.8 L433.1,303.2 L433.2,304.8 L433.2,306.2 L433.3,307.8 L433.4,309.2 L433.4,310.8 L433.5,312.2 L433.6,313.8 L433.6,315.2 L433.7,316.8 L433.8,318.2 L433.9,319.8 L433.9,321.2 L434.0,322.8 L434.1,324.2 L434.2,325.8 L434.3,327.2 L434.4,328.8 L434.5,330.2 L434.6,331.8 L434.7,333.2 L434.8,334.8 L434.9,336.2 L435.0,337.8 L435.1,339.2 L435.2,340.8 L435.3,342.2 L435.4,343.8 L435.5,345.2 L435.7,346.8 L435.8,348.2 L435.9,349.8 L436.1,351.2 L436.2,352.8 L436.3,354.2 L436.5,355.8 L436.6,357.2 L436.8,358.8 L436.9,360.2 L437.1,361.8 L437.3,363.2 L437.4,364.8 L437.6,366.2 L437.8,367.8 L438.0,369.2 L438.2,370.8 L438.3,372.2 L438.5,373.8 L438.7,375.2 L438.9,376.8 L439.2,378.2 L439.4,379.8 L439.6,381.2 L439.8,382.8 L440.1,384.2 L440.3,385.8 L440.5,387.2 L440.8,388.8 L441.0,390.2 L441.3,391.8 L441.6,393.2 L441.8,394.8 L442.1,396.2 L442.4,397.8 L442.7,399.2 L443.0,400.8 L443.3,402.2 L443.6,403.8 L443.9,405.2 L444.2,406.8 L444.5,408.2 L444.9,409.8 L445.2,411.2 L445.6,412.8 L445.9,414.2 L446.3,415.8 L446.7,417.2 L447.0,418.8 L447.4,420.2 L447.8,421.8 L448.2,423.2 L448.6,424.8 L449.0,426.2 L449.4,427.8 L449.8,429.2 L450.2,430.8 L450.7,432.2 L451.1,433.8 L451.5,435.2 L452.0,436.8 L452.4,438.2 L452.9,439.8 L453.4,441.2 L453.8,442.8 L454.3,444.2 L454.8,445.8 L455.3,447.2 L455.7,448.8 L456.2,450.2 L456.7,451.8 L457.2,453.2 L457.7,454.8 L458.3,456.2 L458.8,457.8 L459.3,459.2 L459.8,460.8 L460.4,462.2 L460.9,463.8 L461.5,465.2 L462.0,466.8 L462.6,468.2 L463.2,469.8 L463.8,471.2 L464.4,472.8 L465.0,474.2 L465.6,475.8 L466.2,477.2 L466.9,478.8 L467.5,480.2 L468.2,481.8 L468.9,483.2 L469.6,484.8 L470.3,486.2 L471.0,487.8 L471.8,489.2 L472.6,490.8 L473.3,492.2 L474.1,493.8 L474.9,495.2 L475.8,496.8 L476.6,498.2 L477.5,499.8 L478.3,501.2 L479.2,502.8 L480.1,504.2 L481.0,505.8 L481.9,507.2 L482.8,508.8 L483.8,510.2 L484.7,511.8 L485.6,513.2 L486.6,514.8 L487.5,516.2 L488.5,517.8 L489.5,519.2 L490.4,520.8 L491.4,522.2 L492.4,523.8 L493.4,525.2 L494.3,526.8 L495.3,528.2 L496.3,529.8 L497.3,531.2 L498.3,532.8 L499.3,534.2 L500.3,535.8 L501.3,537.2 L502.3,538.8 L503.3,540.2 L504.3,541.8 L505.3,543.2 L506.3,544.8 L507.3,546.2 L508.3,547.8 L509.3,549.2 L510.3,550.8 L511.3,552.2 L512.3,553.8 L513.3,555.2 L514.3,556.8 L515.4,558.2 L516.4,559.8 L517.4,561.2 L518.4,562.8 L519.5,564.2 L520.5,565.8 L521.6,567.2 L522.6,568.8 L523.6,570.2 L524.7,571.8 L525.7,573.2 L526.8,574.8 L527.8,576.2 L528.9,577.8 L529.9,579.2 L531.0,580.8 L532.0,582.2 L533.1,583.8 L534.1,585.2 L535.2,586.8 L536.3,588.2 L537.3,589.8 L538.4,591.2 L539.5,592.8 L540.5,594.2 L541.3,595.2"/>
<path d="M437.7,85.8 L437.7,87.2 L437.8,88.8 L437.8,90.2 L437.9,91.8 L437.9,93.2 L438.0,94.8 L438.0,96.2 L438.0,97.8 L438.1,99.2 L438.1,100.8 L438.1,102.2 L438.2,103.8 L438.2,105.2 L438.3,106.8 L438.3,108.2 L438.3,109.8 L438.4,111.2 L438.4,112.8 L438.4,114.2 L438.5,115.8 L438.5,117.2 L438.5,118.8 L438.5,120.2 L438.6,121.8 L438.6,123.2 L438.6,124.8 L438.7,126.2 L438.7,127.8 L438.7,129.2 L438.7,130.8 L438.8,132.2 L438.8,133.8 L438.8,135.2 L438.8,136.8 L438.8,138.2 L438.9,139.8 L438.9,141.2 L438.9,142.8 L438.9,144.2 L439.0,145.8 L439.0,147.2 L439.0,148.8 L439.0,150.2 L439.0,151.8 L439.1,153.2 L439.1,154.8 L439.1,156.2 L439.1,157.8 L439.1,159.2 L439.2,160.8 L439.2,162.2 L439.2,163.8 L439.2,165.2 L439.2,166.8 L439.2,168.2 L439.3,169.8 L439.3,171.2 L439.3,172.8 L439.3,174.2 L439.3,175.8 L439.4,177.2 L439.4,178.8 L439.4,180.2 L439.4,181.8 L439.4,183.2 L439.4,184.8 L439.5,186.2 L439.5,187.8 L439.5,189.2 L439.5,190.8 L439.5,192.2 L439.6,193.8 L439.6,195.2 L439.6,196.8 L439.6,198.2 L439.6,199.8 L439.7,201.2 L439.7,202.8 L439.7,204.2 L439.7,205.8 L439.7,207.2 L439.8,208.8 L439.8,210.2 L439.8,211.8 L439.8,213.2 L439.8,214.8 L439.9,216.2 L439.9,217.8 L439.9,219.2 L439.9,220.8 L440.0,222.2 L440.0,223.8 L440.0,225.2 L440.1,226.8 L440.1,228.2 L440.1,229.8 L440.1,231.2 L440.2,232.8 L440.2,234.2 L440.2,235.8 L440.3,237.2 L440.3,238.8 L440.3,240.2 L440.4,241.8 L440.4,243.2 L440.4,244.8 L440.5,246.2 L440.5,247.8 L440.5,249.2 L440.6,250.8 L440.6,252.2 L440.7,253.8 L440.7,255.2 L440.8,256.8 L440.8,258.2 L440.8,259.8 L440.9,261.2 L440.9,262.8 L441.0,264.2 L441.0,265.8 L441.1,267.2 L441.1,268.8 L441.2,270.2 L441.2,271.8 L441.3,273.2 L441.3,274.8 L441.4,276.2 L441.5,277.8 L441.5,279.2 L441.6,280.8 L441.6,282.2 L441.7,283.8 L441.8,285.2 L441.8,286.8 L441.9,288.2 L442.0,289.8 L442.0,291.2 L442.1,292.8 L442.2,294.2 L442.2,295.8 L442.3,297.2 L442.4,298.8 L442.5,300.2 L442.5,301.8 L442.6,303.2 L442.7,304.8 L442.8,306.2 L442.9,307.8 L442.9,309.2 L443.0,310.8 L443.1,312.2 L443.2,313.8 L443.3,315.2 L443.4,316.8 L443.5,318.2 L443.6,319.8 L443.7,321.2 L443.8,322.8 L443.9,324.2 L444.0,325.8 L444.1,327.2 L444.2,328.8 L444.4,330.2 L444.5,331.8 L444.6,333.2 L444.7,334.8 L444.8,336.2 L445.0,337.8 L445.1,339.2 L445.2,340.8 L445.4,342.2 L445.5,343.8 L445.7,345.2 L445.8,346.8 L446.0,348.2 L446.1,349.8 L446.3,351.2 L446.4,352.8 L446.6,354.2 L446.8,355.8 L447.0,357.2 L447.1,358.8 L447.3,360.2 L447.5,361.8 L447.7,363.2 L447.9,364.8 L448.1,366.2 L448.3,367.8 L448.5,369.2 L448.7,370.8 L448.9,372.2 L449.1,373.8 L449.3,375.2 L449.6,376.8 L449.8,378.2 L450.0,379.8 L450.3,381.2 L450.5,382.8 L450.8,384.2 L451.0,385.8 L451.3,387.2 L451.6,388.8 L451.8,390.2 L452.1,391.8 L452.4,393.2 L452.7,394.8 L453.0,396.2 L453.3,397.8 L453.6,399.2 L453.9,400.8 L454.2,402.2 L454.5,403.8 L454.8,405.2 L455.2,406.8 L455.5,408.2 L455.8,409.8 L456.2,411.2 L456.5,412.8 L456.9,414.2 L457.3,415.8 L457.6,417.2 L458.0,418.8 L458.4,420.2 L458.8,421.8 L459.2,423.2 L459.6,424.8 L460.0,426.2 L460.4,427.8 L460.8,429.2 L461.3,430.8 L461.7,432.2 L462.1,433.8 L462.6,435.2 L463.0,436.8 L463.5,438.2 L464.0,439.8 L464.4,441.2 L464.9,442.8 L465.4,444.2 L465.9,445.8 L466.4,447.2 L466.9,448.8 L467.4,450.2 L467.9,451.8 L468.5,453.2 L469.0,454.8 L469.6,456.2 L470.1,457.8 L470.7,459.2 L471.2,460.8 L471.8,462.2 L472.4,463.8 L473.0,465.2 L473.6,466.8 L474.2,468.2 L474.9,469.8 L475.5,471.2 L476.2,472.8 L476.8,474.2 L477.5,475.8 L478.2,477.2 L478.9,478.8 L479.7,480.2 L480.4,481.8 L481.2,483.2 L481.9,484.8 L482.7,486.2 L483.6,487.8 L484.4,489.2 L485.3,490.8 L486.1,492.2 L487.0,493.8 L487.9,495.2 L488.9,496.8 L489.8,498.2 L490.8,499.8 L491.7,501.2 L492.7,502.8 L493.7,504.2 L494.7,505.8 L495.7,507.2 L496.8,508.8 L497.8,510.2 L498.8,511.8 L499.9,513.2 L500.9,514.8 L502.0,516.2 L503.1,517.8 L504.1,519.2 L505.2,520.8 L506.3,522.2 L507.3,523.8 L508.4,525.2 L509.4,526.8 L510.5,528.2 L511.6,529.8 L512.6,531.2 L513.7,532.8 L514.7,534.2 L515.8,535.8 L516.9,537.2 L517.9,538.8 L519.0,540.2 L520.0,541.8 L521.1,543.2 L522.2,544.8 L523.2,546.2 L524.3,547.8 L525.4,549.2 L526.4,550.8 L527.5,552.2 L528.6,553.8 L529.7,555.2 L530.8,556.8 L531.9,558.2 L533.0,559.8 L534.1,561.2 L535.2,562.8 L536.3,564.2 L537.4,565.8 L538.5,567.2 L539.7,568.8 L540.8,570.2 L541.9,571.8 L543.1,573.2 L544.2,574.8 L545.4,576.2 L546.5,577.8 L547.6,579.2 L548.8,580.8 L549.9,582.2 L551.0,583.8 L552.1,585.2 L553.2,586.8 L554.3,588.2 L555.4,589.8 L556.5,591.2 L557.5,592.8 L558.6,594.2 L559.3,595.2"/>
</g>
<rect x="70.6" y="85.75" width="573.1" height="509.95000000000005" fill="none" stroke="#000" stroke-width="1.6"/>
<g style="font-family:'Liberation Sans',sans-serif;font-size:7.3px" fill="#111" stroke="#111" stroke-width="0.12">
<text transform="translate(160.2,82.2) rotate(-90)">32mA</text>
<text transform="translate(171.9,82.2) rotate(-90)">40mA</text>
<text transform="translate(183.3,82.2) rotate(-90)">50mA</text>
<text transform="translate(194.7,82.2) rotate(-90)">63mA</text>
<text transform="translate(206.8,82.2) rotate(-90)">80mA</text>
<text transform="translate(218.7,82.2) rotate(-90)">100mA</text>
<text transform="translate(229.5,82.2) rotate(-90)">125mA</text>
<text transform="translate(243.2,82.2) rotate(-90)">160mA</text>
<text transform="translate(252.4,82.2) rotate(-90)">200mA</text>
<text transform="translate(266.4,82.2) rotate(-90)">250mA</text>
<text transform="translate(278.0,82.2) rotate(-90)">315mA</text>
<text transform="translate(288.7,82.2) rotate(-90)">400mA</text>
<text transform="translate(299.9,82.2) rotate(-90)">500mA</text>
<text transform="translate(309.0,82.2) rotate(-90)">630mA</text>
<text transform="translate(321.5,82.2) rotate(-90)">800mA</text>
<text transform="translate(330.1,82.2) rotate(-90)">1A</text>
<text transform="translate(340.5,82.2) rotate(-90)">1.25A</text>
<text transform="translate(349.0,82.2) rotate(-90)">1.6A</text>
<text transform="translate(364.4,82.2) rotate(-90)">2A</text>
<text transform="translate(373.0,82.2) rotate(-90)">2.5A</text>
<text transform="translate(385.3,82.2) rotate(-90)">3.15A</text>
<text transform="translate(395.5,82.2) rotate(-90)">4A</text>
<text transform="translate(407.8,82.2) rotate(-90)">5A</text>
<text transform="translate(420.3,82.2) rotate(-90)">6.3A</text>
<text transform="translate(430.3,82.2) rotate(-90)">8A</text>
<text transform="translate(439.3,82.2) rotate(-90)">10A</text>
</g>
<g style="font-family:'Liberation Sans',sans-serif;font-size:13.5px;letter-spacing:0.45px" fill="#111" text-anchor="end">
<text x="59.6" y="90.9">10000</text>
<text x="59.6" y="175.9">1000</text>
<text x="59.6" y="260.9">100</text>
<text x="59.6" y="345.9">10</text>
<text x="59.6" y="430.9">1</text>
<text x="59.6" y="515.9">0.1</text>
<text x="59.6" y="600.9">0.01</text>
</g>
<g style="font-family:'Liberation Sans',sans-serif;font-size:13.5px;letter-spacing:0.45px" fill="#111" text-anchor="middle">
<text x="70.0" y="621.3">0.01</text>
<text x="184.6" y="621.3">0.1</text>
<text x="299.2" y="621.3">1</text>
<text x="413.9" y="621.3">10</text>
<text x="528.5" y="621.3">100</text>
<text x="643.1" y="621.3">1000</text>
</g>
<text style="font-family:'Liberation Sans',sans-serif;font-size:12.5px" fill="#222" transform="translate(17.4,378.6) rotate(-90)">Time In Seconds</text>
<text style="font-family:'Liberation Sans',sans-serif;font-size:12.5px;letter-spacing:0.08px" fill="#222" x="317.2" y="647.8">Current In Amps</text>
<text style="font-family:'Liberation Sans',sans-serif;font-size:12.5px" fill="#222" x="607.2" y="62.3">Amp</text>
<text style="font-family:'Liberation Sans',sans-serif;font-size:12.5px" fill="#222" x="607.2" y="77.3">Rating</text>
<text style="font-family:'Liberation Sans',sans-serif;font-size:14px;font-weight:bold;letter-spacing:0.23px" fill="#231815" x="287" y="23.8">Time-current Curve</text>
<text style="font-family:'Liberation Sans',sans-serif;font-size:17px;letter-spacing:0.28px" fill="#111" x="185.5" y="47.8">Nominal Time/Current Characteristics</text>
<rect x="534.5" y="150" width="1.2" height="2.4" fill="#333"/>
</svg>
</div>
<div class="gs">
<svg class="abs" style="left:0;top:660px" width="700" height="170" viewBox="0 660 700 170">
 <g stroke="#6e6969" stroke-width="1.5" fill="none">
  <rect x="6.2" y="671.85" width="687.7" height="75.85"/>
  <path d="M6.2,690.3H693.9 M6.2,704.4H693.9 M6.2,718.9H693.9 M6.2,733.3H693.9 M130.3,690.3V745.6"/>
  <rect x="6.2" y="765.6" width="687.7" height="47.1"/>
  <path d="M6.2,784.7H693.9 M6.2,798.9H693.9 M130.3,784.7V810.8"/>
 </g>
</svg>
<div class="tbl" style="top:671.1px;height:77.35px">
 <div class="tt" style="top:1.95px">Packaging Code</div>
 <div class="c1" style="top:19.6px">Packaging Prefix</div><div class="c2 c2b" style="top:19.6px">Description</div>
 <div class="c1" style="top:34px">BK</div><div class="c2" style="top:34px">100 fuses packed into a cardboard carton</div>
 <div class="c1" style="top:48.4px">BK1</div><div class="c2" style="top:48.4px">1000 fuses packed into a poly bag</div>
 <div class="c1" style="top:62.7px">TR2</div><div class="c2" style="top:62.7px">1500 fuses packed into tape on a reel (19.05mm lead wire length)</div>
</div>
<div class="tbl" style="top:764.85px;height:48.6px">
 <div class="tt" style="top:3px">Option Code</div>
 <div class="c1" style="top:19.8px">Option Code</div><div class="c2 c2b" style="top:19.8px">Description</div>
 <div class="c1" style="top:34.1px">V</div><div class="c2" style="top:34.6px">Axial leads - copper tinned wire with nickel plated brass endcaps</div>
</div>
<div class="para">
<div style="word-spacing:0.205px">The only controlled copy of this Data Sheet is the electronic read-only version located on the Cooper Bussmann Network Drive. All other copies of</div>
<div style="word-spacing:-0.604px">this document are by definition uncontrolled. This bulletin is intended to clearly present comprehensive product data and provide technical information</div>
<div style="word-spacing:0.510px">that will help the end user with design applications. Cooper Bussmann reserves the right, without notice, to change design or construction of any</div>
<div style="word-spacing:0.090px">products and to discontinue or limit distribution of any products. Cooper Bussmann also reserves the right to change or update, without notice, any</div>
<div style="word-spacing:0.082px">technical information contained in this bulletin. Once a product has been selected, it should be tested by the user in all possible applications.</div>
</div>
</div>
<svg class="abs" style="left:0;top:945px" width="700" height="83" viewBox="0 945 700 83">
 <defs>
  <linearGradient id="cg" x1="0" x2="1" y1="0" y2="0"><stop offset="0" stop-color="#c30d2e"/><stop offset="0.5" stop-color="#c8102e"/><stop offset="0.8" stop-color="#e06a7c"/><stop offset="1" stop-color="#f6d0d6"/></linearGradient>
 </defs>
 <polygon points="5.8,952.6 694.3,952.6 694.3,980 625.7,980 566.3,1000.4 5.8,1000.4" fill="#ffe100"/>
 <!-- coiltronics -->
 <rect x="171.6" y="970" width="106.8" height="25.6" fill="#fff" stroke="#777" stroke-width="0.8"/>
 <g transform="translate(186.3,982.4)">
  <circle r="10.6" fill="url(#cg)"/>
  <circle r="4.5" fill="#fff"/>
  <polygon points="0.5,-3 11,-3.2 11,3.2 0.5,3" fill="#fff"/>
 </g>
 <circle cx="273" cy="979.3" r="0.9" fill="#111"/>
 <circle cx="399.6" cy="981.8" r="1" fill="#111"/>
 <circle cx="521.3" cy="976.5" r="0.9" fill="#c8102e"/>
 <!-- bussmann -->
 <rect x="302.8" y="971.2" width="100.8" height="25.3" fill="#ffe100" stroke="#111" stroke-width="1.5"/>
 <polygon points="319,959.4 328.2,956.2 328.2,960.1 319,963.3" fill="#e8334a"/>
 <!-- powerstor -->
 <rect x="427.2" y="971.4" width="97" height="24.2" fill="#fff" stroke="#333" stroke-width="1"/>
 <text x="430.6" y="991.3" style="font-family:'Liberation Sans',sans-serif;font-weight:bold;font-style:italic;font-size:22px" fill="#c8102e" stroke="#c8102e" stroke-width="0.9" stroke-linejoin="round" textLength="88.6" lengthAdjust="spacingAndGlyphs">PowerStor</text>
 <!-- cooper bussmann -->
 <polygon points="597,997 616.6,990.2 616.6,998 597,1004.8" fill="#e8232a"/>
</svg>
<div class="gs">
<svg class="abs" style="left:0;top:945px" width="700" height="83" viewBox="0 945 700 83">
 <text x="200" y="987.2" style="font-family:'Liberation Sans',sans-serif;font-weight:bold;font-style:italic;font-size:12.7px" fill="#111" stroke="#111" stroke-width="0.8" stroke-linejoin="round" textLength="71" lengthAdjust="spacingAndGlyphs">COILTRONICS</text>
 <text x="309.4" y="992" style="font-family:'Liberation Sans',sans-serif;font-weight:bold;font-size:21.5px" fill="#111" stroke="#111" stroke-width="1.1" stroke-linejoin="round" textLength="87.6" lengthAdjust="spacingAndGlyphs">Bussmann</text>
 <text x="304.3" y="969.3" style="font-family:'Liberation Sans',sans-serif;font-weight:bold;font-size:7.2px" fill="#111" stroke="#111" stroke-width="0.5" textLength="28" lengthAdjust="spacingAndGlyphs">COOPER</text>
 <text x="568.4" y="1015.4" style="font-family:'Liberation Sans',sans-serif;font-weight:bold;font-size:13.6px" fill="#231815" stroke="#231815" stroke-width="0.9" stroke-linejoin="round" textLength="56.2" lengthAdjust="spacingAndGlyphs">COOPER</text>
 <text x="628.6" y="1015.4" style="font-family:'Liberation Sans',sans-serif;font-size:14.2px" fill="#231815" stroke="#231815" stroke-width="0.2" textLength="65.8" lengthAdjust="spacingAndGlyphs">Bussmann</text>
</svg>
</div>
<div class="gs">
<div class="mono" style="left:13.4px;top:964.6px;font-size:9.2px;color:#333">'2013 Cooper Bussmann</div>
<div class="mono" style="left:13.4px;top:975.5px;font-size:9.2px;color:#333">www.cooperbussmann.com</div>
<div class="mono" style="left:6.8px;top:1003.6px;font-size:7.7px;color:#555">0113</div>
<div class="mono" style="left:45.2px;top:1003.6px;font-size:7.7px;color:#555">BU?SB121092</div>
<div class="mono" style="left:375px;top:1003.6px;font-size:7.8px;color:#555">Page 2 of 2</div>
<div class="mono" style="left:477.6px;top:1003.6px;font-size:7.8px;color:#555">Data Sheet 2052</div>
</div>

</body></html>
